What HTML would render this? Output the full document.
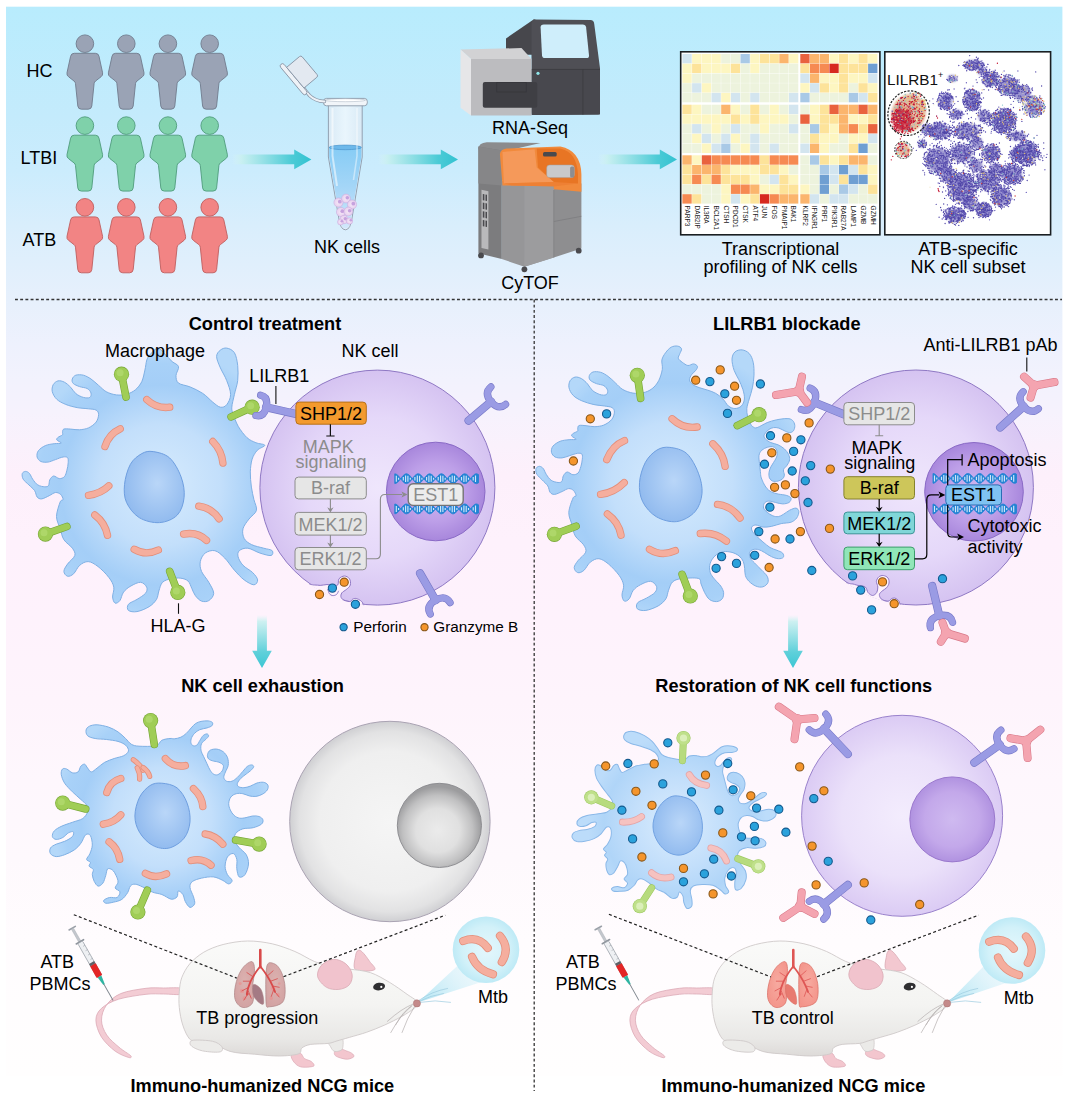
<!DOCTYPE html>
<html><head><meta charset="utf-8"><title>Graphical abstract</title>
<style>html,body{margin:0;padding:0;background:#fff}svg{display:block}text{font-family:"Liberation Sans",sans-serif}</style>
</head><body>
<svg width="1067" height="1104" viewBox="0 0 1067 1104">
<!-- p00_base -->
<defs>
<linearGradient id="bg" x1="0" y1="0" x2="0" y2="1">
<stop offset="0.0000" stop-color="#b8ecfd"/>
<stop offset="0.1022" stop-color="#c4ebfc"/>
<stop offset="0.1527" stop-color="#cbecfd"/>
<stop offset="0.2051" stop-color="#d9eefc"/>
<stop offset="0.2762" stop-color="#e7f0fc"/>
<stop offset="0.3173" stop-color="#eef1fd"/>
<stop offset="0.3491" stop-color="#f2f2fd"/>
<stop offset="0.3790" stop-color="#f6f2fd"/>
<stop offset="0.4099" stop-color="#faf1fc"/>
<stop offset="0.4380" stop-color="#fdf0fb"/>
<stop offset="0.4987" stop-color="#fef1fc"/>
<stop offset="0.5736" stop-color="#fef2fc"/>
<stop offset="0.6484" stop-color="#fef4fc"/>
<stop offset="0.7232" stop-color="#fef7fd"/>
<stop offset="0.7980" stop-color="#fef9fd"/>
<stop offset="0.8728" stop-color="#fffcfe"/>
<stop offset="1.0000" stop-color="#fffefe"/>
</linearGradient>
<linearGradient id="bgU" href="#bg" gradientUnits="userSpaceOnUse" x1="0" y1="6.7" x2="0" y2="1076"/>
<linearGradient id="arH" x1="0" y1="0" x2="1" y2="0">
<stop offset="0" stop-color="#d8f4f4" stop-opacity="0.0"/>
<stop offset="0.12" stop-color="#c8f0f0" stop-opacity="0.9"/>
<stop offset="0.75" stop-color="#4ccbd6"/>
<stop offset="1" stop-color="#33c2d1"/>
</linearGradient>
<linearGradient id="arV" x1="0" y1="0" x2="0" y2="1">
<stop offset="0" stop-color="#d8f4f4" stop-opacity="0.0"/>
<stop offset="0.12" stop-color="#c8f0f0" stop-opacity="0.9"/>
<stop offset="0.7" stop-color="#5fd0da"/>
<stop offset="1" stop-color="#3cc6d4"/>
</linearGradient>
</defs>
<rect x="0" y="0" width="1067" height="1104" fill="#ffffff"/>
<rect x="6" y="6.7" width="1056.4" height="1069.3" fill="url(#bg)"/>
<path d="M15 299.5H1062M534.2 299.5V1091" fill="none" stroke="#333" stroke-width="1.3" stroke-dasharray="2.9 2.3"/>
<!-- p01_people -->
<path d="M74.4 53.3h21 q3 0 3.6 3 l3.6 16.5 q0.5 2.6 -1.6 4 l-5.4 4.2 q-1.3 1 -1.5 2.6 l-2.3 22.4 q-0.4 3.2 -3.6 3.2 h-6.8 q-3.2 0 -3.6 -3.2 l-2.3 -22.4 q-0.2 -1.6 -1.5 -2.6 l-5.4 -4.2 q-2.1 -1.4 -1.6 -4 l3.6 -16.5 q0.6 -3 3.6 -3z" fill="#9aa3b5" stroke="#717a8c" stroke-width="0.9"/><circle cx="84.9" cy="43.7" r="8.8" fill="#9aa3b5" stroke="#717a8c" stroke-width="0.9"/>
<path d="M115.8 53.3h21 q3 0 3.6 3 l3.6 16.5 q0.5 2.6 -1.6 4 l-5.4 4.2 q-1.3 1 -1.5 2.6 l-2.3 22.4 q-0.4 3.2 -3.6 3.2 h-6.8 q-3.2 0 -3.6 -3.2 l-2.3 -22.4 q-0.2 -1.6 -1.5 -2.6 l-5.4 -4.2 q-2.1 -1.4 -1.6 -4 l3.6 -16.5 q0.6 -3 3.6 -3z" fill="#9aa3b5" stroke="#717a8c" stroke-width="0.9"/><circle cx="126.3" cy="43.7" r="8.8" fill="#9aa3b5" stroke="#717a8c" stroke-width="0.9"/>
<path d="M157.4 53.3h21 q3 0 3.6 3 l3.6 16.5 q0.5 2.6 -1.6 4 l-5.4 4.2 q-1.3 1 -1.5 2.6 l-2.3 22.4 q-0.4 3.2 -3.6 3.2 h-6.8 q-3.2 0 -3.6 -3.2 l-2.3 -22.4 q-0.2 -1.6 -1.5 -2.6 l-5.4 -4.2 q-2.1 -1.4 -1.6 -4 l3.6 -16.5 q0.6 -3 3.6 -3z" fill="#9aa3b5" stroke="#717a8c" stroke-width="0.9"/><circle cx="167.9" cy="43.7" r="8.8" fill="#9aa3b5" stroke="#717a8c" stroke-width="0.9"/>
<path d="M199.2 53.3h21 q3 0 3.6 3 l3.6 16.5 q0.5 2.6 -1.6 4 l-5.4 4.2 q-1.3 1 -1.5 2.6 l-2.3 22.4 q-0.4 3.2 -3.6 3.2 h-6.8 q-3.2 0 -3.6 -3.2 l-2.3 -22.4 q-0.2 -1.6 -1.5 -2.6 l-5.4 -4.2 q-2.1 -1.4 -1.6 -4 l3.6 -16.5 q0.6 -3 3.6 -3z" fill="#9aa3b5" stroke="#717a8c" stroke-width="0.9"/><circle cx="209.7" cy="43.7" r="8.8" fill="#9aa3b5" stroke="#717a8c" stroke-width="0.9"/>
<path d="M74.4 135.2h21 q3 0 3.6 3 l3.6 16.5 q0.5 2.6 -1.6 4 l-5.4 4.2 q-1.3 1 -1.5 2.6 l-2.3 22.4 q-0.4 3.2 -3.6 3.2 h-6.8 q-3.2 0 -3.6 -3.2 l-2.3 -22.4 q-0.2 -1.6 -1.5 -2.6 l-5.4 -4.2 q-2.1 -1.4 -1.6 -4 l3.6 -16.5 q0.6 -3 3.6 -3z" fill="#7fd1aa" stroke="#4f9c7c" stroke-width="0.9"/><circle cx="84.9" cy="125.6" r="8.8" fill="#7fd1aa" stroke="#4f9c7c" stroke-width="0.9"/>
<path d="M115.8 135.2h21 q3 0 3.6 3 l3.6 16.5 q0.5 2.6 -1.6 4 l-5.4 4.2 q-1.3 1 -1.5 2.6 l-2.3 22.4 q-0.4 3.2 -3.6 3.2 h-6.8 q-3.2 0 -3.6 -3.2 l-2.3 -22.4 q-0.2 -1.6 -1.5 -2.6 l-5.4 -4.2 q-2.1 -1.4 -1.6 -4 l3.6 -16.5 q0.6 -3 3.6 -3z" fill="#7fd1aa" stroke="#4f9c7c" stroke-width="0.9"/><circle cx="126.3" cy="125.6" r="8.8" fill="#7fd1aa" stroke="#4f9c7c" stroke-width="0.9"/>
<path d="M157.4 135.2h21 q3 0 3.6 3 l3.6 16.5 q0.5 2.6 -1.6 4 l-5.4 4.2 q-1.3 1 -1.5 2.6 l-2.3 22.4 q-0.4 3.2 -3.6 3.2 h-6.8 q-3.2 0 -3.6 -3.2 l-2.3 -22.4 q-0.2 -1.6 -1.5 -2.6 l-5.4 -4.2 q-2.1 -1.4 -1.6 -4 l3.6 -16.5 q0.6 -3 3.6 -3z" fill="#7fd1aa" stroke="#4f9c7c" stroke-width="0.9"/><circle cx="167.9" cy="125.6" r="8.8" fill="#7fd1aa" stroke="#4f9c7c" stroke-width="0.9"/>
<path d="M199.2 135.2h21 q3 0 3.6 3 l3.6 16.5 q0.5 2.6 -1.6 4 l-5.4 4.2 q-1.3 1 -1.5 2.6 l-2.3 22.4 q-0.4 3.2 -3.6 3.2 h-6.8 q-3.2 0 -3.6 -3.2 l-2.3 -22.4 q-0.2 -1.6 -1.5 -2.6 l-5.4 -4.2 q-2.1 -1.4 -1.6 -4 l3.6 -16.5 q0.6 -3 3.6 -3z" fill="#7fd1aa" stroke="#4f9c7c" stroke-width="0.9"/><circle cx="209.7" cy="125.6" r="8.8" fill="#7fd1aa" stroke="#4f9c7c" stroke-width="0.9"/>
<path d="M74.4 216.9h21 q3 0 3.6 3 l3.6 16.5 q0.5 2.6 -1.6 4 l-5.4 4.2 q-1.3 1 -1.5 2.6 l-2.3 22.4 q-0.4 3.2 -3.6 3.2 h-6.8 q-3.2 0 -3.6 -3.2 l-2.3 -22.4 q-0.2 -1.6 -1.5 -2.6 l-5.4 -4.2 q-2.1 -1.4 -1.6 -4 l3.6 -16.5 q0.6 -3 3.6 -3z" fill="#f28484" stroke="#bf5e5e" stroke-width="0.9"/><circle cx="84.9" cy="207.3" r="8.8" fill="#f28484" stroke="#bf5e5e" stroke-width="0.9"/>
<path d="M115.8 216.9h21 q3 0 3.6 3 l3.6 16.5 q0.5 2.6 -1.6 4 l-5.4 4.2 q-1.3 1 -1.5 2.6 l-2.3 22.4 q-0.4 3.2 -3.6 3.2 h-6.8 q-3.2 0 -3.6 -3.2 l-2.3 -22.4 q-0.2 -1.6 -1.5 -2.6 l-5.4 -4.2 q-2.1 -1.4 -1.6 -4 l3.6 -16.5 q0.6 -3 3.6 -3z" fill="#f28484" stroke="#bf5e5e" stroke-width="0.9"/><circle cx="126.3" cy="207.3" r="8.8" fill="#f28484" stroke="#bf5e5e" stroke-width="0.9"/>
<path d="M157.4 216.9h21 q3 0 3.6 3 l3.6 16.5 q0.5 2.6 -1.6 4 l-5.4 4.2 q-1.3 1 -1.5 2.6 l-2.3 22.4 q-0.4 3.2 -3.6 3.2 h-6.8 q-3.2 0 -3.6 -3.2 l-2.3 -22.4 q-0.2 -1.6 -1.5 -2.6 l-5.4 -4.2 q-2.1 -1.4 -1.6 -4 l3.6 -16.5 q0.6 -3 3.6 -3z" fill="#f28484" stroke="#bf5e5e" stroke-width="0.9"/><circle cx="167.9" cy="207.3" r="8.8" fill="#f28484" stroke="#bf5e5e" stroke-width="0.9"/>
<path d="M199.2 216.9h21 q3 0 3.6 3 l3.6 16.5 q0.5 2.6 -1.6 4 l-5.4 4.2 q-1.3 1 -1.5 2.6 l-2.3 22.4 q-0.4 3.2 -3.6 3.2 h-6.8 q-3.2 0 -3.6 -3.2 l-2.3 -22.4 q-0.2 -1.6 -1.5 -2.6 l-5.4 -4.2 q-2.1 -1.4 -1.6 -4 l3.6 -16.5 q0.6 -3 3.6 -3z" fill="#f28484" stroke="#bf5e5e" stroke-width="0.9"/><circle cx="209.7" cy="207.3" r="8.8" fill="#f28484" stroke="#bf5e5e" stroke-width="0.9"/>
<!-- p02_arrows -->
<path d="M232 154.5H294.2V149.6L311.4 159.4L294.2 169.2V164.3H232Z" fill="url(#arH)"/>
<path d="M378 154.5H440.8V149.6L458 159.4L440.8 169.2V164.3H378Z" fill="url(#arH)"/>
<path d="M598 154.5H659.8V149.6L677 159.4L659.8 169.2V164.3H598Z" fill="url(#arH)"/>
<path d="M257.1 615V650.8H252.2L262 668L271.8 650.8H266.9V615Z" fill="url(#arV)"/>
<path d="M788.1 615V650.8H783.2L793 668L802.8 650.8H797.9V615Z" fill="url(#arV)"/>
<!-- p03_tube -->
<defs>
<linearGradient id="liq" x1="0" y1="0" x2="0" y2="1"><stop offset="0" stop-color="#86ccf5"/><stop offset="0.5" stop-color="#a5d6f7"/><stop offset="1" stop-color="#d3e8fb"/></linearGradient>
<linearGradient id="tubeg" x1="0" y1="0" x2="1" y2="0"><stop offset="0" stop-color="#dfe9f3"/><stop offset="0.5" stop-color="#f5f9fd"/><stop offset="1" stop-color="#dfe9f3"/></linearGradient>
<radialGradient id="nkc" cx="0.5" cy="0.5" r="0.5"><stop offset="0" stop-color="#f6e8f7"/><stop offset="1" stop-color="#e6cfee"/></radialGradient>
</defs>
<path d="M328.4 104V157L338.6 217Q340.2 229.8 345.4 229.8Q350.6 229.8 352.2 217L362.2 157V104Z" fill="url(#tubeg)" fill-opacity="0.75" stroke="#8b98a8" stroke-width="0.9"/>
<path d="M329.2 147.2V157L339.4 217Q340.9 228.8 345.4 228.8Q349.9 228.8 351.4 217L361.4 157V147.2Z" fill="url(#liq)"/>
<ellipse cx="345.3" cy="147.4" rx="16.1" ry="2.3" fill="#6db8ea" stroke="#4a94cc" stroke-width="0.7"/>
<path d="M332.5 108V156L337 186" fill="none" stroke="#ffffff" stroke-opacity="0.55" stroke-width="2"/>
<path d="M357 108V156L353.5 180" fill="none" stroke="#ffffff" stroke-opacity="0.45" stroke-width="1.6"/>
<circle cx="338.5" cy="202.5" r="4.6" fill="url(#nkc)" stroke="#c9a6dc" stroke-width="0.5"/><circle cx="339.8" cy="201.7" r="1.9" fill="#c6a2de"/><circle cx="346" cy="198.5" r="4.4" fill="url(#nkc)" stroke="#c9a6dc" stroke-width="0.5"/><circle cx="347.3" cy="197.7" r="1.8" fill="#c6a2de"/><circle cx="352" cy="204.5" r="4.6" fill="url(#nkc)" stroke="#c9a6dc" stroke-width="0.5"/><circle cx="353.3" cy="203.7" r="1.9" fill="#c6a2de"/><circle cx="341" cy="212" r="4.6" fill="url(#nkc)" stroke="#c9a6dc" stroke-width="0.5"/><circle cx="342.3" cy="211.2" r="1.9" fill="#c6a2de"/><circle cx="348.3" cy="211.5" r="4.4" fill="url(#nkc)" stroke="#c9a6dc" stroke-width="0.5"/><circle cx="349.6" cy="210.7" r="1.8" fill="#c6a2de"/><circle cx="344" cy="219.5" r="4.2" fill="url(#nkc)" stroke="#c9a6dc" stroke-width="0.5"/><circle cx="345.3" cy="218.7" r="1.8" fill="#c6a2de"/><circle cx="349.5" cy="221" r="3.2" fill="url(#nkc)" stroke="#c9a6dc" stroke-width="0.5"/><circle cx="350.8" cy="220.2" r="1.3" fill="#c6a2de"/><circle cx="340.5" cy="222" r="3" fill="url(#nkc)" stroke="#c9a6dc" stroke-width="0.5"/><circle cx="341.8" cy="221.2" r="1.3" fill="#c6a2de"/>
<rect x="323.5" y="98.4" width="43.8" height="7.4" rx="3" fill="#f1f5f9" stroke="#8b98a8" stroke-width="0.9"/>
<ellipse cx="345.4" cy="100.2" rx="20" ry="1.5" fill="#ffffff" stroke="#a5b1bf" stroke-width="0.5"/>
<path d="M324.5 101.5Q315 101 309.5 95.5Q305.5 91 303.5 87.5" fill="none" stroke="#8b98a8" stroke-width="3.4" stroke-linecap="round"/>
<path d="M324.5 101.5Q315 101 309.5 95.5Q305.5 91 303.5 87.5" fill="none" stroke="#eef2f7" stroke-width="1.8" stroke-linecap="round"/>
<g transform="translate(297,76.3) rotate(50)"><rect x="-19.5" y="2.2" width="39" height="4.6" rx="2.3" fill="#eef2f7" stroke="#8b98a8" stroke-width="0.9"/><path d="M-13.5 2.2V-14.5Q-13.5 -16.5 -11.5 -16.5H11.5Q13.5 -16.5 13.5 -14.5V2.2Z" fill="#e3e9f1" stroke="#8b98a8" stroke-width="0.9"/></g>
<!-- p04_machines -->
<polygon points="506,38.4 533.6,19.5 535.4,19.5 535.4,54.7 506,54.7" fill="#47474c"/>
<path d="M533.6 19.5L590.6 20Q593.7 20 594.2 23.7L600 68.3L600 111.9Q600 114.6 597.1 114.6L534.1 115.1Q531.5 115.1 531.5 111.9L531.5 23.1Z" fill="#4f4f55"/>
<polygon points="531.5,69.4 600,69.4 600,114.6 531.5,115.1" fill="#48484e"/>
<path d="M531.5 69.4H600" stroke="#3a3a3f" stroke-width="0.8"/>
<path d="M582.9 69.4V114.6" stroke="#3a3a3f" stroke-width="0.8"/>
<path d="M540.6 27.3 Q540.6 24.5 543.8 24.5 L582.7 24.5 Q585.6 24.5 586.1 27.3 L589 55.2 Q589.3 58.1 586.4 58.1 L545.1 58.1 Q542.2 58.1 542 55.2 Z" fill="#cfeefb"/>
<circle cx="538" cy="73.3" r="1.6" fill="#8fe6ea"/>
<polygon points="460.5,49.4 521.5,48.1 531.5,58.9 471,58.9" fill="#d2d2d4"/>
<polygon points="460.5,49.4 471,58.9 471,115.6 460.5,107.7" fill="#e6e6e8"/>
<polygon points="471,58.9 531.5,58.9 531.5,115.6 471,115.6" fill="#bcbcbf"/>
<rect x="482.8" y="82" width="54.4" height="25.7" rx="2" fill="#3f3f44"/>
<rect x="496.8" y="82.5" width="29.4" height="9.5" fill="none" stroke="#333338" stroke-width="0.6"/>
<path d="M478.4 149.3 Q478.4 142.7 486.8 142.2 L540.6 142.9 L502.5 151.9 Z" fill="#8b8b8d"/>
<polygon points="478.4,146.6 501.8,150.6 501.8,259.1 478.4,253.3" fill="#7c7c7e"/>
<polygon points="478.4,146.6 501.8,150.6 501.8,185.5 478.4,183.4" fill="#868688"/>
<polygon points="481.5,189.7 488.4,191.3 488.4,249.6 481.5,248" fill="#b9b9bb"/>
<polygon points="482.8,193.9 484.4,194.2 484.4,200.5 482.8,200.2" fill="#4a4a4e"/>
<polygon points="485.5,194.4 487,194.7 487,201 485.5,200.8" fill="#4a4a4e"/>
<polygon points="482.8,202.6 484.4,202.9 484.4,209.2 482.8,208.9" fill="#4a4a4e"/>
<polygon points="485.5,203.1 487,203.4 487,209.7 485.5,209.4" fill="#4a4a4e"/>
<polygon points="482.8,211.3 484.4,211.5 484.4,217.8 482.8,217.6" fill="#4a4a4e"/>
<polygon points="485.5,211.8 487,212 487,218.4 485.5,218.1" fill="#4a4a4e"/>
<polygon points="482.8,219.9 484.4,220.2 484.4,226.5 482.8,226.2" fill="#4a4a4e"/>
<polygon points="485.5,220.5 487,220.7 487,227 485.5,226.8" fill="#4a4a4e"/>
<polygon points="501.8,180.8 553.8,180.8 553.8,257.5 524.4,266.7 501.8,259.1" fill="#969698"/>
<polygon points="524.4,183.4 553.8,183.4 553.8,257.5 524.4,266.7" fill="#9c9c9e"/>
<polygon points="553.8,183.4 581.4,183.4 581.4,248.6 553.8,257.5" fill="#8e8e90"/>
<path d="M553.8 221.5L581.4 216.3" stroke="#7a7a7c" stroke-width="0.7"/>
<path d="M553.8 190V257.5" stroke="#7e7e80" stroke-width="0.7"/>
<path d="M499.9 154 Q500.4 149.3 506.5 148.5 L560.4 146.6 Q580.6 150.6 581.4 174.2 L581.4 191.8 L553.8 189.2 L553.8 185.5 L502.5 185.5 Z" fill="#f18a3c"/>
<path d="M536.7 148.5 L560.4 148.5 Q576.6 151.9 578 174.2 L578 183.4 L555.1 183.4 L538 167.6 Z" fill="#e87524"/>
<polygon points="502.5,151.9 534.6,149.3 536.7,167.6 553.8,182.1 503.9,183.4" fill="#f5995a"/>
<polygon points="503.9,183.4 553.8,182.1 578,183.4 553.8,186.6 511.7,185.5" fill="#ee8034"/>
<rect x="543" y="151.9" width="13.7" height="4.7" rx="1.5" fill="#4a4a4e"/>
<rect x="546.7" y="165" width="27.6" height="12.6" rx="3" fill="#c9c9cb" stroke="#a2a2a4" stroke-width="0.5"/>
<rect x="570.1" y="166.6" width="4.2" height="11" rx="1.5" fill="#8d8d90"/>
<circle cx="481" cy="255.4" r="2.9" fill="#4a4a4e"/>
<circle cx="524.4" cy="269.3" r="2.9" fill="#4a4a4e"/>
<circle cx="578.7" cy="250.7" r="2.9" fill="#4a4a4e"/>
<!-- p05_heatmap -->
<rect x="680.7" y="51.8" width="199.2" height="183" fill="#ffffff" stroke="#1a1f22" stroke-width="1.6"/>
<rect x="682.4" y="54" width="9.3" height="9.4" fill="#d3e5ef"/><rect x="692.1" y="54" width="9.3" height="9.4" fill="#fdf6c1"/><rect x="701.8" y="54" width="9.3" height="9.4" fill="#fdf6c1"/><rect x="711.5" y="54" width="9.3" height="9.4" fill="#fdf6c1"/><rect x="721.2" y="54" width="9.3" height="9.4" fill="#edf3dd"/><rect x="730.9" y="54" width="9.3" height="9.4" fill="#edf3dd"/><rect x="740.5" y="54" width="9.3" height="9.4" fill="#a9c9e6"/><rect x="750.2" y="54" width="9.3" height="9.4" fill="#fdf6c1"/><rect x="759.9" y="54" width="9.3" height="9.4" fill="#fde39a"/><rect x="769.6" y="54" width="9.3" height="9.4" fill="#fde39a"/><rect x="779.3" y="54" width="9.3" height="9.4" fill="#fbb56d"/><rect x="789" y="54" width="9.3" height="9.4" fill="#fdf6c1"/><rect x="800.3" y="54" width="9.3" height="9.4" fill="#e9623e"/><rect x="810" y="54" width="9.3" height="9.4" fill="#fbb56d"/><rect x="819.7" y="54" width="9.3" height="9.4" fill="#fbb56d"/><rect x="829.4" y="54" width="9.3" height="9.4" fill="#fdf6c1"/><rect x="839" y="54" width="9.3" height="9.4" fill="#fde39a"/><rect x="848.7" y="54" width="9.3" height="9.4" fill="#fdf6c1"/><rect x="858.4" y="54" width="9.3" height="9.4" fill="#fde39a"/><rect x="868.1" y="54" width="9.3" height="9.4" fill="#fdf6c1"/>
<rect x="682.4" y="63.7" width="9.3" height="9.4" fill="#fdf6c1"/><rect x="692.1" y="63.7" width="9.3" height="9.4" fill="#fde39a"/><rect x="701.8" y="63.7" width="9.3" height="9.4" fill="#fdf6c1"/><rect x="711.5" y="63.7" width="9.3" height="9.4" fill="#fdf6c1"/><rect x="721.2" y="63.7" width="9.3" height="9.4" fill="#fdf6c1"/><rect x="730.9" y="63.7" width="9.3" height="9.4" fill="#fde39a"/><rect x="740.5" y="63.7" width="9.3" height="9.4" fill="#edf3dd"/><rect x="750.2" y="63.7" width="9.3" height="9.4" fill="#fdf6c1"/><rect x="759.9" y="63.7" width="9.3" height="9.4" fill="#edf3dd"/><rect x="769.6" y="63.7" width="9.3" height="9.4" fill="#edf3dd"/><rect x="779.3" y="63.7" width="9.3" height="9.4" fill="#edf3dd"/><rect x="789" y="63.7" width="9.3" height="9.4" fill="#edf3dd"/><rect x="800.3" y="63.7" width="9.3" height="9.4" fill="#fde39a"/><rect x="810" y="63.7" width="9.3" height="9.4" fill="#f68a52"/><rect x="819.7" y="63.7" width="9.3" height="9.4" fill="#f68a52"/><rect x="829.4" y="63.7" width="9.3" height="9.4" fill="#d7291f"/><rect x="839" y="63.7" width="9.3" height="9.4" fill="#fde39a"/><rect x="848.7" y="63.7" width="9.3" height="9.4" fill="#fde39a"/><rect x="858.4" y="63.7" width="9.3" height="9.4" fill="#fde39a"/><rect x="868.1" y="63.7" width="9.3" height="9.4" fill="#6f9fd2"/>
<rect x="682.4" y="73.5" width="9.3" height="9.4" fill="#fdf6c1"/><rect x="692.1" y="73.5" width="9.3" height="9.4" fill="#edf3dd"/><rect x="701.8" y="73.5" width="9.3" height="9.4" fill="#edf3dd"/><rect x="711.5" y="73.5" width="9.3" height="9.4" fill="#edf3dd"/><rect x="721.2" y="73.5" width="9.3" height="9.4" fill="#edf3dd"/><rect x="730.9" y="73.5" width="9.3" height="9.4" fill="#edf3dd"/><rect x="740.5" y="73.5" width="9.3" height="9.4" fill="#edf3dd"/><rect x="750.2" y="73.5" width="9.3" height="9.4" fill="#edf3dd"/><rect x="759.9" y="73.5" width="9.3" height="9.4" fill="#edf3dd"/><rect x="769.6" y="73.5" width="9.3" height="9.4" fill="#edf3dd"/><rect x="779.3" y="73.5" width="9.3" height="9.4" fill="#edf3dd"/><rect x="789" y="73.5" width="9.3" height="9.4" fill="#edf3dd"/><rect x="800.3" y="73.5" width="9.3" height="9.4" fill="#d3e5ef"/><rect x="810" y="73.5" width="9.3" height="9.4" fill="#fbb56d"/><rect x="819.7" y="73.5" width="9.3" height="9.4" fill="#fdf6c1"/><rect x="829.4" y="73.5" width="9.3" height="9.4" fill="#fdf6c1"/><rect x="839" y="73.5" width="9.3" height="9.4" fill="#fde39a"/><rect x="848.7" y="73.5" width="9.3" height="9.4" fill="#fdf6c1"/><rect x="858.4" y="73.5" width="9.3" height="9.4" fill="#fdf6c1"/><rect x="868.1" y="73.5" width="9.3" height="9.4" fill="#d3e5ef"/>
<rect x="682.4" y="83.2" width="9.3" height="9.4" fill="#edf3dd"/><rect x="692.1" y="83.2" width="9.3" height="9.4" fill="#d3e5ef"/><rect x="701.8" y="83.2" width="9.3" height="9.4" fill="#fdf6c1"/><rect x="711.5" y="83.2" width="9.3" height="9.4" fill="#edf3dd"/><rect x="721.2" y="83.2" width="9.3" height="9.4" fill="#edf3dd"/><rect x="730.9" y="83.2" width="9.3" height="9.4" fill="#edf3dd"/><rect x="740.5" y="83.2" width="9.3" height="9.4" fill="#edf3dd"/><rect x="750.2" y="83.2" width="9.3" height="9.4" fill="#edf3dd"/><rect x="759.9" y="83.2" width="9.3" height="9.4" fill="#edf3dd"/><rect x="769.6" y="83.2" width="9.3" height="9.4" fill="#edf3dd"/><rect x="779.3" y="83.2" width="9.3" height="9.4" fill="#edf3dd"/><rect x="789" y="83.2" width="9.3" height="9.4" fill="#edf3dd"/><rect x="800.3" y="83.2" width="9.3" height="9.4" fill="#fdf6c1"/><rect x="810" y="83.2" width="9.3" height="9.4" fill="#d3e5ef"/><rect x="819.7" y="83.2" width="9.3" height="9.4" fill="#fde39a"/><rect x="829.4" y="83.2" width="9.3" height="9.4" fill="#fdf6c1"/><rect x="839" y="83.2" width="9.3" height="9.4" fill="#fde39a"/><rect x="848.7" y="83.2" width="9.3" height="9.4" fill="#edf3dd"/><rect x="858.4" y="83.2" width="9.3" height="9.4" fill="#fde39a"/><rect x="868.1" y="83.2" width="9.3" height="9.4" fill="#fdf6c1"/>
<rect x="682.4" y="92.9" width="9.3" height="9.4" fill="#edf3dd"/><rect x="692.1" y="92.9" width="9.3" height="9.4" fill="#edf3dd"/><rect x="701.8" y="92.9" width="9.3" height="9.4" fill="#edf3dd"/><rect x="711.5" y="92.9" width="9.3" height="9.4" fill="#d3e5ef"/><rect x="721.2" y="92.9" width="9.3" height="9.4" fill="#fdf6c1"/><rect x="730.9" y="92.9" width="9.3" height="9.4" fill="#d3e5ef"/><rect x="740.5" y="92.9" width="9.3" height="9.4" fill="#edf3dd"/><rect x="750.2" y="92.9" width="9.3" height="9.4" fill="#d3e5ef"/><rect x="759.9" y="92.9" width="9.3" height="9.4" fill="#edf3dd"/><rect x="769.6" y="92.9" width="9.3" height="9.4" fill="#edf3dd"/><rect x="779.3" y="92.9" width="9.3" height="9.4" fill="#edf3dd"/><rect x="789" y="92.9" width="9.3" height="9.4" fill="#d3e5ef"/><rect x="800.3" y="92.9" width="9.3" height="9.4" fill="#a9c9e6"/><rect x="810" y="92.9" width="9.3" height="9.4" fill="#edf3dd"/><rect x="819.7" y="92.9" width="9.3" height="9.4" fill="#edf3dd"/><rect x="829.4" y="92.9" width="9.3" height="9.4" fill="#edf3dd"/><rect x="839" y="92.9" width="9.3" height="9.4" fill="#edf3dd"/><rect x="848.7" y="92.9" width="9.3" height="9.4" fill="#a9c9e6"/><rect x="858.4" y="92.9" width="9.3" height="9.4" fill="#d3e5ef"/><rect x="868.1" y="92.9" width="9.3" height="9.4" fill="#fde39a"/>
<rect x="682.4" y="104.7" width="9.3" height="9.4" fill="#fde39a"/><rect x="692.1" y="104.7" width="9.3" height="9.4" fill="#fdf6c1"/><rect x="701.8" y="104.7" width="9.3" height="9.4" fill="#edf3dd"/><rect x="711.5" y="104.7" width="9.3" height="9.4" fill="#edf3dd"/><rect x="721.2" y="104.7" width="9.3" height="9.4" fill="#fbb56d"/><rect x="730.9" y="104.7" width="9.3" height="9.4" fill="#fdf6c1"/><rect x="740.5" y="104.7" width="9.3" height="9.4" fill="#edf3dd"/><rect x="750.2" y="104.7" width="9.3" height="9.4" fill="#fde39a"/><rect x="759.9" y="104.7" width="9.3" height="9.4" fill="#edf3dd"/><rect x="769.6" y="104.7" width="9.3" height="9.4" fill="#fdf6c1"/><rect x="779.3" y="104.7" width="9.3" height="9.4" fill="#edf3dd"/><rect x="789" y="104.7" width="9.3" height="9.4" fill="#d3e5ef"/><rect x="800.3" y="104.7" width="9.3" height="9.4" fill="#edf3dd"/><rect x="810" y="104.7" width="9.3" height="9.4" fill="#fdf6c1"/><rect x="819.7" y="104.7" width="9.3" height="9.4" fill="#fde39a"/><rect x="829.4" y="104.7" width="9.3" height="9.4" fill="#e9623e"/><rect x="839" y="104.7" width="9.3" height="9.4" fill="#fbb56d"/><rect x="848.7" y="104.7" width="9.3" height="9.4" fill="#fbb56d"/><rect x="858.4" y="104.7" width="9.3" height="9.4" fill="#e9623e"/><rect x="868.1" y="104.7" width="9.3" height="9.4" fill="#fbb56d"/>
<rect x="682.4" y="114.4" width="9.3" height="9.4" fill="#fdf6c1"/><rect x="692.1" y="114.4" width="9.3" height="9.4" fill="#fdf6c1"/><rect x="701.8" y="114.4" width="9.3" height="9.4" fill="#fdf6c1"/><rect x="711.5" y="114.4" width="9.3" height="9.4" fill="#fdf6c1"/><rect x="721.2" y="114.4" width="9.3" height="9.4" fill="#fdf6c1"/><rect x="730.9" y="114.4" width="9.3" height="9.4" fill="#fde39a"/><rect x="740.5" y="114.4" width="9.3" height="9.4" fill="#fdf6c1"/><rect x="750.2" y="114.4" width="9.3" height="9.4" fill="#fde39a"/><rect x="759.9" y="114.4" width="9.3" height="9.4" fill="#fdf6c1"/><rect x="769.6" y="114.4" width="9.3" height="9.4" fill="#fdf6c1"/><rect x="779.3" y="114.4" width="9.3" height="9.4" fill="#fdf6c1"/><rect x="789" y="114.4" width="9.3" height="9.4" fill="#edf3dd"/><rect x="800.3" y="114.4" width="9.3" height="9.4" fill="#e9623e"/><rect x="810" y="114.4" width="9.3" height="9.4" fill="#fdf6c1"/><rect x="819.7" y="114.4" width="9.3" height="9.4" fill="#fde39a"/><rect x="829.4" y="114.4" width="9.3" height="9.4" fill="#fde39a"/><rect x="839" y="114.4" width="9.3" height="9.4" fill="#fbb56d"/><rect x="848.7" y="114.4" width="9.3" height="9.4" fill="#fdf6c1"/><rect x="858.4" y="114.4" width="9.3" height="9.4" fill="#fdf6c1"/><rect x="868.1" y="114.4" width="9.3" height="9.4" fill="#fde39a"/>
<rect x="682.4" y="124.1" width="9.3" height="9.4" fill="#edf3dd"/><rect x="692.1" y="124.1" width="9.3" height="9.4" fill="#d3e5ef"/><rect x="701.8" y="124.1" width="9.3" height="9.4" fill="#edf3dd"/><rect x="711.5" y="124.1" width="9.3" height="9.4" fill="#fdf6c1"/><rect x="721.2" y="124.1" width="9.3" height="9.4" fill="#edf3dd"/><rect x="730.9" y="124.1" width="9.3" height="9.4" fill="#d3e5ef"/><rect x="740.5" y="124.1" width="9.3" height="9.4" fill="#edf3dd"/><rect x="750.2" y="124.1" width="9.3" height="9.4" fill="#edf3dd"/><rect x="759.9" y="124.1" width="9.3" height="9.4" fill="#fdf6c1"/><rect x="769.6" y="124.1" width="9.3" height="9.4" fill="#edf3dd"/><rect x="779.3" y="124.1" width="9.3" height="9.4" fill="#edf3dd"/><rect x="789" y="124.1" width="9.3" height="9.4" fill="#d3e5ef"/><rect x="800.3" y="124.1" width="9.3" height="9.4" fill="#edf3dd"/><rect x="810" y="124.1" width="9.3" height="9.4" fill="#a9c9e6"/><rect x="819.7" y="124.1" width="9.3" height="9.4" fill="#fde39a"/><rect x="829.4" y="124.1" width="9.3" height="9.4" fill="#fdf6c1"/><rect x="839" y="124.1" width="9.3" height="9.4" fill="#fbb56d"/><rect x="848.7" y="124.1" width="9.3" height="9.4" fill="#f68a52"/><rect x="858.4" y="124.1" width="9.3" height="9.4" fill="#fde39a"/><rect x="868.1" y="124.1" width="9.3" height="9.4" fill="#e9623e"/>
<rect x="682.4" y="133.8" width="9.3" height="9.4" fill="#edf3dd"/><rect x="692.1" y="133.8" width="9.3" height="9.4" fill="#fdf6c1"/><rect x="701.8" y="133.8" width="9.3" height="9.4" fill="#d3e5ef"/><rect x="711.5" y="133.8" width="9.3" height="9.4" fill="#edf3dd"/><rect x="721.2" y="133.8" width="9.3" height="9.4" fill="#d3e5ef"/><rect x="730.9" y="133.8" width="9.3" height="9.4" fill="#fdf6c1"/><rect x="740.5" y="133.8" width="9.3" height="9.4" fill="#edf3dd"/><rect x="750.2" y="133.8" width="9.3" height="9.4" fill="#d3e5ef"/><rect x="759.9" y="133.8" width="9.3" height="9.4" fill="#edf3dd"/><rect x="769.6" y="133.8" width="9.3" height="9.4" fill="#edf3dd"/><rect x="779.3" y="133.8" width="9.3" height="9.4" fill="#edf3dd"/><rect x="789" y="133.8" width="9.3" height="9.4" fill="#edf3dd"/><rect x="800.3" y="133.8" width="9.3" height="9.4" fill="#edf3dd"/><rect x="810" y="133.8" width="9.3" height="9.4" fill="#fde39a"/><rect x="819.7" y="133.8" width="9.3" height="9.4" fill="#fdf6c1"/><rect x="829.4" y="133.8" width="9.3" height="9.4" fill="#fdf6c1"/><rect x="839" y="133.8" width="9.3" height="9.4" fill="#edf3dd"/><rect x="848.7" y="133.8" width="9.3" height="9.4" fill="#fdf6c1"/><rect x="858.4" y="133.8" width="9.3" height="9.4" fill="#fdf6c1"/><rect x="868.1" y="133.8" width="9.3" height="9.4" fill="#d3e5ef"/>
<rect x="682.4" y="143.6" width="9.3" height="9.4" fill="#edf3dd"/><rect x="692.1" y="143.6" width="9.3" height="9.4" fill="#edf3dd"/><rect x="701.8" y="143.6" width="9.3" height="9.4" fill="#fdf6c1"/><rect x="711.5" y="143.6" width="9.3" height="9.4" fill="#d3e5ef"/><rect x="721.2" y="143.6" width="9.3" height="9.4" fill="#a9c9e6"/><rect x="730.9" y="143.6" width="9.3" height="9.4" fill="#edf3dd"/><rect x="740.5" y="143.6" width="9.3" height="9.4" fill="#fdf6c1"/><rect x="750.2" y="143.6" width="9.3" height="9.4" fill="#d3e5ef"/><rect x="759.9" y="143.6" width="9.3" height="9.4" fill="#edf3dd"/><rect x="769.6" y="143.6" width="9.3" height="9.4" fill="#d3e5ef"/><rect x="779.3" y="143.6" width="9.3" height="9.4" fill="#edf3dd"/><rect x="789" y="143.6" width="9.3" height="9.4" fill="#edf3dd"/><rect x="800.3" y="143.6" width="9.3" height="9.4" fill="#d3e5ef"/><rect x="810" y="143.6" width="9.3" height="9.4" fill="#fbb56d"/><rect x="819.7" y="143.6" width="9.3" height="9.4" fill="#fdf6c1"/><rect x="829.4" y="143.6" width="9.3" height="9.4" fill="#edf3dd"/><rect x="839" y="143.6" width="9.3" height="9.4" fill="#edf3dd"/><rect x="848.7" y="143.6" width="9.3" height="9.4" fill="#fde39a"/><rect x="858.4" y="143.6" width="9.3" height="9.4" fill="#6f9fd2"/><rect x="868.1" y="143.6" width="9.3" height="9.4" fill="#edf3dd"/>
<rect x="682.4" y="155.3" width="9.3" height="9.4" fill="#fbb56d"/><rect x="692.1" y="155.3" width="9.3" height="9.4" fill="#fdf6c1"/><rect x="701.8" y="155.3" width="9.3" height="9.4" fill="#e9623e"/><rect x="711.5" y="155.3" width="9.3" height="9.4" fill="#f68a52"/><rect x="721.2" y="155.3" width="9.3" height="9.4" fill="#f68a52"/><rect x="730.9" y="155.3" width="9.3" height="9.4" fill="#f68a52"/><rect x="740.5" y="155.3" width="9.3" height="9.4" fill="#f68a52"/><rect x="750.2" y="155.3" width="9.3" height="9.4" fill="#f68a52"/><rect x="759.9" y="155.3" width="9.3" height="9.4" fill="#fde39a"/><rect x="769.6" y="155.3" width="9.3" height="9.4" fill="#f68a52"/><rect x="779.3" y="155.3" width="9.3" height="9.4" fill="#f68a52"/><rect x="789" y="155.3" width="9.3" height="9.4" fill="#f68a52"/><rect x="800.3" y="155.3" width="9.3" height="9.4" fill="#edf3dd"/><rect x="810" y="155.3" width="9.3" height="9.4" fill="#a9c9e6"/><rect x="819.7" y="155.3" width="9.3" height="9.4" fill="#fde39a"/><rect x="829.4" y="155.3" width="9.3" height="9.4" fill="#fdf6c1"/><rect x="839" y="155.3" width="9.3" height="9.4" fill="#fde39a"/><rect x="848.7" y="155.3" width="9.3" height="9.4" fill="#fbb56d"/><rect x="858.4" y="155.3" width="9.3" height="9.4" fill="#fbb56d"/><rect x="868.1" y="155.3" width="9.3" height="9.4" fill="#edf3dd"/>
<rect x="682.4" y="165" width="9.3" height="9.4" fill="#fde39a"/><rect x="692.1" y="165" width="9.3" height="9.4" fill="#fbb56d"/><rect x="701.8" y="165" width="9.3" height="9.4" fill="#fbb56d"/><rect x="711.5" y="165" width="9.3" height="9.4" fill="#fbb56d"/><rect x="721.2" y="165" width="9.3" height="9.4" fill="#fde39a"/><rect x="730.9" y="165" width="9.3" height="9.4" fill="#fdf6c1"/><rect x="740.5" y="165" width="9.3" height="9.4" fill="#fdf6c1"/><rect x="750.2" y="165" width="9.3" height="9.4" fill="#fdf6c1"/><rect x="759.9" y="165" width="9.3" height="9.4" fill="#fde39a"/><rect x="769.6" y="165" width="9.3" height="9.4" fill="#fde39a"/><rect x="779.3" y="165" width="9.3" height="9.4" fill="#fdf6c1"/><rect x="789" y="165" width="9.3" height="9.4" fill="#edf3dd"/><rect x="800.3" y="165" width="9.3" height="9.4" fill="#edf3dd"/><rect x="810" y="165" width="9.3" height="9.4" fill="#edf3dd"/><rect x="819.7" y="165" width="9.3" height="9.4" fill="#a9c9e6"/><rect x="829.4" y="165" width="9.3" height="9.4" fill="#d3e5ef"/><rect x="839" y="165" width="9.3" height="9.4" fill="#6f9fd2"/><rect x="848.7" y="165" width="9.3" height="9.4" fill="#d3e5ef"/><rect x="858.4" y="165" width="9.3" height="9.4" fill="#fde39a"/><rect x="868.1" y="165" width="9.3" height="9.4" fill="#fdf6c1"/>
<rect x="682.4" y="174.8" width="9.3" height="9.4" fill="#fde39a"/><rect x="692.1" y="174.8" width="9.3" height="9.4" fill="#f68a52"/><rect x="701.8" y="174.8" width="9.3" height="9.4" fill="#fde39a"/><rect x="711.5" y="174.8" width="9.3" height="9.4" fill="#f68a52"/><rect x="721.2" y="174.8" width="9.3" height="9.4" fill="#fde39a"/><rect x="730.9" y="174.8" width="9.3" height="9.4" fill="#fde39a"/><rect x="740.5" y="174.8" width="9.3" height="9.4" fill="#fde39a"/><rect x="750.2" y="174.8" width="9.3" height="9.4" fill="#fdf6c1"/><rect x="759.9" y="174.8" width="9.3" height="9.4" fill="#edf3dd"/><rect x="769.6" y="174.8" width="9.3" height="9.4" fill="#d3e5ef"/><rect x="779.3" y="174.8" width="9.3" height="9.4" fill="#fde39a"/><rect x="789" y="174.8" width="9.3" height="9.4" fill="#fdf6c1"/><rect x="800.3" y="174.8" width="9.3" height="9.4" fill="#edf3dd"/><rect x="810" y="174.8" width="9.3" height="9.4" fill="#edf3dd"/><rect x="819.7" y="174.8" width="9.3" height="9.4" fill="#6f9fd2"/><rect x="829.4" y="174.8" width="9.3" height="9.4" fill="#d3e5ef"/><rect x="839" y="174.8" width="9.3" height="9.4" fill="#fde39a"/><rect x="848.7" y="174.8" width="9.3" height="9.4" fill="#6f9fd2"/><rect x="858.4" y="174.8" width="9.3" height="9.4" fill="#6f9fd2"/><rect x="868.1" y="174.8" width="9.3" height="9.4" fill="#fdf6c1"/>
<rect x="682.4" y="184.5" width="9.3" height="9.4" fill="#edf3dd"/><rect x="692.1" y="184.5" width="9.3" height="9.4" fill="#edf3dd"/><rect x="701.8" y="184.5" width="9.3" height="9.4" fill="#edf3dd"/><rect x="711.5" y="184.5" width="9.3" height="9.4" fill="#edf3dd"/><rect x="721.2" y="184.5" width="9.3" height="9.4" fill="#fdf6c1"/><rect x="730.9" y="184.5" width="9.3" height="9.4" fill="#f68a52"/><rect x="740.5" y="184.5" width="9.3" height="9.4" fill="#f68a52"/><rect x="750.2" y="184.5" width="9.3" height="9.4" fill="#fbb56d"/><rect x="759.9" y="184.5" width="9.3" height="9.4" fill="#fdf6c1"/><rect x="769.6" y="184.5" width="9.3" height="9.4" fill="#fdf6c1"/><rect x="779.3" y="184.5" width="9.3" height="9.4" fill="#fde39a"/><rect x="789" y="184.5" width="9.3" height="9.4" fill="#fde39a"/><rect x="800.3" y="184.5" width="9.3" height="9.4" fill="#fdf6c1"/><rect x="810" y="184.5" width="9.3" height="9.4" fill="#edf3dd"/><rect x="819.7" y="184.5" width="9.3" height="9.4" fill="#6f9fd2"/><rect x="829.4" y="184.5" width="9.3" height="9.4" fill="#edf3dd"/><rect x="839" y="184.5" width="9.3" height="9.4" fill="#a9c9e6"/><rect x="848.7" y="184.5" width="9.3" height="9.4" fill="#d3e5ef"/><rect x="858.4" y="184.5" width="9.3" height="9.4" fill="#edf3dd"/><rect x="868.1" y="184.5" width="9.3" height="9.4" fill="#fde39a"/>
<rect x="682.4" y="194.2" width="9.3" height="9.4" fill="#f68a52"/><rect x="692.1" y="194.2" width="9.3" height="9.4" fill="#fde39a"/><rect x="701.8" y="194.2" width="9.3" height="9.4" fill="#edf3dd"/><rect x="711.5" y="194.2" width="9.3" height="9.4" fill="#edf3dd"/><rect x="721.2" y="194.2" width="9.3" height="9.4" fill="#fdf6c1"/><rect x="730.9" y="194.2" width="9.3" height="9.4" fill="#d3e5ef"/><rect x="740.5" y="194.2" width="9.3" height="9.4" fill="#fdf6c1"/><rect x="750.2" y="194.2" width="9.3" height="9.4" fill="#fde39a"/><rect x="759.9" y="194.2" width="9.3" height="9.4" fill="#d7291f"/><rect x="769.6" y="194.2" width="9.3" height="9.4" fill="#f68a52"/><rect x="779.3" y="194.2" width="9.3" height="9.4" fill="#fbb56d"/><rect x="789" y="194.2" width="9.3" height="9.4" fill="#fbb56d"/><rect x="800.3" y="194.2" width="9.3" height="9.4" fill="#fbb56d"/><rect x="810" y="194.2" width="9.3" height="9.4" fill="#d3e5ef"/><rect x="819.7" y="194.2" width="9.3" height="9.4" fill="#edf3dd"/><rect x="829.4" y="194.2" width="9.3" height="9.4" fill="#d3e5ef"/><rect x="839" y="194.2" width="9.3" height="9.4" fill="#d3e5ef"/><rect x="848.7" y="194.2" width="9.3" height="9.4" fill="#edf3dd"/><rect x="858.4" y="194.2" width="9.3" height="9.4" fill="#edf3dd"/><rect x="868.1" y="194.2" width="9.3" height="9.4" fill="#edf3dd"/>
<g font-family="'Liberation Sans', sans-serif" font-size="6.5" fill="#222">
<text transform="translate(684.8,205.6) rotate(90)">PARP3</text><text transform="translate(694.5,205.6) rotate(90)">DAB2IP</text><text transform="translate(704.2,205.6) rotate(90)">IL3RA</text><text transform="translate(713.9,205.6) rotate(90)">BCL2A1</text><text transform="translate(723.6,205.6) rotate(90)">CTSH</text><text transform="translate(733.2,205.6) rotate(90)">PDCD1</text><text transform="translate(742.9,205.6) rotate(90)">CTSK</text><text transform="translate(752.6,205.6) rotate(90)">ATF4</text><text transform="translate(762.3,205.6) rotate(90)">JUN</text><text transform="translate(772,205.6) rotate(90)">FOS</text><text transform="translate(781.7,205.6) rotate(90)">PMAIP1</text><text transform="translate(791.4,205.6) rotate(90)">BAK1</text><text transform="translate(802.7,205.6) rotate(90)">KLRF2</text><text transform="translate(812.4,205.6) rotate(90)">IFNGR1</text><text transform="translate(822.1,205.6) rotate(90)">PRF1</text><text transform="translate(831.8,205.6) rotate(90)">PIK3R1</text><text transform="translate(841.4,205.6) rotate(90)">RAB27A</text><text transform="translate(851.1,205.6) rotate(90)">LAMP1</text><text transform="translate(860.8,205.6) rotate(90)">GZMB</text><text transform="translate(870.5,205.6) rotate(90)">GZMH</text>
</g>
<!-- p06_tsne -->
<rect x="884.8" y="51.8" width="165.8" height="183" fill="#ffffff" stroke="#1a1f22" stroke-width="1.6"/>
<defs><filter id="bl" x="-20%" y="-20%" width="140%" height="140%"><feGaussianBlur stdDeviation="1.1"/></filter></defs>
<g filter="url(#bl)" fill="#594eb0" fill-opacity="0.6"><ellipse cx="973.8" cy="64.7" rx="8.6" ry="4.7"/><ellipse cx="952.3" cy="78.4" rx="4.4" ry="3.3"/><ellipse cx="990.9" cy="79.2" rx="7.4" ry="6.7"/><ellipse cx="1008.2" cy="86.2" rx="9.2" ry="8.9"/><ellipse cx="945.5" cy="101.6" rx="6.7" ry="7.4"/><ellipse cx="972.1" cy="99.9" rx="7.4" ry="8.9"/><ellipse cx="1003.1" cy="120.6" rx="11.1" ry="10.1"/><ellipse cx="1033.9" cy="106.7" rx="9.2" ry="8.6"/><ellipse cx="1021.9" cy="93.1" rx="8.9" ry="7.4"/><ellipse cx="939.4" cy="130.9" rx="10.4" ry="7.4"/><ellipse cx="967" cy="130.9" rx="11.9" ry="7.4"/><ellipse cx="922.1" cy="143.8" rx="3.7" ry="3.7"/><ellipse cx="937.7" cy="160.2" rx="11.6" ry="11.9"/><ellipse cx="961.8" cy="153.1" rx="10.4" ry="8.9"/><ellipse cx="990.9" cy="153.1" rx="7.7" ry="7.7"/><ellipse cx="1027.1" cy="153.1" rx="10.1" ry="10.1"/><ellipse cx="1011.7" cy="173.9" rx="10.4" ry="8.9"/><ellipse cx="987.5" cy="180.7" rx="10.4" ry="8.9"/><ellipse cx="961.8" cy="187.6" rx="11.9" ry="13.3"/><ellipse cx="954.8" cy="215.1" rx="8.9" ry="6.7"/><ellipse cx="984.1" cy="210" rx="6.2" ry="6.2"/><ellipse cx="1001.4" cy="196.3" rx="8.9" ry="8.9"/><ellipse cx="1016.8" cy="136" rx="8.9" ry="4.4"/><ellipse cx="956.5" cy="114.2" rx="5.9" ry="4.4"/><ellipse cx="984.1" cy="116.1" rx="5.9" ry="5.9"/><ellipse cx="976.5" cy="142.7" rx="5.9" ry="5.9"/><ellipse cx="948" cy="175" rx="6.7" ry="7.4"/><ellipse cx="970.8" cy="203.5" rx="6.7" ry="5.9"/><ellipse cx="995.5" cy="169.3" rx="5.9" ry="5.9"/><ellipse cx="927" cy="129.4" rx="5.2" ry="5.2"/><ellipse cx="982.2" cy="71.4" rx="4.4" ry="3.7"/><ellipse cx="1016.4" cy="154.1" rx="5.9" ry="5.9"/><ellipse cx="976.5" cy="165.5" rx="5.9" ry="5.9"/></g>
<g filter="url(#bl)"><ellipse cx="908.6" cy="113.2" rx="17" ry="19.5" transform="rotate(22 908.6 113.2)" fill="#d08a5e" fill-opacity="0.6"/><ellipse cx="902.3" cy="118.9" rx="10" ry="12" fill="#c4122f" fill-opacity="0.75"/><circle cx="903.3" cy="149.9" r="6.5" fill="#cf7a5e" fill-opacity="0.55"/></g>
<path d="M972.1 65.8h0M981.8 63.2h0M986.8 66.9h0M978.3 67h0M966.1 62.3h0M968.3 66.2h0M970.8 69.9h0M966.7 62.7h0M974 62.3h0M969.1 60.1h0M969.7 70.1h0M964.1 66.2h0M972.4 63.4h0M983.8 64.5h0M973 63.9h0M975.8 65.7h0M973.9 68.5h0M966.1 66.1h0M977.4 62.4h0M974.4 67.6h0M973.8 65.1h0M964 62.3h0M976.4 57.2h0M971 65.9h0M972.7 65.5h0M977.1 67.2h0M981.1 68.6h0M981.7 65.5h0M972.1 62h0M974.9 60.3h0M975.5 70.1h0M978.2 58.2h0M969.4 65.1h0M977.2 59.9h0M976.6 65.6h0M962.9 65.4h0M979.3 62.8h0M978.8 67.3h0M979.4 62.1h0M982.7 63h0M977.6 66h0M967.5 62.5h0M967.6 62.3h0M972.3 64.5h0M974.3 69.4h0M981 69h0M964.7 61.8h0M965.4 64.7h0M964.6 65.6h0M965.7 64.2h0M968.7 63.6h0M965.6 64.5h0M965 66.5h0M971.2 60.9h0M982.4 62.9h0M973.3 69.5h0M976.1 66.2h0M974 66.4h0M977 63.4h0M980.3 69.2h0M980.5 63.6h0M975.8 62.8h0M971.2 67h0M982 65.3h0M969.6 68.9h0M983.6 64.2h0M973.6 65.9h0M978.7 67.6h0M973.6 66.9h0M971.2 65.5h0M974.8 63.1h0M978.7 61.6h0M975.7 68h0M976.6 68.6h0M976.9 61.1h0M967.5 67.5h0M966.7 70.7h0M982.4 67h0M982.5 67.5h0M972.7 67.7h0M977.9 68.1h0M969.1 66.8h0M975.8 59.8h0M967.9 64.8h0M978 60.1h0M971.4 60.6h0M969.7 55.6h0M982.3 66h0M973.2 64.7h0M965.8 64.6h0M973.2 62h0M967.1 64.9h0M974.7 60h0M977.2 67.2h0M969.5 60.3h0M966.3 64.3h0M977.7 63h0M981.4 65.2h0M977.7 64.1h0M966 67.6h0M978.4 67.1h0M975.9 63.5h0M971 63h0M969.9 69.6h0M983.3 65.7h0M958.8 65.5h0M968.8 66.4h0M972 62.9h0M963.9 64.7h0M969 69.3h0M974 67.3h0M978.5 62h0M972.6 70h0M968 68.6h0M975.6 63.4h0M969.4 61.5h0M977.3 64.3h0M977.4 59.1h0M957.3 76.7h0M954.2 78.2h0M949.3 76.1h0M954.9 79.8h0M946.9 79.4h0M949.6 80.5h0M949.8 78.4h0M950.8 82.3h0M952.9 81.1h0M951.3 79.9h0M956.9 79.1h0M947.6 80.3h0M949.3 79.2h0M950.4 76.9h0M949.6 80.4h0M952.8 79.4h0M950.7 82.4h0M953.6 78.1h0M951.5 75.6h0M993.6 72.2h0M986.7 76.1h0M987.9 76.4h0M994.5 76.6h0M991.4 71.6h0M990.4 83.5h0M992.7 83h0M991.6 79.3h0M985.4 80.8h0M997.9 81.2h0M989.9 80.5h0M992.8 79.2h0M995.2 70.2h0M993.7 80.2h0M986.7 81.6h0M988 85.5h0M997.2 72.7h0M993.5 74.2h0M991.5 80.1h0M993.3 77.8h0M987.3 79.1h0M993.7 77.9h0M989.1 72.3h0M995.6 73.9h0M988.6 81.7h0M995.3 89.5h0M988.3 74.9h0M995.8 73h0M991 84.5h0M991.2 79.6h0M983.9 81.4h0M985.3 84.9h0M994.3 80h0M990.4 76.8h0M976.2 79.8h0M991.1 75.8h0M992.4 76.2h0M992.1 83.2h0M996.4 83.5h0M995.9 74.6h0M1005.6 89.4h0M992.4 75h0M985.6 84.9h0M990.9 77.3h0M984.9 72.7h0M986.6 75.2h0M989 81.4h0M987.5 79.7h0M992.7 81.3h0M992.1 73.9h0M986.6 74.1h0M982.3 82h0M992.6 78.1h0M991.1 81.2h0M985.7 75.3h0M993.2 83.2h0M997.4 74.3h0M995.5 73h0M996.3 80.4h0M995.5 73.2h0M983.2 82.1h0M998.7 76.7h0M988.9 82.6h0M988.2 72.6h0M995.2 73.1h0M989.8 72.8h0M989 77.5h0M994 79.6h0M990.7 77h0M994.5 72.1h0M997.1 73.1h0M991.1 75.3h0M995.7 79.7h0M987.3 82.7h0M988 78.9h0M983.6 76.3h0M989.5 84.7h0M990.9 77.2h0M988 71.9h0M997.5 77.5h0M998.7 76.4h0M988.4 78.2h0M999 75.7h0M987.4 75h0M987.2 78.2h0M994.1 78.1h0M989.6 78.2h0M995.2 74.9h0M987.1 85.1h0M990 86.6h0M989.4 70.8h0M988.3 82.6h0M988.6 90h0M995.6 79.3h0M984.4 75.6h0M985.8 72.6h0M990.4 86.3h0M989.8 79.3h0M986.2 72.4h0M999.6 79.7h0M990.9 83.2h0M992.6 83.8h0M989.7 80.6h0M997.1 79.6h0M993.7 72.8h0M992.3 87.5h0M994.5 72.2h0M987.7 78.3h0M993.8 75.6h0M987.9 75.2h0M988.9 80.8h0M997.4 77h0M985.3 75.1h0M983.7 77.7h0M1001.6 85.3h0M983.4 83h0M981.9 80h0M994.7 84.9h0M987.5 85.6h0M984.9 80.4h0M993.3 83.8h0M998.8 81.3h0M996.6 82.6h0M987.9 75h0M995.3 76.8h0M995.8 80.7h0M986.2 86.5h0M990.2 76.2h0M996.9 79.1h0M993.8 73.9h0M983.9 79.1h0M987.3 72.9h0M998.3 80.8h0M986.4 72.3h0M991.9 78.8h0M988 85.9h0M992.3 79.4h0M996.7 76.1h0M991.9 73.7h0M998.1 82.1h0M989.1 76.6h0M996.6 82.1h0M990.1 79.5h0M989.8 85.5h0M996 76.8h0M996 85.1h0M983.2 79.3h0M987.8 72.4h0M983.4 74.2h0M987.2 86.8h0M996.4 87.4h0M986.2 80.5h0M989.5 85.8h0M981.3 72.9h0M996 85.5h0M991.1 84.4h0M991.6 84.9h0M990.5 82.5h0M994.3 79h0M981.2 76.4h0M984.5 77.7h0M988 64.3h0M984.6 83.6h0M996.8 79.5h0M989.5 80.9h0M990.4 87h0M989 85.9h0M993.9 75.8h0M994.8 75.3h0M990.3 80.5h0M994.5 81.3h0M987.2 77.1h0M996.1 82.4h0M996.9 84.9h0M977.1 82.5h0M990.6 86h0M988.1 74.5h0M1008 93h0M1009.4 84.3h0M1013.5 86.4h0M999.4 89.5h0M1002.7 90.7h0M1012.2 76h0M1017.2 90.8h0M1010.3 75.2h0M1011.4 86.6h0M1008.6 90.1h0M1007.8 81.4h0M1004.4 87.7h0M1017 87.6h0M1008 89.6h0M1013.1 92.9h0M1016.6 82.1h0M1008.6 75h0M1008.6 91.8h0M1013.9 95.1h0M1003.2 80.4h0M998.4 89.8h0M1006.7 88h0M1012.8 95.7h0M1012.4 94.1h0M1018 86.8h0M1015.9 81.9h0M1008.6 82.1h0M1012.7 80.9h0M1019.1 79.8h0M1006.5 86.8h0M1008.4 89.6h0M1004.9 94.1h0M999.4 88.1h0M1016.2 93.6h0M1009.6 95.4h0M1009.8 85.7h0M1005.2 91h0M1018.7 85h0M1009.6 84.3h0M1013.3 84.1h0M1005.5 81.5h0M1004.4 81.6h0M997.3 83.3h0M1000.5 85.3h0M1006.2 93.2h0M1015.7 90.6h0M999.8 88.3h0M1014.6 84.3h0M1018.3 90.5h0M1002.3 91.1h0M1010 97.2h0M1004.6 92h0M1014.5 77.8h0M1007.8 76.3h0M1020.7 86.5h0M1016.9 84.2h0M1015.2 79.3h0M998.6 88.7h0M1001.4 83.8h0M1013.3 79.5h0M1006.7 90.3h0M1017.9 91.9h0M1005.4 94.6h0M998.4 90.2h0M1005.9 86.7h0M998.7 86.2h0M1011.1 93.1h0M1015.5 81h0M1014.2 90h0M1006.4 90.6h0M1001.9 95.4h0M1002.2 79.9h0M1001.1 95.3h0M999.4 91.6h0M1014.7 86.4h0M1005.7 81.8h0M1007.3 95.3h0M997.6 84.7h0M1009.3 86.6h0M1017.3 92.6h0M1015.8 84.3h0M1019.2 89.2h0M1016.8 80.1h0M1016.3 84.2h0M1014.1 80.6h0M1015.7 81.8h0M998.2 83.4h0M1009.8 80.8h0M1000.5 91.3h0M1003 87h0M1019.2 82.2h0M1016.8 85.7h0M1015.4 93.2h0M1014.3 78.4h0M1023 92.7h0M1011.3 79.6h0M998.2 88.4h0M1012.4 84.5h0M1012.2 80.6h0M1016.7 93.4h0M997 84.8h0M1011.9 84.7h0M1017.2 80h0M1000.2 92.3h0M1017.9 92.1h0M1003.9 75.4h0M1005.6 87h0M1017.8 88.8h0M997.1 83h0M1008.2 89h0M997.5 89.9h0M1011.6 83.4h0M1011.7 78.5h0M1003.7 78.6h0M1010.2 82.8h0M1009 88.9h0M1020 87h0M1005.8 75.2h0M1019.5 86.8h0M1009.5 87.7h0M1006.9 90.6h0M1012.2 84.3h0M1005.2 92.3h0M1035.7 71.9h0M1009.8 93.5h0M1014.3 93.2h0M1017.3 88h0M1009.1 86.6h0M1000.9 83h0M1000.5 89.8h0M1007.1 80h0M1001.9 89.5h0M1013.9 80h0M1010.3 97.6h0M1000.5 82.2h0M1013.4 85.2h0M1006.8 80.9h0M1004.9 77h0M1014 78.7h0M999.8 86h0M995.2 73.4h0M1004.8 78.5h0M1004.7 86.7h0M1007.3 79.5h0M1001.2 93.2h0M1009.5 82.6h0M1008.1 91.2h0M1008 90.6h0M1001.5 74.4h0M1019.9 88h0M1005.1 79.8h0M1012.4 80.3h0M999.5 88h0M1017.2 86.5h0M1009.7 81.2h0M1018.6 91.1h0M1011.8 81.7h0M1003.2 94.5h0M1010 78h0M1004.7 79.9h0M1008.1 94.8h0M1012.5 88.3h0M1005.9 92.6h0M1004 75.7h0M1006.3 90.2h0M1015.8 88.5h0M1011.6 90h0M1008.2 77h0M1006.8 88.5h0M1003.5 81.5h0M1011 86h0M1008.6 82.8h0M999.5 84.1h0M1002.8 82.3h0M1005.8 76.5h0M1009.9 75h0M998.8 87.6h0M1013.9 85.8h0M946.2 96.8h0M952 96.5h0M940.5 100.6h0M948 98.2h0M942.7 104.2h0M944.9 100.6h0M949.9 98.4h0M946.6 101.8h0M942.5 105.9h0M949.9 97h0M933.2 103.6h0M948.5 98.2h0M948.5 105.3h0M945.5 95.1h0M941.1 95.6h0M948.6 101.9h0M947.8 102.7h0M941.3 96.4h0M945.2 100.5h0M946 103.4h0M944.5 107h0M945.4 96.9h0M943 104.1h0M949.2 89.7h0M937 101.5h0M953.3 101.1h0M944.4 100.4h0M938.9 98.8h0M939.2 103.6h0M940.6 102.6h0M948.9 94.1h0M953.3 105.3h0M946.5 99.3h0M952.1 97.8h0M948.6 97.4h0M947.7 101.6h0M946.5 105.4h0M950.2 94.9h0M940.4 108.4h0M944 96h0M940.8 100.9h0M945.1 97.7h0M949.6 106.5h0M937.9 100.4h0M949.8 101.6h0M937.6 99.1h0M939.8 104.2h0M951.3 108.3h0M952.9 97.1h0M945.7 92.2h0M945.3 106.2h0M939.3 95.2h0M949 103.3h0M940.4 103.6h0M952.1 98.5h0M946.4 103.5h0M937.5 99.2h0M944.6 101.2h0M946.7 107.9h0M941.4 109.2h0M947.3 98.6h0M948.1 108.4h0M940.3 106.8h0M950.8 96.4h0M941.4 105.9h0M948.1 104.8h0M942.3 107.1h0M946.7 105.8h0M951.1 95.7h0M944.1 93.5h0M949.6 108.7h0M946.8 110.2h0M938.4 105.7h0M948.5 107h0M947.9 92.8h0M943.5 97.9h0M948.1 105.9h0M944.1 102.7h0M947.2 109.1h0M944.4 101.7h0M948.5 99.6h0M946.3 93.3h0M946.6 105.1h0M942 106.9h0M951.5 107.1h0M943.6 98.9h0M950.1 99.6h0M950.1 106.2h0M942.1 102.4h0M942.9 104.7h0M948.4 104.9h0M946.3 100.9h0M947.1 94.7h0M945.5 97.9h0M940.7 105.9h0M942.7 93.6h0M949.3 109h0M951.8 98h0M951.7 97.1h0M939.9 95.4h0M956.1 96.7h0M947.8 94.2h0M947.8 90h0M946.4 97.2h0M951.4 97.3h0M947.1 93.3h0M948.1 96.9h0M945.6 101.1h0M951.4 107.1h0M949.3 95.4h0M944.5 109.5h0M946.5 98.5h0M947.1 98h0M943 104.8h0M949.7 97.9h0M945.7 108.8h0M941.7 93.2h0M943.9 98.6h0M940.2 105h0M944.1 106.6h0M938.5 104.3h0M945.5 99.8h0M943.9 100.7h0M942.6 97.7h0M940.2 99.9h0M947.9 94.2h0M943.5 92.9h0M938.6 97.7h0M949.4 106.9h0M945.2 97.7h0M943.9 107.2h0M947.2 106.3h0M941.3 105.3h0M947.8 110.3h0M939.5 93.8h0M945.8 95.1h0M945.6 96.6h0M941.2 100.7h0M945.7 99.7h0M940.5 108.9h0M951.2 104.6h0M966.4 91h0M973 92.8h0M968.9 105.9h0M975.6 109.7h0M977.7 102.9h0M968.3 91.8h0M970.8 110.3h0M977.2 108.5h0M979.3 93.4h0M970 91.3h0M965.2 93.6h0M972.6 103.3h0M973.9 93.6h0M962.7 99.7h0M978.9 101.6h0M969.6 110.5h0M973 108.3h0M979.2 98.5h0M976.1 109h0M964.9 107h0M973.7 98.1h0M969.5 95.1h0M963.6 104.6h0M972.3 96.7h0M973.6 89.9h0M974.6 109.4h0M972.4 98.2h0M977.7 100.6h0M966 90.8h0M967.1 93.7h0M978.6 105.9h0M980 101.7h0M975.7 94.5h0M976.9 103.2h0M983.5 97.9h0M967.8 104.3h0M973.8 105.2h0M970.6 99.5h0M979.7 94.5h0M964 102.3h0M973.7 106.4h0M978.8 92.2h0M979 95.4h0M964.8 95.8h0M967 91.3h0M963.4 101.9h0M966.2 100h0M972.6 99.4h0M973.4 109.6h0M979 96h0M972.8 101.2h0M975 92.6h0M976.2 90.9h0M969.6 95.7h0M979.1 98.7h0M971 89.5h0M968.6 104.5h0M964.7 92.9h0M975 101.6h0M965.7 98.9h0M966.7 91.1h0M981.7 92.9h0M968.4 90.4h0M978.1 115.2h0M972 106.2h0M977.4 104.2h0M979.7 95.8h0M972.2 94.2h0M976.6 100.6h0M967.3 110.6h0M968.9 109h0M975.8 98.9h0M963.2 97.3h0M978.9 107.4h0M976.8 109.5h0M966.9 92.3h0M979.3 104.5h0M978.4 103.7h0M963.2 99.2h0M976 96.5h0M976.5 110h0M968.3 107.6h0M979.2 105.3h0M971.9 102.3h0M976.9 102.3h0M977.2 97.3h0M966.5 107.1h0M967.5 90.8h0M973 86.1h0M968.7 104.3h0M977.6 105.3h0M963 100.9h0M976 101.8h0M967.7 100.4h0M978.6 102.7h0M977.4 104.6h0M972.8 96.2h0M976.2 103.4h0M970.2 92.4h0M966.2 92.5h0M971.5 98h0M970.3 96.2h0M967.4 91.4h0M964.3 102.4h0M968.6 118.7h0M975 105.8h0M966 107.4h0M969 109.3h0M970.3 91.6h0M974.1 96.1h0M965.2 101.2h0M967.5 97.6h0M975.3 99.9h0M973.2 94.7h0M976.9 107.9h0M977.3 104.1h0M974 98.4h0M973.8 102.3h0M968 91.7h0M965.2 99.9h0M965.1 98.7h0M972 106.9h0M968.3 94.2h0M973.4 106.3h0M967.7 108.3h0M967 101.2h0M985.4 109.9h0M977.6 107.3h0M967.2 105.4h0M977.7 94h0M966.9 101.8h0M972.4 93.5h0M968.4 90.9h0M968.6 95.4h0M972.2 108.7h0M964.7 102.5h0M978 94.6h0M980.5 101.7h0M975.4 99.1h0M969.5 106.6h0M966.5 93.2h0M971.4 93.5h0M970 93.3h0M975 108.9h0M972.4 103h0M974.8 103.7h0M969 95.7h0M970.2 108.7h0M975.6 96.9h0M975.9 91.3h0M970.2 105.6h0M977.4 108.9h0M973.2 103.6h0M966.9 107.2h0M974.1 101.8h0M964.2 101.3h0M963.5 103.5h0M977.2 104.6h0M981.3 102.5h0M964.8 101.8h0M972.1 89.9h0M969.8 102.1h0M975.6 101.9h0M973.9 103.7h0M970.4 103.3h0M975.5 103.6h0M977.6 95.4h0M970.5 107.5h0M975 103.5h0M974.3 93.8h0M970.5 103.8h0M974.5 106.7h0M971.4 99.4h0M979.6 93.3h0M974.1 94.8h0M977.2 96h0M972.3 94.6h0M981.6 99.2h0M971.9 110.2h0M977 106.4h0M965.7 111.2h0M981 112.7h0M970.9 97.9h0M966.8 101.7h0M974.9 96.3h0M974.3 101.2h0M966.3 101.6h0M969 109.2h0M978.7 94.1h0M969.6 98.4h0M965.4 99h0M970.1 95.7h0M979.8 102h0M969.5 101.4h0M973.5 94.8h0M966.8 102.7h0M973.6 105.6h0M974.8 107.7h0M977.9 108.6h0M973.3 95.2h0M972.6 89.3h0M972.5 101.4h0M984 89.6h0M969.1 98.4h0M965 104.3h0M966.1 103.8h0M977.7 100.1h0M972.5 105.6h0M970.6 90.2h0M970.9 110.2h0M966 91.2h0M975.7 102.4h0M974.8 107.1h0M958 101.4h0M969.3 89.2h0M967.1 103h0M977.2 108.6h0M976.9 92h0M977.4 96.4h0M964.8 96.8h0M975.6 105.2h0M964.6 94.2h0M967.7 102h0M964 96.8h0M975.5 103.5h0M972.9 98.7h0M962.9 100.2h0M978.8 102h0M975.4 103.1h0M973.1 103.3h0M966.8 104h0M974.4 90.3h0M965.6 92.4h0M972.9 99h0M966.9 93h0M980.2 102.9h0M1001 115.9h0M1013.7 115.6h0M998.8 114.2h0M1008.8 119.9h0M1009.6 120.4h0M1014 120.9h0M991.2 116.4h0M989.8 117h0M990.9 115.1h0M1007 119.1h0M1002.3 124.9h0M1002 114.1h0M1011.3 125.9h0M998.9 115h0M1032.2 110.8h0M1007.6 110.1h0M985.5 132h0M1003.1 115.7h0M1013.6 119.9h0M1004.9 119.3h0M1000.7 109.8h0M1005 124.6h0M1007.1 129h0M1012 116.8h0M1008.8 117.5h0M1015.4 118.6h0M1007.7 109.2h0M990.5 123.3h0M1010.3 130.9h0M1005.7 124.8h0M1002.1 128.4h0M998.2 117.9h0M1011.8 119h0M995.8 113.6h0M994.1 130.2h0M1010.7 112.6h0M1004.2 121.1h0M998.2 120.4h0M997.6 109.2h0M1000.5 132.6h0M996 129.4h0M990.4 114.9h0M1004.3 125h0M1014.4 117.7h0M1014.8 122.4h0M1009.6 109.9h0M995 118.2h0M1004.9 115.7h0M994.6 117.5h0M994.3 121.8h0M1005.1 131h0M989.4 120.4h0M1006.8 122.2h0M997.6 113.9h0M997 131.6h0M1000 116.9h0M1009.4 120.8h0M1013.2 126.2h0M989.4 117.2h0M990.3 120.9h0M1011.3 128.3h0M1006.1 120.2h0M1002.5 125.5h0M1005.8 116h0M1010.2 127.7h0M1006 118h0M1010.2 111.4h0M982.6 127.7h0M1009.1 126.1h0M1004.6 109.9h0M1003.2 133.1h0M1000.8 128.6h0M998.2 126.2h0M995.6 110.7h0M1002.6 123.8h0M1013.1 118.4h0M1005.2 115.2h0M1006.6 110h0M1001.9 129.6h0M1013.5 107.5h0M1000.5 132.8h0M1011.1 110.8h0M994.8 123.6h0M1011.9 121.6h0M994.5 128.8h0M1001.4 126.2h0M1004.3 131.2h0M1011 122.3h0M995.7 124.5h0M1010.1 120.1h0M1001.3 134.4h0M1005.4 108.9h0M996.7 126.9h0M1000.1 111.8h0M993.1 120h0M1007.7 136.5h0M995.1 114.2h0M995.1 119.1h0M998.2 127.7h0M998.4 123.6h0M987 124.6h0M1009.7 121.7h0M998.6 112.5h0M1008.4 129.8h0M999.9 116.9h0M995.1 120.2h0M998.5 112h0M997 118h0M989.6 115.2h0M1015.8 118.4h0M1001.1 119.1h0M1002.1 114.4h0M1008.8 111.2h0M1008.6 137h0M1007.2 124.2h0M1015 114.7h0M988.4 125.9h0M1012.5 116.3h0M1011.6 130.4h0M997.5 122.1h0M996 127.7h0M1003.4 109.5h0M1005.2 128h0M992.8 122.3h0M1001.6 113.1h0M1001.3 130.8h0M997.2 117.8h0M1005.3 114.4h0M999.6 132.2h0M1006.9 112.8h0M1004.6 124.1h0M1007.1 125.5h0M1006.7 125.1h0M992.8 122.1h0M1004.1 119.2h0M1015.2 123.3h0M1005.7 131.8h0M1004.6 130.3h0M999.5 121h0M1009.1 128.5h0M1009.7 114.9h0M1014.2 129.4h0M1009.8 121.5h0M994.3 127.4h0M993.3 125.6h0M998.3 111.8h0M1001.1 132.2h0M1026.8 105.5h0M997.7 109.4h0M1008.6 109.6h0M1008 118.6h0M1000.6 128.3h0M1005.1 113.7h0M998.8 132.7h0M1005 133.2h0M1007.5 113.6h0M1005.4 122.3h0M1005.9 128.9h0M1009 128.3h0M1008.3 117.1h0M1012.4 122.4h0M990.2 120.2h0M1011.5 129.5h0M1014 124.8h0M1000.9 130.3h0M1000.5 117.7h0M1003.7 125h0M1001.4 112.9h0M999.4 143h0M1009.5 118.5h0M1007.2 133h0M999.7 119.5h0M1002.1 116.7h0M991.7 122.2h0M1008.2 132.4h0M994.7 128.3h0M994.3 126.2h0M1016.4 116.7h0M1000.1 108.4h0M1001.4 134.6h0M994.5 129.1h0M1001.7 114.6h0M1012.5 121.3h0M1003.8 130.6h0M1001 117.3h0M993.6 115.1h0M998.2 121h0M1015.7 119.5h0M997.4 122.9h0M1012.8 123.3h0M1002.8 131.8h0M1001.7 129h0M992.6 122.6h0M1005.3 124.5h0M1006.2 127.5h0M1015.6 124h0M1011.8 123.2h0M1000.2 122.2h0M1015.4 123.3h0M1005.4 120.4h0M1009.6 113.4h0M1010.2 125.2h0M996.8 114.7h0M993.7 120.7h0M1002 111.8h0M999.1 130.9h0M1002.7 120h0M1000.5 118.8h0M1007.2 113.4h0M998.1 113.4h0M998.3 118.2h0M1005.6 119h0M1010.3 129.3h0M1001.7 108.9h0M1015.5 119.2h0M1010.9 110.1h0M1008 113.8h0M999.2 130.8h0M1005.8 115.6h0M1003.2 121h0M1015.4 128.5h0M1010.1 109.5h0M1009.8 117.3h0M1009.4 112.7h0M998 119.4h0M1003.8 133h0M1005.3 109.5h0M1000.6 131.8h0M1005.4 123.8h0M1004.9 123.3h0M1009.5 114.7h0M999.3 126h0M1005.3 111.4h0M997.3 125.2h0M1004.9 127.8h0M996.6 113.6h0M1012.1 117.4h0M1003.8 115.5h0M994.5 121.6h0M999.9 123.5h0M1013.4 115.8h0M1000.9 129h0M1019.9 110.4h0M1015.9 134.5h0M1002.6 117.2h0M996.6 126.5h0M1014.9 116.8h0M1012.4 124.5h0M1012.2 119.7h0M1009.6 131.7h0M996.7 123.5h0M989.8 124.9h0M1008.5 122.3h0M1008.1 116.8h0M1008.9 114.3h0M1010.4 120h0M1004.2 108.1h0M1011.1 128.8h0M1010.3 123.5h0M1004.2 132.2h0M999.5 131.1h0M991.6 115.5h0M1004.5 120.5h0M994.6 118.4h0M1006.4 131.7h0M1000.4 120.8h0M1004.1 110.3h0M999.9 115.5h0M1002.3 114.9h0M1010 125h0M1001.4 132.7h0M1003.1 109.8h0M1001.6 110.3h0M1008.2 119.3h0M997.5 128.3h0M1012.1 116.5h0M1004.4 118.2h0M1002.6 126.1h0M1003.4 126.8h0M1011.1 128.4h0M1001 122.6h0M989.6 122.9h0M1011.2 118.6h0M1006.5 130.2h0M1010.4 111.4h0M1001.8 113.7h0M1003.1 117.9h0M1006.3 112.2h0M1000.9 120h0M1010.5 112.4h0M992.5 114.1h0M994.4 130h0M989 120.1h0M1010.8 110.8h0M1003.9 115.3h0M1010.3 114.2h0M1007.3 122.9h0M1013.8 127.5h0M989.9 122.3h0M1005.3 128.6h0M1010.4 129h0M1013.2 114.4h0M1003 113.1h0M998.7 118.5h0M1003 121.7h0M1010.8 123.1h0M1003.7 129.9h0M1002.6 127.7h0M1001 124.5h0M1005.1 122.3h0M1014.5 124.1h0M990.8 124.4h0M1005.2 113.2h0M998.8 107.1h0M997.6 123.2h0M992 115.1h0M997.2 128.8h0M1005.5 115.5h0M1016.2 116.3h0M1010.1 125.9h0M1006.9 126.9h0M996.4 120h0M1005 127.9h0M995 125.7h0M1010.7 115.8h0M1013.3 119.3h0M1002.4 125.3h0M1000 112.3h0M1006.8 127.3h0M1015.1 120.8h0M1002.7 126.6h0M999.8 126.3h0M995.9 130.1h0M1006.8 126.3h0M1005.9 117h0M1007.9 108.6h0M1014.8 123.6h0M995.2 113h0M993.3 119.9h0M1000.9 125.1h0M1008.2 125.5h0M1012.3 127.4h0M1009.6 129.3h0M993.1 117.6h0M1009.8 124.4h0M1016.3 114.1h0M1008.8 115.4h0M1012.8 127.1h0M1000.1 113.2h0M1007.9 113h0M998.7 129h0M994.9 130.4h0M1003.8 110.4h0M1012.7 113h0M1008.4 117.9h0M1007.9 125.4h0M991.6 124.6h0M1003.6 126.7h0M1011 117.2h0M1011 111h0M999 131h0M991.1 133.1h0M991.3 116.2h0M1021.9 121.4h0M1006.3 116.6h0M1007 113.6h0M999.9 126.6h0M1014.1 114.2h0M999.1 130h0M1016.8 117.1h0M1016.1 119.6h0M1003.5 122.6h0M995.4 119.4h0M996.7 116.6h0M1000.9 112h0M1012.5 122.8h0M1011.6 111.3h0M997.6 121h0M991.9 129.3h0M996.3 131.8h0M1003.7 118.7h0M978.6 126.1h0M1002.7 128.1h0M991.5 118.4h0M991.8 116.9h0M1013.6 114.6h0M1015.4 126h0M1015.7 126.7h0M1007 108.4h0M1001.5 129.8h0M996.8 110.2h0M1006.8 115.9h0M997.9 122.5h0M1008 125.4h0M1001.8 121.9h0M1011.2 120h0M1007.8 127.6h0M1003.6 111.7h0M990.3 116.9h0M999.9 126h0M1003.3 131.4h0M1011.8 117.4h0M1005.5 127.7h0M999.7 129h0M997 119.9h0M1013.5 130.2h0M1008.8 137.1h0M1010.6 109.2h0M1015.6 121.8h0M998.3 117.9h0M992.6 122.8h0M996 121.9h0M1003.6 117.2h0M985.9 118.2h0M1005.4 117.3h0M992.8 128.4h0M993.9 113.9h0M1004.3 127.9h0M989.4 120.9h0M1030 112.8h0M1038.9 102.8h0M1034.4 113.2h0M1041.5 102.2h0M1037.4 99.8h0M1044.6 108h0M1039.6 106.8h0M1036.9 116.3h0M1028.9 105.5h0M1036.3 105.2h0M1030.9 110.8h0M1037.5 100.9h0M1031.6 103.2h0M1042.2 106.4h0M1029.9 114.9h0M1035.3 106.1h0M1023 102.7h0M1029.2 97.2h0M1028.6 108.7h0M1032.1 95.9h0M1039.7 101.8h0M1032.7 113.1h0M1031.5 106.5h0M1034.9 117.2h0M1042.8 106.7h0M1033.5 98.6h0M1033.8 109.7h0M1036.4 114.2h0M1033.1 101.5h0M1038.9 110.4h0M1026.5 98.8h0M1033.5 116.2h0M1022.3 106.3h0M1036.2 111.8h0M1031.1 104.6h0M1038.9 104.4h0M1030.6 106.3h0M1040.8 114h0M1033.2 106.2h0M1026.7 115.2h0M1027.3 106.4h0M1030.7 110.6h0M1022.7 108.4h0M1043.6 108.5h0M1039 114.7h0M1034.1 96.2h0M1030.9 106.9h0M1042.5 105.9h0M1029.5 114.7h0M1032.7 113.8h0M1038.4 113.2h0M1037.7 109.1h0M1031.5 103.4h0M1037.1 98.4h0M1043.7 111.5h0M1035.7 108.9h0M1029.2 103.5h0M1022.8 102.9h0M1033.6 102.4h0M1039.9 96h0M1023.7 103.8h0M1041.5 109.2h0M1039 113h0M1042 109.8h0M1029.9 105.9h0M1034 101.8h0M1038 100.2h0M1035.4 106.7h0M1025.8 110.4h0M1026.4 112.8h0M1043.5 103.2h0M1036.4 105.7h0M1041.2 114.4h0M1041.5 113.6h0M1024.6 107.5h0M1031.9 113.8h0M1035.8 104h0M1040.7 113.9h0M1026.7 102.1h0M1041.4 112.7h0M1034.2 97.6h0M1029.6 113.5h0M1035.3 114.3h0M1042.7 106.7h0M1033.3 105.8h0M1025.2 109.7h0M1037.3 111.8h0M1030.2 108h0M1035.5 103.9h0M1030 102.8h0M1035.9 103.3h0M1033.9 106.1h0M1034.1 95.9h0M1036 105h0M1041.6 86h0M1037.7 111.6h0M1027.3 99.2h0M1039.6 97.7h0M1038.9 109.5h0M1029.8 108h0M1030.8 117.4h0M1041 113h0M1006 86.5h0M1025.5 85.8h0M1029.3 88.6h0M1030.7 92.5h0M1022.7 84.5h0M1029.1 100h0M1014.1 88.6h0M1019 91h0M1019.2 85.6h0M1022 88.1h0M1028.9 91.8h0M1023.9 89.5h0M1027.1 92.3h0M1015.1 94.6h0M1027 98.9h0M1032 96.5h0M1021.6 98.4h0M1018.8 102.2h0M1028.7 91.6h0M1020.2 96h0M1017.4 98.3h0M1027 93.2h0M1017.8 93.6h0M1022.1 100.9h0M1027.2 86h0M1014.2 85.9h0M1022.6 88.5h0M1023.2 90.2h0M1028.8 98.9h0M1018.1 85.2h0M1029 99h0M1026.5 98.9h0M1021.7 99.6h0M1027.2 100.3h0M1027 97.5h0M1011 95.5h0M1016.7 93.2h0M1014 87.6h0M1015.4 90.5h0M1022.2 85.9h0M1030.6 92.9h0M1030 97.4h0M1021.7 99.7h0M1024.8 91.5h0M1030.9 97.3h0M1029.5 88.9h0M1026 97.3h0M1014.7 98.6h0M1025.5 94.3h0M1030.6 92.7h0M1013.5 89.2h0M1019.6 91.6h0M1014.3 95.7h0M1028.2 96.4h0M1012 92.7h0M1021.8 91.7h0M1032.5 90.2h0M1029.1 90.7h0M1023.7 85.5h0M1029.1 96.5h0M1025.6 99.5h0M1026.7 84.6h0M1021 96.9h0M1028 88h0M1021.5 89.4h0M1011 104.3h0M1022.1 86.9h0M1024 100.1h0M1031.8 89h0M1022.6 98.4h0M1023.1 90.1h0M1019.6 87.3h0M1019 98.2h0M1010.5 98.4h0M1016.2 87.5h0M1030.5 96.5h0M1013.7 87h0M1018.7 96h0M1018.1 100.3h0M1031 97.7h0M1012.7 97.3h0M1028.4 99.1h0M1025.9 93.6h0M1028.1 92.3h0M1017.7 93.4h0M1026.9 86.5h0M1012.6 87.7h0M950.5 127.4h0M938.8 135.7h0M939.3 122.3h0M932.2 133.2h0M934.8 123.2h0M938 125.8h0M951 140.9h0M932.4 135.7h0M949.2 133.7h0M930 132h0M941.3 125h0M940.8 139.3h0M938.4 137h0M937.3 125.7h0M944.8 131.3h0M940.9 122.7h0M946.9 138.4h0M938.1 132.9h0M935.2 125.5h0M936.3 136.4h0M929 131.3h0M929.8 126.7h0M933.4 131.9h0M931.3 135.6h0M934 135.3h0M930.7 127.2h0M948.1 131.6h0M940.5 137.3h0M949.5 134.3h0M940.5 132h0M946.8 130.1h0M937.2 126h0M942.4 125.3h0M937.2 123.7h0M938.5 138.9h0M932.5 132.3h0M954.1 131.5h0M945.4 137.2h0M944 136.1h0M934 122.8h0M942.1 138.5h0M950.4 121.2h0M937.4 137.6h0M941.2 136.3h0M946.3 138.2h0M951.1 129.6h0M932.9 131.3h0M939.6 132.6h0M934.9 126.5h0M945.8 123.4h0M944.4 133.7h0M945 133h0M931.1 131.4h0M939.9 141.6h0M942.6 134.2h0M949.8 135h0M944 129.6h0M928 130.9h0M940 121.7h0M950.1 133.5h0M944.4 129.5h0M936.2 129.5h0M940.7 123.1h0M930.6 134.4h0M934.7 133.1h0M951.2 130.6h0M937 135.8h0M941.7 124.1h0M935.1 130.9h0M930.2 135.5h0M941 129.8h0M932.5 132.4h0M958.3 130.1h0M930 128.1h0M934 128.2h0M940.1 138.4h0M927.5 127.5h0M945.7 129.2h0M937.9 123.4h0M925.6 129.2h0M934.3 128.9h0M948.7 130h0M937 138.9h0M939.5 142.8h0M941.7 129.3h0M952.6 128.2h0M953.6 137.2h0M943 132.5h0M941.9 138.7h0M949 127.1h0M949.4 136.1h0M934.3 136.6h0M949.9 130.6h0M949.4 139.6h0M950.5 130.1h0M939.9 133.6h0M928.3 130.7h0M940 127.7h0M949.6 136.7h0M927.4 133.8h0M944.8 138.5h0M943.4 126.4h0M932.3 129h0M941.4 127.9h0M943.9 133.1h0M945.9 129h0M946.2 129h0M927.7 127h0M947.3 136h0M944.8 123.1h0M926.5 128.8h0M936.2 127.3h0M945.8 138.7h0M951.2 129.9h0M935.7 127.6h0M935.1 128.2h0M934.9 127.9h0M948.3 133.1h0M943.7 130.9h0M946.1 133.4h0M927.2 130.6h0M944.1 131.8h0M930.7 135h0M935.3 135.9h0M937.6 127.4h0M942.9 135.7h0M951.9 132.3h0M941.6 128.4h0M939.8 122.9h0M940.4 123h0M945.7 129.4h0M937.6 143.6h0M920.1 123.1h0M933.1 135.6h0M942.8 134h0M929.9 127.7h0M944.7 131.4h0M932.7 127.6h0M949.6 117.5h0M951 130.3h0M934.1 124h0M930.1 135.4h0M936.5 139.6h0M932.3 134.4h0M933.6 128.9h0M935.7 134h0M942.8 129.3h0M930.5 134.9h0M944.9 132.5h0M939.6 125h0M934.8 122.4h0M948.5 136.2h0M937.7 134.8h0M936.4 122.1h0M941.8 126.4h0M927.3 133.1h0M940.1 130.8h0M938.3 136.7h0M944.6 137.7h0M933.3 135.9h0M930 127.5h0M927.6 133.9h0M946.6 133.3h0M937.6 128h0M938.6 138.1h0M933.4 134.4h0M947.1 130.8h0M944.8 126.6h0M932.7 129.6h0M949 128.8h0M949.5 127.6h0M935.7 128.5h0M935 126.7h0M933.7 139.4h0M945.3 124.2h0M949.6 126h0M951.4 133.4h0M929 134.3h0M929 132h0M937.4 124.3h0M938.5 128.7h0M937.5 135.3h0M936.4 126.6h0M945.1 138.1h0M926.9 133h0M942.6 132.2h0M944.9 131.6h0M944 125.3h0M946 132.2h0M946.9 132.1h0M944.3 123.5h0M940.6 135.7h0M941 133.8h0M936 128.3h0M975.8 133.1h0M967.5 138.5h0M970.1 130.5h0M965.4 126h0M963.2 127.7h0M964.7 137h0M956.4 134.5h0M958.1 130.6h0M963.5 125.5h0M961.5 124.9h0M960 130.1h0M968 140h0M980.5 126.6h0M979.8 130.2h0M956 130.7h0M960.5 137.9h0M954.9 133.5h0M966.3 129h0M980.8 129.1h0M954.8 134.3h0M980.1 130.4h0M955.4 131.2h0M979.2 130.3h0M966.6 138.9h0M967.4 129.2h0M967.3 136.2h0M956.1 135.6h0M962.1 129h0M946.6 126.9h0M965.7 123.5h0M975.5 127.5h0M971.5 134.5h0M959.6 127h0M962.9 139.7h0M973.2 135.6h0M975.4 136.5h0M965.3 126.6h0M967.7 124.6h0M975.1 137h0M961.6 132.4h0M967.8 134.6h0M981.3 132.7h0M972.6 127.2h0M971.5 129.3h0M974.8 134.6h0M976.8 133.1h0M952.3 131.5h0M962.2 125.7h0M963.3 132.2h0M963.8 121.7h0M964.7 124.1h0M961 138.5h0M956.6 127.4h0M962.4 138.8h0M975.8 128.2h0M958.5 138.2h0M955.2 135.3h0M962.4 137.3h0M962.3 133.7h0M959.4 137.9h0M975.5 128.8h0M957.7 137.9h0M976.9 132.1h0M964 128.7h0M965.2 137.6h0M963 131.3h0M968 130.5h0M956.5 133.1h0M981.4 128h0M950.6 146.4h0M958.9 136.2h0M969.2 128.8h0M955.6 129.1h0M978.5 131.8h0M963.3 126.3h0M976.2 129.2h0M974.2 125h0M971.9 128.2h0M966.1 131.9h0M957.6 129.2h0M968.5 137.2h0M966.5 131.3h0M976.4 134.9h0M961 138h0M959.1 128.8h0M961.7 123.8h0M970.9 135.3h0M954 135.6h0M957.8 135h0M973.6 128.7h0M981.7 132.2h0M974.5 127.6h0M967.3 123.1h0M964.2 135.7h0M967 136.5h0M961.2 129.5h0M952.5 125.2h0M966.5 132.3h0M966.9 138.5h0M957.9 131.6h0M968.9 126.8h0M963.1 139h0M976.4 136.9h0M980.5 130.6h0M958.9 128.7h0M961.2 136.8h0M974.4 131h0M975.3 133.7h0M955.7 135.8h0M972.9 131.9h0M969 138.4h0M956.4 129.4h0M968.2 138.8h0M971.7 135.5h0M978.2 126.1h0M958.4 130.6h0M996.7 127.3h0M959.2 123.2h0M969.2 126.3h0M979.7 125.7h0M966.7 123h0M972.2 134.3h0M971.3 117.5h0M953.1 131.6h0M959.3 125.8h0M954.7 134.2h0M953.8 126.9h0M966.2 123.1h0M971.9 123h0M964.5 135.7h0M952.9 134.3h0M957.5 129.8h0M967.1 131.3h0M978.6 125.4h0M973.2 136.6h0M974 133.9h0M969.9 133.8h0M971.5 132.7h0M974.5 123.1h0M954.2 121.9h0M975 125.1h0M963.9 126.5h0M961.6 125.6h0M969.4 139.6h0M961.4 137.5h0M959.7 137.8h0M957.8 133.2h0M959.7 122.8h0M972.5 136.9h0M954.5 130.9h0M967.2 131.6h0M959.9 134.9h0M970.6 122.4h0M961.6 131.8h0M981.5 130.4h0M974.3 125.9h0M968.4 126.8h0M966 135h0M954.3 127.7h0M981 128.2h0M974.7 137h0M975.3 133.1h0M952.2 115.7h0M978 133.1h0M965.6 126.4h0M963.8 138h0M963.3 137.5h0M965.7 124.8h0M974.4 125.4h0M978.8 125.4h0M961.5 133.9h0M976.9 136.9h0M974.3 126.8h0M962.9 133.1h0M969.8 130.1h0M959.6 138.1h0M973.8 138.8h0M963.7 123.9h0M971 129.3h0M977.2 137.2h0M965.4 137.3h0M957.6 134.9h0M921.1 142.2h0M922.1 142.9h0M922.5 146.2h0M922.2 146.1h0M918.7 145.5h0M921.8 141.5h0M923.7 147.5h0M926.4 145h0M921.7 142.7h0M923.8 143.6h0M920.1 143.6h0M917.7 142.2h0M925.3 147.4h0M920.4 146.6h0M919.1 147h0M926.2 144.2h0M920.8 145h0M922.2 143.8h0M923.3 146h0M919.3 143.4h0M919.8 146.8h0M922.5 145.7h0M923.5 144.4h0M925.4 145.9h0M922.1 140.4h0M923 144.4h0M922.6 145.1h0M923.3 147.5h0M926.1 143.4h0M918.7 143.2h0M919.4 140.3h0M922.8 144h0M932.9 164.4h0M937.5 152.6h0M947.1 161.6h0M940.3 175.1h0M947.6 149.8h0M928 155.7h0M943.9 159.1h0M924.9 165.1h0M924.8 153.2h0M926.3 142.5h0M948.4 151h0M940.6 168.5h0M930.9 156.3h0M934.4 153.3h0M936.5 157.9h0M932.8 164.8h0M935.4 163.5h0M936.1 175.2h0M936.5 146.7h0M944.5 147.3h0M944.1 164.1h0M938.2 153.7h0M952.1 163.2h0M946.5 152.7h0M947.1 170.4h0M963.8 170.1h0M946.3 170.4h0M946 150.6h0M928.3 153.6h0M948.3 152.9h0M948.1 153.6h0M937.4 161.1h0M935.3 172.6h0M932.1 171.6h0M924.3 153.9h0M942.6 149.1h0M948 160.8h0M931.4 151.2h0M940.2 161.8h0M936.1 163.1h0M926.8 156.8h0M945.3 162.4h0M946.4 153.9h0M928.2 162.8h0M934.8 151.1h0M943.6 158.3h0M932 159.4h0M954.5 163.4h0M951.2 160.2h0M931 172.9h0M932.7 161.8h0M944.8 172.1h0M937.7 162.5h0M941.4 168.5h0M949.1 154.9h0M937.4 172h0M932 161.3h0M954.2 150.5h0M955 163.5h0M941.7 163.6h0M932.7 162.6h0M937 160.4h0M934.2 163.1h0M928.1 149.6h0M946.1 169.9h0M945.6 165.2h0M951.1 163.4h0M942 159.6h0M940.7 155.3h0M928.3 166h0M933.4 151.1h0M925.4 161.8h0M929 170.4h0M934.6 153.2h0M924.7 161.2h0M943.3 155.3h0M942.5 163.1h0M949.1 168.2h0M945.7 159.2h0M931.1 170.8h0M946.1 153.3h0M930.7 165.8h0M942.9 155.6h0M923.2 157.3h0M932.9 154.6h0M932.2 162.3h0M939.4 169h0M939.5 167.7h0M938.3 147.1h0M928.7 154.1h0M928.3 158.8h0M939.7 163.7h0M932.8 149.7h0M936.9 166.2h0M937.3 166.9h0M938 163.3h0M948.6 155h0M932.6 164.7h0M946.2 170.6h0M941 148.9h0M950.9 157.4h0M926.8 161.3h0M931.7 158.4h0M932 166.1h0M927.2 161h0M932.3 165.5h0M949.3 152h0M939.9 167.8h0M939.3 146.5h0M939.4 169.2h0M924.6 165.1h0M933.7 151.5h0M928.2 168.6h0M947 152.8h0M941.5 169.2h0M934.8 172.4h0M927.9 167.8h0M949.5 154.2h0M945.3 157.4h0M953.1 158.4h0M938.5 174.3h0M928.8 160.9h0M923.8 164.3h0M945.8 166.1h0M926.8 161.3h0M935.3 163.4h0M930.6 173.2h0M932.4 156h0M952.6 169.8h0M931 160.1h0M925.4 152.3h0M933.4 146.8h0M944 173.2h0M944.2 166.5h0M946.7 156.4h0M937.1 147.4h0M940.3 158.6h0M923 170.5h0M947 155.3h0M924.6 174.8h0M939.3 183.4h0M937.3 173.9h0M940.9 174h0M940.1 157.9h0M929.1 155h0M949.9 149.4h0M947.4 169.9h0M944.8 150h0M932.5 155.5h0M946.1 159.7h0M937.9 169.1h0M947.7 151.4h0M924.6 161.1h0M947 131.1h0M937.9 174.9h0M936.3 161.9h0M947.4 170.2h0M937 160.6h0M930 145.1h0M930.2 173.3h0M949.1 156h0M938 150.6h0M949.8 162.9h0M944.6 150.8h0M924.3 155.9h0M938.8 152.5h0M943.4 157.9h0M928.1 159.4h0M940 163.5h0M942.7 160.6h0M950.4 152.5h0M939 175.1h0M926.9 152.3h0M929.9 163h0M943.3 171h0M927.4 158.7h0M929 163.2h0M932.1 173.3h0M944.9 156.9h0M930.2 150.8h0M929.6 148.7h0M927.5 165.5h0M945.5 157.9h0M934.6 171.5h0M937.1 152.9h0M945.8 151.8h0M929.3 168.6h0M939.7 151.3h0M930.1 154.3h0M932.1 162.3h0M949.4 161.8h0M942.9 161.3h0M943.2 178.2h0M929.4 172.2h0M938.3 158.7h0M950.3 166.8h0M946.5 153.3h0M940.6 162.1h0M924.5 172.8h0M930.8 159h0M941.3 145.5h0M926.6 162.4h0M916.3 150.3h0M946 161.7h0M933 162.1h0M941.6 157.8h0M945.3 162.9h0M934.2 158.5h0M941.8 170.8h0M929.4 152.5h0M935.3 151.2h0M927.8 154.2h0M932.1 151.8h0M934.7 171.8h0M931.3 151.2h0M936.5 161.1h0M927.9 149.5h0M927.6 160.9h0M938.7 167.3h0M947.4 171.4h0M949 169.7h0M945.2 151.9h0M936.4 160.7h0M942.8 155.3h0M942.1 148.1h0M932.8 166.2h0M935.2 168.3h0M943.3 166.5h0M937.1 145.1h0M931.2 161.8h0M937.4 157.4h0M939.3 159.9h0M937.7 157.2h0M933.4 174h0M925.8 159.3h0M928.5 157.3h0M952.7 159.1h0M943.9 163.4h0M936.3 145.7h0M947.4 163.8h0M947.2 153.6h0M927.9 158.9h0M941.9 155.5h0M941.7 171.4h0M943.3 165.5h0M948 156.8h0M927.6 165.3h0M935.9 157.4h0M932.1 163.2h0M933.8 145.7h0M932.1 159.7h0M941.7 171h0M941.4 156.3h0M942.7 169.2h0M934.2 149.5h0M950.5 164.7h0M944 156.9h0M940.4 153.1h0M930.9 161.4h0M951.6 159.2h0M944.4 172.2h0M939 147.6h0M941.5 165.7h0M936.5 146.3h0M930.4 156.1h0M945.5 171.6h0M943.7 164.2h0M921.9 145.4h0M929.7 161.5h0M931.2 173.5h0M923.9 159.2h0M941.9 172.7h0M936.6 158.5h0M937.5 172.4h0M957.8 150.2h0M927.9 155.5h0M925.9 166.5h0M942.8 148.8h0M950.3 154.2h0M933.5 151.6h0M936.8 165.8h0M926 165.7h0M936.4 171.5h0M937.5 151.1h0M937.5 165.6h0M953.8 154.9h0M937.9 168.5h0M939 172h0M926.3 164.4h0M933.4 160.5h0M924.3 158.5h0M950.7 159.9h0M944.4 162.7h0M939.1 150.7h0M928.7 159.8h0M937.9 153.1h0M944 156.2h0M925.6 158.2h0M947 167.8h0M946.7 163h0M939.6 155.7h0M936.7 170.4h0M933.3 158.7h0M929.8 155.4h0M927.2 157h0M938.3 169.6h0M951.3 166h0M938.7 161.7h0M924.4 154.4h0M935.1 172.4h0M939 169.8h0M931.6 156.1h0M938.8 161.1h0M929.6 155.3h0M945.4 172.5h0M945.8 164.2h0M946.8 152.8h0M958.1 146h0M959.6 151.9h0M955.1 150.2h0M953.5 154.7h0M963.7 163.5h0M964.5 146.6h0M965.1 150.1h0M969.7 144.8h0M970 151.8h0M972.3 148.2h0M968.2 147.5h0M964.1 158.2h0M971.1 160h0M965.7 158.5h0M954.5 159.6h0M964.7 149.2h0M952.1 150.3h0M955.7 143.9h0M968.3 151.6h0M961.6 152.9h0M964.3 159.9h0M951.9 150.8h0M970.8 147.4h0M960.9 155.6h0M958.1 163.1h0M965.8 159h0M963.7 148.9h0M959.1 150h0M958.9 148.5h0M950.5 153.8h0M967.3 154.6h0M961 155.2h0M971.8 146.3h0M964 142.9h0M972.9 153.9h0M963.8 145.6h0M958.2 142.7h0M958.5 149.9h0M962.1 145.8h0M959.7 157.4h0M963.2 155.6h0M970.5 152.9h0M953 156.2h0M968 147.5h0M959.4 142.4h0M972.2 157.7h0M954.2 141.5h0M956.9 156.7h0M965 147.3h0M955.4 144.9h0M965.5 152.9h0M967.9 162.8h0M959.9 146.4h0M966.1 156.4h0M966.9 148.8h0M952.6 143.2h0M967.8 155.1h0M952.9 145.9h0M973.9 157.2h0M964.2 152.9h0M969.9 155.8h0M970 146.6h0M960.2 151.6h0M952.5 153.8h0M955.5 156.6h0M952.5 146.1h0M972 151.4h0M970.8 159.8h0M958.6 144.4h0M950.6 153.1h0M965.9 154.2h0M954.5 151.8h0M969.3 144.4h0M961.3 144.9h0M964.9 155.1h0M955.6 155.7h0M953.5 147.9h0M949 155.9h0M963.2 162.7h0M965 158h0M967.8 157.1h0M954.2 148.4h0M961.2 150h0M971 148.8h0M966.9 149.9h0M955.7 154.8h0M968.5 162h0M956.9 146.1h0M964.3 148.8h0M958.2 156.4h0M974.3 150.9h0M959 146.1h0M950 157.2h0M964.1 150.6h0M954.2 148.5h0M960.6 161.2h0M966.3 155.5h0M959.3 146h0M971.1 158h0M952.7 155h0M953.7 156.1h0M958.8 161.6h0M965.1 164h0M960.2 154.7h0M967.1 144.6h0M962 155.3h0M965 151.1h0M968.4 154.2h0M968.7 151.6h0M964.6 156h0M957.6 161h0M969.7 155h0M957.3 161.6h0M969.2 161.3h0M964 163.4h0M959.9 142.2h0M955.9 148.6h0M956.4 155.5h0M962.8 138.2h0M965.3 154.9h0M954.1 154.6h0M959.5 142.2h0M961.4 146.8h0M951.6 160.1h0M967.5 140.9h0M967.8 157.5h0M966.3 160.5h0M956.2 149.9h0M963.7 143.6h0M966.1 144.4h0M967 167h0M951.6 150.1h0M964.5 151.1h0M962.4 161.5h0M960.9 157h0M969.9 150.8h0M968.4 149.1h0M968 155.1h0M964.1 152.3h0M952.1 156.4h0M963.9 160.1h0M956.5 150.7h0M967.3 148.6h0M949 155.2h0M970.9 152.2h0M968.4 144.6h0M967.1 153.5h0M953.5 152.1h0M965.6 153.6h0M974.6 152.3h0M957.5 163.8h0M973.1 151.8h0M955.9 152.7h0M955.1 152.3h0M959.8 158.3h0M966.3 155.4h0M963.1 157.9h0M972.7 157.2h0M958.3 158.7h0M956.2 147.2h0M947.4 132.3h0M955.8 148h0M958.2 144h0M950.7 144.4h0M964.2 153h0M961.8 159.2h0M952.6 160h0M970 153.2h0M953.9 155.7h0M974.4 154.7h0M968.6 147h0M964.6 159.8h0M998.5 149.1h0M989.6 159.2h0M997.3 151.2h0M985.2 154.6h0M996.1 152.9h0M996.3 147.3h0M995.3 155.6h0M982.8 155h0M988.8 147.5h0M990.9 162h0M982.7 157.6h0M993.2 152.3h0M992.6 152.6h0M997.6 158.7h0M996.8 147h0M996.9 158.8h0M988.2 150h0M998 147.6h0M990.2 150.1h0M987.1 155.3h0M982.4 155h0M992.7 160.8h0M999.6 148.9h0M997.2 157.2h0M997.8 157.1h0M983.7 153.8h0M992.1 159.4h0M987.9 143.8h0M987.2 158.5h0M991.8 154.5h0M996.9 152.3h0M991.3 153.5h0M986.5 152.4h0M993.2 159.4h0M998.4 151.6h0M986.6 146.8h0M983.5 147.2h0M983.3 154.1h0M995.7 158.1h0M984.8 158.8h0M998.7 156.9h0M987.4 145.3h0M993.3 151.8h0M986.1 152.1h0M989.9 155.3h0M994.2 154.2h0M981.8 153.3h0M996.3 152.4h0M1000 151.2h0M983.8 153.8h0M985.1 149.3h0M1002 154.4h0M989.3 156.2h0M993.6 146.8h0M991.7 157h0M984.9 149h0M1000.3 153.9h0M995 146.9h0M988.5 157.5h0M983.1 154.7h0M996.4 144.4h0M998 157.8h0M995.7 154.7h0M985.8 152.8h0M998 158.4h0M988.1 162h0M987.4 152.3h0M997.1 153h0M989 156.1h0M986.6 158.1h0M986.4 145.6h0M984.7 156.2h0M981.9 150.4h0M996 148.8h0M979.6 154h0M995.3 147.3h0M990.8 156.6h0M994.6 159.3h0M999.3 155.7h0M997.1 149.9h0M987.9 161.2h0M990.4 151.6h0M991.2 158.6h0M987.6 154.7h0M985.8 154.1h0M989.3 162.7h0M986.6 153.8h0M982.4 159.7h0M991.5 161.8h0M990.5 159.3h0M989.6 158.1h0M987 148.5h0M995 164.7h0M993.9 149.6h0M997.1 153.8h0M990.4 155.9h0M987 154.2h0M995.5 153h0M989.3 150h0M996.6 156.4h0M990.2 147.7h0M991.8 151.1h0M987.8 156h0M994.1 158.7h0M998.9 151.4h0M982.2 148.1h0M991.1 152.9h0M989.2 151.1h0M996.9 160h0M985.1 158.4h0M994.8 156.4h0M993.3 156.2h0M998.8 157.9h0M996.6 156.8h0M992.9 157.4h0M989.6 157.6h0M983.1 149.9h0M998.2 150.6h0M983 150.9h0M999.6 149h0M988.9 150.4h0M990.2 155.3h0M991.3 161.9h0M996.2 147.2h0M991.1 157.1h0M993 150.7h0M991.4 149.6h0M986.5 152.5h0M990.3 161.8h0M993.6 143.9h0M996 154.3h0M999.5 157h0M993.2 153h0M979.6 155.2h0M990.8 147.4h0M989.5 156.3h0M992.2 158.9h0M993.1 162h0M993.2 145.6h0M986.7 145.4h0M991.6 153.7h0M997.9 146.3h0M991.4 144.1h0M993.3 145.1h0M993.2 148.8h0M988.2 151.2h0M997.9 159.3h0M990.3 145h0M992.5 149.1h0M992.7 157.4h0M984.5 159.9h0M988 150.2h0M995.9 155.3h0M990.7 155.8h0M1000.6 153.4h0M986.6 162.7h0M996 154.2h0M993.5 149.2h0M998 155h0M985.2 147h0M982.9 152.6h0M990.9 144.6h0M993.4 157.9h0M989.5 156.7h0M992 150.9h0M994 147.8h0M992.5 147.2h0M996.7 153.2h0M997.6 160.5h0M986.1 146.5h0M994 159.2h0M992.2 154.7h0M993.9 153.7h0M989.4 155.2h0M985.5 149.9h0M985.9 150.8h0M991.6 160.7h0M987.6 159.6h0M995.7 149h0M984.7 160.1h0M986.1 157.6h0M982.6 150.8h0M987.8 152.6h0M1035.4 144.7h0M1018.9 151.5h0M1034.4 150.6h0M1022.3 156.7h0M1034.1 157.2h0M1027.3 147.5h0M1023.4 157.6h0M1026.4 153.7h0M1030.5 161.4h0M1034.6 160.7h0M1033.6 148.8h0M1031.6 147.3h0M1034.3 152.6h0M1028 140.7h0M1021.1 160.2h0M1027 166.4h0M1031.1 162.6h0M1016.8 146.7h0M1034.2 152.9h0M1024.4 159.8h0M1015.7 148.1h0M1029 155.4h0M1014.7 155.1h0M1019.4 157.8h0M1024.8 158.7h0M1026.2 142h0M1020 146.9h0M1024.3 160.1h0M1016.9 150.1h0M1034.3 152.7h0M1018.7 155.8h0M1040 159.7h0M1022.6 164.9h0M1018 158.4h0M1028.7 154.4h0M1020.3 152.3h0M1032 154.7h0M1023.8 141.8h0M1037.2 156.2h0M1030.8 160.4h0M1034.5 150.6h0M1027.7 145.4h0M1023.7 161.6h0M1028.1 164.5h0M1030.1 141.5h0M1029.8 147.2h0M1021.5 157.6h0M1017.8 151.3h0M1037.6 156.3h0M1017.4 155.4h0M1029.1 162.2h0M1025.5 157.4h0M1027.9 151.5h0M1010.2 152.5h0M1022.1 143.5h0M1019.2 162.2h0M1047 154.3h0M1029.7 162.8h0M1025.8 149.5h0M1031.2 144.3h0M1029.8 142.2h0M1013.3 161.2h0M1020.7 145.9h0M1034.2 148.7h0M1038.2 144.3h0M1014.9 151.6h0M1039.6 152.2h0M1026.6 160.5h0M1041 157h0M1019 160.6h0M1022.5 151.5h0M1016.1 159.3h0M1030.1 152.8h0M1035.4 148.5h0M1018.2 161.6h0M1019.8 146h0M1029.1 165.8h0M1022.5 152.8h0M1022.9 156.5h0M1020.7 158.8h0M1038.8 151.6h0M1023 159.5h0M1024 149.8h0M1023.6 152h0M1029.2 152.1h0M1019.8 156h0M1027.4 165.5h0M1015.9 156h0M1035 160.1h0M1017.4 156h0M1023.1 150.3h0M1036.6 147h0M1030.5 163h0M1035.8 156.4h0M1024.4 150h0M1023.1 165.3h0M1029.1 151.2h0M1017.3 152.4h0M1020.3 150.4h0M1026.9 148.4h0M1030.3 162.5h0M1022.6 143.8h0M1028.7 143.1h0M1029 149.3h0M1019.1 151.8h0M1024.9 165.5h0M1026.8 147.9h0M1035.3 148.8h0M1031.4 143.1h0M1021.3 158.4h0M1014 165.8h0M1023.5 158.9h0M1028.9 157.7h0M1022.3 156.4h0M1037.4 153.7h0M1043.8 148.6h0M1039.9 152.7h0M1037.9 152.5h0M1029.1 161.4h0M1019.6 149.6h0M1018.1 153.3h0M1015.4 146.3h0M1025.2 157.6h0M1022.7 150.9h0M1039.5 150.2h0M1031.5 151.5h0M1023.8 149.3h0M1035.8 151.3h0M1031.3 150.1h0M1034.4 160.6h0M1017.9 153.1h0M1029.8 158.9h0M1024 148.1h0M1023.1 151.7h0M1021.1 154.8h0M1019.4 156.9h0M1026.5 157.8h0M1029.2 166.6h0M1031.8 151.8h0M1020 159.2h0M1027.9 152.5h0M1023 143.8h0M1025.6 156.5h0M1029.4 149.7h0M1032 146h0M1019.6 156.1h0M1034.4 152.4h0M1026.1 155.3h0M1021.6 163.6h0M1026 156h0M1030.3 145.9h0M1025.2 142.5h0M1018.8 155h0M1031.3 147h0M1032.5 162.9h0M1014.6 154.1h0M1030.8 142.2h0M1028.7 159.6h0M1036.6 149.7h0M1017.1 160.6h0M1031.9 159.9h0M1034.1 138h0M1029.4 146.3h0M1028.3 142.7h0M1022.8 152.4h0M1018.7 145.9h0M1026.1 152.9h0M1028.8 146.9h0M1021.9 145.5h0M1026.1 165.6h0M1026 151.4h0M1010.1 157h0M1022.2 150.1h0M1036.4 150.3h0M1039.5 154.5h0M1030.2 157.5h0M1026.7 141.8h0M1021.2 161.3h0M1019.6 162.3h0M1037.6 153.1h0M1021.5 162.7h0M1010.5 146.5h0M1035.7 151.3h0M1027 154.8h0M1029.2 151.1h0M1046.3 157.4h0M1025.7 161.7h0M1038.4 152.3h0M1017.9 147.8h0M1036.4 151.4h0M1025 144.6h0M1019 157.1h0M1023.9 159.1h0M1034 143.9h0M1039.5 154.3h0M1032.6 153.3h0M1026.1 155.7h0M1037.2 154.7h0M1028 149.7h0M1022.3 144.8h0M1033.9 148.9h0M1031.8 148.2h0M1035.5 150.9h0M1020.6 152.5h0M1028.6 149.5h0M1038.4 151.7h0M1031.1 162.2h0M1037 135.3h0M1019.4 147.2h0M1024.2 152.1h0M1030.6 146.6h0M1016.1 152.3h0M1017.3 152.2h0M1027.1 144.8h0M1031.7 164.9h0M1017.6 146.4h0M1038.1 146.4h0M1042.8 160.5h0M1015.8 150.2h0M1030.1 156.1h0M1025.7 153.7h0M1032.7 155.4h0M1025.8 142.6h0M1030.2 154.2h0M1027.5 158.9h0M1037.9 152.5h0M1030.5 158.2h0M1033.2 152.3h0M1029 151h0M1015.8 164.7h0M1019.7 151.1h0M1027.9 161.9h0M1029.6 158.9h0M1015.7 148.7h0M1031.8 151.4h0M1028.9 148.7h0M1023 166h0M1030.3 151.5h0M1024.6 153.5h0M1035.3 152.3h0M1017 146.5h0M1025.5 158.4h0M1023.9 145.4h0M1014.7 155.8h0M1015.5 149h0M1020.3 154.4h0M1024.8 165.3h0M1019.2 149.8h0M1028.4 143.3h0M1022.5 150h0M1031.4 145.4h0M1012.9 158.8h0M1015.7 157.5h0M1031.7 164.2h0M1028.8 140.8h0M1027.8 158h0M1026.3 161h0M1019.2 148.8h0M1028.1 148.9h0M1016.5 152.6h0M1027.6 149h0M1032.7 164.1h0M1019.7 145.7h0M1024.1 154h0M1020.9 169.8h0M1023.3 140.8h0M1016.3 159.3h0M1038.8 159.1h0M1027 143.7h0M1038.4 147.2h0M1024.7 154.4h0M1023.5 155.4h0M1025.2 161h0M1030.3 153.8h0M1024.7 158.1h0M1014.7 150.5h0M1031.8 158.6h0M1043.7 142.9h0M1039.3 150.4h0M1021.9 141.3h0M1034 145.7h0M1030.1 142.2h0M1032.8 144.3h0M1041.1 155.5h0M1038.6 156.7h0M1032.2 150.7h0M1035.4 144.5h0M1035.6 164.9h0M1034 154.6h0M1014.9 153.7h0M1025.8 158.8h0M1024 159.5h0M1031.8 160.4h0M1025.2 155.2h0M1026.9 140.6h0M1021.5 141.9h0M1032.7 157.7h0M1018.9 160.7h0M1023 152.5h0M1029.8 148.1h0M1028.5 150.2h0M1028.7 142.6h0M1020.7 163.3h0M1020.6 161.7h0M1034.3 156h0M1030 144.5h0M1020.7 159.6h0M1029.2 145.3h0M1038.6 155.7h0M1014.7 152.6h0M1023.1 144.7h0M1034.2 151.9h0M1029.5 165.4h0M1019.9 159.4h0M1026.5 163.6h0M1022.3 161.1h0M1038.2 157.8h0M1022.4 162.7h0M1030.4 148.3h0M1036.6 149.5h0M1024.7 145h0M1030.5 141.1h0M1029.9 157.7h0M1020.9 154.8h0M1030.5 150.8h0M1015 161.3h0M1022.5 152.6h0M1032.2 164.2h0M1020.4 154.9h0M1034.1 146.7h0M1027.1 155.8h0M1028.4 145h0M1025 158.1h0M1018.6 149.6h0M1024.1 165.4h0M1016.1 153.4h0M1026.4 164.1h0M1034.3 149.1h0M1019 161h0M1021 148.1h0M1024.2 159.2h0M1023.5 151.8h0M1033.2 155.9h0M1027.6 152.8h0M1019.8 163.1h0M1021.8 154.4h0M1029.7 154.6h0M1038.3 154h0M1020.2 142.8h0M1024.6 153.6h0M1024.5 153.7h0M1033.4 153.9h0M1042.5 157.9h0M1025.8 149.6h0M1035.4 160.3h0M1018.7 149.9h0M1015.8 160.8h0M1030.5 156.9h0M1028.3 159.4h0M1027.7 161.1h0M1029.3 159h0M1033.8 163.2h0M1023 149.4h0M1036.5 145.1h0M1023.9 165h0M1022.8 145h0M1027.6 162.4h0M1034.3 147.3h0M1029 161.1h0M1020.9 142.8h0M1034.8 152.8h0M1027.1 165.2h0M1023.1 159h0M1035.2 163.1h0M1033.6 142.1h0M1032.3 152.4h0M1017.2 150h0M1025 154.3h0M1014.7 150.3h0M1014.9 156.3h0M1023.8 163.9h0M1016 132h0M1040.9 153h0M1026.4 152.6h0M1034.8 157.7h0M1020 161.9h0M1035.4 146.6h0M1030.2 157h0M1022 155.7h0M1019.9 151.5h0M1021.8 151h0M1015.6 158.9h0M1015 150.2h0M1031.3 141.8h0M1035.1 154.8h0M1025 152.2h0M1011.5 150.7h0M1022 154.3h0M1030.1 149.3h0M1026.5 158.4h0M1035.9 150.9h0M1014.7 149.5h0M1022.9 154.7h0M1020.3 145h0M1037.4 151.3h0M1026 154.7h0M1020.7 158.5h0M1023.1 142.5h0M1029.7 154.2h0M1022.2 142.1h0M1003.2 171.7h0M1021 181.6h0M1010.3 186.6h0M1029.1 175.1h0M1004.7 183h0M1010.6 166.7h0M1017.5 164.3h0M1010.9 181.3h0M1016.1 180.4h0M1015.1 169.1h0M1003.9 172h0M1019.6 183.2h0M1018.1 178.2h0M1008.1 180.4h0M1014.9 171.5h0M1010.9 175.2h0M1020.7 176.1h0M1008.1 173.5h0M1013.7 182.2h0M1006.2 183.7h0M1013.9 162.8h0M1000.5 172.2h0M1007.5 168.1h0M1006.6 173.3h0M1022.3 168.9h0M1014.6 169.9h0M1011.1 178.5h0M1006.2 175.8h0M1003 167.2h0M1015.1 178.6h0M1017.4 166.8h0M1015.8 170.5h0M1017.4 182.9h0M1018.4 174.9h0M1012.4 172.3h0M1000.8 171.7h0M1021.2 178.5h0M1009.9 171.5h0M1007.1 169.7h0M1002.1 167.8h0M1021.5 177h0M1011.3 180.6h0M1013.8 181.1h0M1007.2 170.5h0M1009.7 181.9h0M1014.9 165.2h0M1014.9 165.1h0M1011.4 176.1h0M1011.3 183.3h0M1008.1 167.1h0M1014 168.6h0M1009.6 172.6h0M1017.1 176.4h0M1014.6 167.7h0M1003.3 174.8h0M1018.8 171.1h0M1016 176.9h0M1020.9 180h0M1000.7 172.9h0M1012.3 176h0M1009.5 168.7h0M1017.3 166.7h0M1011.6 175.6h0M1008.5 180h0M1007.9 163.4h0M1009.1 167.5h0M1014.8 178.1h0M1005.7 175.4h0M1022.9 176.9h0M1013.3 167.7h0M1009.4 166.9h0M1021.1 166.4h0M1009.9 176.4h0M998.7 166.3h0M1005.1 174.3h0M1021.7 169.2h0M1010.6 169.1h0M1014.4 179.9h0M1010.1 178h0M1005.5 169.5h0M1005.9 182.9h0M1002.6 171.4h0M1005.3 179.8h0M999.7 177.2h0M1008.9 178.1h0M1004.3 182.2h0M1020.6 170.8h0M1012.3 183.1h0M1010.1 164.6h0M1010.3 175h0M1009.6 169.4h0M1014.7 166.5h0M1015.6 180.9h0M1012.2 181.1h0M994.6 174.5h0M1014.4 174h0M1018.4 182.7h0M1016.3 181.5h0M1011.9 168.4h0M1002.3 171.9h0M1020.8 170h0M1009.9 163.7h0M1005.9 183.4h0M1006 170h0M1015.6 163.3h0M1019.5 167.8h0M1023 179.2h0M1017.3 173.7h0M1002.4 171.1h0M1009.5 179.2h0M1003.9 179.2h0M1012.9 173.3h0M1019.4 170.8h0M1008.8 176.7h0M1020 170.4h0M1003.1 172.2h0M1009.4 182h0M1024.4 175.7h0M1023.8 172.8h0M1014.7 169.8h0M1027.2 180.5h0M1006.1 165.8h0M1002.1 177.1h0M1002.7 179.4h0M1011.2 173.5h0M1014.4 168.9h0M1008.9 180.4h0M1007.6 179.7h0M1012.6 161.9h0M1005.5 163.8h0M1000.5 173.1h0M1015.5 183.5h0M1019.4 181.4h0M1020.9 172.6h0M1004.1 169.9h0M1011.9 174.2h0M1009.4 165.4h0M1009.4 183.8h0M1001.4 172.3h0M1020.9 177.6h0M1008.3 164.5h0M1001.9 176.8h0M1016.3 176.9h0M1004.5 172.5h0M1010.3 182.1h0M998.9 171.4h0M999.7 172.8h0M1000.8 164.9h0M1007.8 182.6h0M1013.9 183.1h0M999.1 172.6h0M1000.1 171.1h0M1015.6 164.9h0M1004.4 181.8h0M1010.5 183.8h0M1017.2 179.4h0M1006.7 172h0M1022.5 179.9h0M1020.8 179.2h0M1000.5 175.7h0M1006.4 176.7h0M1009.7 163.4h0M1022.5 177.1h0M1019.9 180.6h0M1012.1 173.2h0M1023.7 170.6h0M1007.7 169.3h0M1004.3 173.1h0M1004.3 171.2h0M1003.6 166.9h0M1005.1 181.1h0M1010.3 164.4h0M1004.5 170.7h0M1024.3 170.8h0M1022.7 178.2h0M1012.7 182.3h0M1021.2 168.4h0M1004.5 178.5h0M1016.4 168.8h0M1021.1 170.8h0M1017.2 173h0M1008.4 171.5h0M1006.6 172.7h0M1008.7 175.3h0M1016.4 180.7h0M1010.7 178.7h0M1003.9 171.2h0M1002.7 170.9h0M1023.3 179h0M1015 176.8h0M1011.7 179.6h0M1015.8 164.2h0M1001.3 167h0M1017.2 172.9h0M1004.4 168.7h0M1010 171.1h0M1012.8 177.6h0M996.1 182.3h0M1015.5 170.3h0M1007.7 176.5h0M1001.8 180.1h0M1001.6 168.6h0M1005.7 177h0M1014.2 182.2h0M1004.2 180.3h0M1019.8 173h0M1005.7 177.2h0M1020.4 183.4h0M1018.1 171.7h0M1007.8 166.7h0M1012.5 175.4h0M1021.5 167.6h0M1008.6 175.1h0M1022.9 168.6h0M1018.5 166h0M1003.2 170.3h0M1017.8 172.6h0M1016 178.6h0M1008.6 183.6h0M1001.2 171.3h0M1004 186h0M1013.2 167.9h0M1015.9 179.9h0M1019.2 180.8h0M1018.4 179.8h0M1001.9 175.2h0M1024.2 173.1h0M1007.4 170.2h0M1014.5 176.1h0M1007.3 177.5h0M1008.3 172.8h0M1016.2 170.2h0M1009.6 168.5h0M1018.9 169.3h0M1012.9 165.2h0M1023.7 172.7h0M1005.9 181.3h0M1012.6 163.4h0M1011.4 174.1h0M1006.2 181.6h0M992.9 188.5h0M994.9 187.3h0M991.5 185.4h0M979.2 182.7h0M992.4 177.3h0M999.2 179.6h0M977.5 185.7h0M983.3 173.4h0M976.9 183.2h0M994.6 188h0M980.5 174.3h0M993.8 179.8h0M980.5 181.8h0M990.6 172.9h0M998.2 179.7h0M988.7 191.6h0M981.8 171.1h0M1006.5 174.3h0M999.1 185.8h0M992.1 175.2h0M982.4 186.8h0M991.5 179.4h0M991.4 182.2h0M977.5 179.6h0M992.5 180.2h0M975.3 183.4h0M1000.7 184.6h0M990.5 180.2h0M996.3 184.4h0M978.7 187.7h0M987.5 191.1h0M1000.6 180.1h0M988.8 181.4h0M992.9 183.5h0M984.8 183.6h0M988.6 170h0M986.9 180.5h0M996.2 186.9h0M989.6 171.8h0M987.5 178.7h0M991.7 172.6h0M998.9 176.3h0M982.9 185h0M991.5 175.8h0M985.4 180.2h0M986.2 185.1h0M967.8 180.3h0M985.1 190.8h0M994.7 174.3h0M991 184.4h0M982.7 171.3h0M977.8 188.5h0M991.5 171.7h0M998.5 174.6h0M995.8 185.7h0M993.8 171.6h0M987.3 190.4h0M994.3 180.2h0M983.3 181.2h0M983 173.6h0M996.9 177.7h0M983.3 188.9h0M986.1 186h0M989.2 181h0M979.3 185.1h0M983.5 177.2h0M981.7 177.2h0M988.8 171.5h0M982.7 181.1h0M977.4 177.5h0M997.6 183h0M988.4 169.8h0M997.7 174.5h0M981.7 184.4h0M995.8 178h0M995.2 189.2h0M989.8 179.1h0M985.7 172.4h0M992.6 171.1h0M990.6 180.4h0M986.7 178.5h0M989.9 188h0M998.1 185.5h0M991.8 186.3h0M974.8 190.1h0M974.8 182.5h0M977.1 188.8h0M991.6 177.2h0M977.5 174.5h0M982.3 182.4h0M994.8 176.2h0M978.8 186.1h0M990.7 184.5h0M998.1 180.8h0M999.5 180.1h0M986.9 177.3h0M990 188.1h0M999.8 174.7h0M986.3 183.5h0M978.4 181.9h0M984.9 183.5h0M998.1 178h0M984.1 171h0M997.3 184.5h0M975.7 182.1h0M985 189.2h0M995.8 179h0M992.8 190.4h0M981.4 179.5h0M998.3 190.8h0M987.8 169.9h0M984.8 183.7h0M993.1 177.5h0M978.3 178.6h0M982.1 172.6h0M988.6 184.4h0M996.6 187.7h0M989.3 174.7h0M981.3 176.4h0M993.2 180.4h0M990.2 184.9h0M980.9 189.6h0M988.8 187h0M980.3 170.8h0M995.3 181.7h0M992.6 178.5h0M988.4 192h0M990.5 172.6h0M994.2 179.7h0M987.8 176.9h0M996.6 187.5h0M996.4 184.7h0M990 174.1h0M986.1 188.9h0M982.2 177.1h0M992.4 175.3h0M980.5 186.9h0M987.5 180.1h0M975.8 181.2h0M984 174h0M992.2 179.9h0M990.9 177.7h0M984.4 187.7h0M982.1 190.6h0M988.6 183.7h0M994.8 175.4h0M985.3 190.8h0M980.7 178.5h0M978.1 183.6h0M998 178.2h0M971 177.9h0M983.7 180.2h0M986.4 181.2h0M985.2 190.1h0M998.2 184.1h0M977.6 176.3h0M993.1 184.9h0M982 186.9h0M996.5 177.6h0M995.1 183.3h0M985.9 186.9h0M993.1 188h0M976.6 174.9h0M977.9 177.2h0M983.9 187.9h0M985.5 174.5h0M996.1 184.3h0M978.2 174h0M983.9 179.2h0M992.4 190.8h0M999.1 182.4h0M1000.2 179.5h0M987.5 179.8h0M985.6 177.5h0M995.7 178h0M976.6 185.6h0M976.5 176.6h0M981.4 172.4h0M983.7 183h0M987 183.3h0M982.4 180.1h0M988.7 188.8h0M983.1 171.4h0M988.8 178.9h0M978.9 179.3h0M986.3 180.4h0M999.3 185.1h0M994.5 173.2h0M991.2 171.9h0M974.8 183h0M993.2 177.7h0M977.7 175.4h0M999.6 181.8h0M982.7 172h0M989.8 189.4h0M978.5 187.3h0M982 178.3h0M993.9 189.5h0M984.8 188.2h0M997.3 177.5h0M995.4 178.8h0M995.6 163.4h0M990.6 179.2h0M973.2 177.6h0M989.8 180.2h0M978.8 185h0M999.1 185h0M982.2 183.8h0M983.9 181h0M987.1 191.5h0M994.3 176.1h0M984.9 186.7h0M1004.5 173.9h0M983.4 172.7h0M984.3 186.1h0M1000.4 178.7h0M986.2 177.4h0M995.9 183.2h0M989.6 172.3h0M994.5 172.3h0M994.3 185.2h0M978.7 180.3h0M991.7 190.1h0M986.7 172.9h0M990.8 180.8h0M970.5 189.3h0M946.8 178.9h0M954.7 199.7h0M973.6 192.8h0M968.3 199.8h0M963 179.7h0M953.4 198.7h0M948.8 194.5h0M962.1 192.9h0M958 193.3h0M973.8 177h0M957 203.2h0M961.8 183.2h0M950.5 182.5h0M966.7 185.8h0M963.6 196h0M951.5 186.8h0M947.9 194.2h0M963 189.2h0M975.8 184.8h0M963.8 173.4h0M965 200.6h0M971.1 192.3h0M965.7 180.9h0M951.8 199.3h0M970.1 199.6h0M973.1 196.1h0M962.2 184.5h0M965.5 177h0M964.1 196.1h0M953 193.4h0M969.1 177.2h0M971.8 183.9h0M950.6 181.4h0M967.9 191.5h0M973.5 189.8h0M962.7 188.9h0M943.5 187.6h0M963.9 189.4h0M950 181.1h0M970.8 184.2h0M972.8 190.4h0M958.8 176.6h0M974.4 195.9h0M957.3 179.2h0M965.5 183.5h0M953.9 186.7h0M968.6 186.2h0M971.1 181.5h0M964.3 193.2h0M964.4 175h0M969 189.4h0M970.7 174.1h0M957 189.8h0M975.5 191.4h0M954.6 179.4h0M954 190.9h0M970.5 175.7h0M965.4 186.3h0M975.6 190.2h0M973.4 192.3h0M955 200.7h0M958.6 199.4h0M949 181.3h0M966.5 186.7h0M964.4 181.1h0M961.6 205.9h0M973.3 182.3h0M980 172.2h0M959.2 194.2h0M953.1 190.9h0M972 197.4h0M959.2 188h0M960.4 185.1h0M963.4 199.1h0M969.9 181.9h0M948.7 190.9h0M970.1 192.1h0M973.3 195.3h0M957.2 198.9h0M974.7 190.9h0M962.8 189.1h0M975.4 190h0M959.6 198.3h0M967.4 199.3h0M968.1 170.9h0M971.6 179.2h0M966.2 190.5h0M950.4 197.4h0M953.1 194.6h0M974.6 191.3h0M959 191.9h0M970 174h0M950.4 186.7h0M973.4 186.2h0M960 184.9h0M970.8 178h0M972.9 190.9h0M969 196h0M970.2 179h0M953.4 196.8h0M958.4 187.2h0M965.1 184.6h0M959.1 180.5h0M954.8 184.3h0M962.1 188.1h0M970.8 195.7h0M957.6 180h0M976.2 183.6h0M950.3 191.1h0M960.6 182.8h0M963.2 179.6h0M961.7 182.3h0M969.1 187h0M949.7 187.4h0M956 185.4h0M955 192h0M960.1 185.9h0M956.8 181.4h0M972.7 187h0M964 187.8h0M964.7 182h0M956.1 194.4h0M959.4 203.9h0M963 182.5h0M952.2 189.5h0M959.1 197.9h0M971.1 178.6h0M958.3 195.5h0M973.6 190.5h0M958.7 178.2h0M969.2 171.4h0M966.1 192.7h0M956.7 194.5h0M959 182.6h0M971.5 179.6h0M950.6 198.5h0M954.7 188h0M953.6 201.2h0M955.1 172.7h0M964.4 186h0M972.4 177.6h0M965 192.1h0M953.5 197.7h0M958.7 183.7h0M963.1 175.3h0M962.4 194.3h0M964 201.9h0M970.8 186.4h0M973.6 179h0M961 186.5h0M968.5 182.5h0M956.7 175.7h0M966.8 202h0M963.6 172.4h0M973.2 192.9h0M951.6 195.9h0M961.4 177.5h0M948.4 189.5h0M958.6 203.2h0M957 174.8h0M950.2 179.4h0M972.3 194h0M958.2 184.2h0M957.7 198.6h0M972.7 180.5h0M969.2 192.1h0M963 183.6h0M960.3 191.8h0M971.8 189.6h0M961.3 179.5h0M962.3 188.5h0M954.1 192.4h0M950.7 170.3h0M964.3 186.6h0M975.3 190.9h0M960.8 200h0M956 187.9h0M951.1 192.9h0M947.5 185.3h0M968.4 173.7h0M962.9 193.3h0M958.8 182.2h0M956.7 180h0M962.6 190.3h0M976.2 192.4h0M966.8 202.3h0M959.2 203.8h0M953.8 188h0M968.9 193.2h0M976.2 194.2h0M947.9 183.2h0M959.9 179.9h0M951.7 182.5h0M949.2 195.6h0M960.7 185.3h0M959.1 204.1h0M966.9 202.1h0M955.6 190.1h0M956.9 192.1h0M950.2 179.6h0M978.7 195.8h0M971.1 186.3h0M973.1 187.6h0M964.2 188.5h0M960.5 181.2h0M957.6 188.9h0M970.1 197.1h0M950.8 177.2h0M972.7 196.4h0M964.1 174.5h0M964.7 173.4h0M974.4 183.6h0M952.9 188.4h0M960.1 184.6h0M970.1 186.7h0M970.7 189.6h0M976.2 191.8h0M963.2 200.1h0M968.7 192.6h0M958.8 198h0M960.5 183.3h0M956.6 189.6h0M979.3 185.1h0M975.2 182.3h0M970.2 196.6h0M951.3 181.7h0M942.5 192h0M974.2 186.6h0M955.5 191.5h0M954 193.2h0M961.2 174.5h0M965.6 183.6h0M958.8 185.6h0M954.1 193.9h0M951 186.7h0M976.1 189.5h0M960.5 181.4h0M973.8 180.9h0M967.2 195.2h0M968.8 193.4h0M960.5 184.5h0M964.2 193.8h0M956.3 198.1h0M970 180.3h0M965.8 183.6h0M967.1 184h0M957 194.9h0M966.9 195.1h0M951 177.7h0M952.3 178h0M957.9 197.4h0M964.9 201.6h0M948.7 179.2h0M959.4 193.4h0M964.9 181.8h0M950.4 184.5h0M974.2 185.8h0M950.6 181h0M972.4 185h0M971.3 194.6h0M963.7 198.4h0M966.6 177.5h0M953.3 186.8h0M969.3 180.3h0M969.5 187.9h0M950.2 198.4h0M962.5 195.5h0M959.6 178.2h0M965.6 181.1h0M967.2 178h0M957.2 175.3h0M947.1 185.5h0M953.5 189.3h0M953.3 200.3h0M960.6 173.9h0M957.8 199.7h0M950.4 182.5h0M960 176.6h0M975.6 205h0M957.2 179.7h0M953.6 199.6h0M965.9 190.4h0M955.4 182.5h0M963.9 204.5h0M972.4 169.8h0M963.8 178.9h0M962 191.2h0M963.4 195.1h0M959.1 190.3h0M957.3 193.1h0M957.6 176.4h0M954 178.8h0M966 200.3h0M955.3 182.1h0M948.6 195.8h0M956.2 180.3h0M971.8 186.5h0M968 193.1h0M946.2 195.6h0M969.4 183.4h0M964.6 175.7h0M944.1 180.4h0M958.1 192.9h0M962.2 185.2h0M963.1 183.9h0M969.3 174.9h0M957.8 189.9h0M971.4 192.6h0M955.8 181.8h0M958.9 172.7h0M954.7 194.1h0M970.8 193.1h0M956.1 198.5h0M950.2 192.1h0M973.5 181.7h0M974.6 183.5h0M970.7 199.4h0M968.9 200.4h0M963.4 181.7h0M956.4 200h0M954 177.8h0M960 180.7h0M961.2 175.8h0M959.6 183.4h0M965 184.1h0M969.2 185.3h0M944.6 198.4h0M964.7 188h0M961 199.4h0M951.9 183.7h0M950.2 191.8h0M955.1 200.1h0M970.1 189.8h0M974.6 195.1h0M955.8 179.5h0M967.8 198.1h0M949.2 186.5h0M961.7 185.1h0M959.2 173h0M959.7 188.4h0M961.7 203h0M960.8 199.2h0M961.8 172.6h0M967.6 196.8h0M954.4 185.7h0M943.7 204h0M961.8 195.5h0M960.2 193h0M952.9 187h0M959.4 199.7h0M972.6 197.4h0M959.4 200.1h0M950.6 195.8h0M973.1 194.4h0M969.9 183.2h0M972.9 178.1h0M966 201.3h0M951.3 182.2h0M963.3 180h0M965.4 195.4h0M960.8 179h0M970.5 200.8h0M983.8 188.9h0M960.1 186.8h0M974.8 186.9h0M967 184.7h0M950.5 178.4h0M966.1 173.5h0M961.5 192.1h0M954.3 188.2h0M953.8 195.5h0M971.9 185.1h0M960.7 185.8h0M965.1 204.2h0M963 171h0M977 187.2h0M965.6 184.7h0M940.8 181.2h0M958.7 184h0M973.5 192.6h0M950.8 175.8h0M939.8 186.3h0M959 172.7h0M958.1 176.5h0M976 186h0M962.4 198h0M951.3 178.8h0M971.7 186.6h0M957.5 177.6h0M972.7 190.5h0M971.9 180.9h0M959.7 195.2h0M948.8 187.1h0M955.4 176.9h0M969.7 176.2h0M950.5 191.1h0M961.6 188.1h0M945.7 190.9h0M965.7 183.5h0M982.6 183.3h0M963 162.1h0M966.2 192.3h0M951.5 183.9h0M954.7 176.7h0M956.3 172.6h0M953.9 173.9h0M965 199.7h0M968.2 180.2h0M967.4 176.2h0M977.1 186h0M966.2 192.1h0M949 187.2h0M958 187.7h0M965.4 177.1h0M953 174.1h0M963.2 170.9h0M955 184.7h0M963.5 216.1h0M966.4 197.3h0M973.2 179.7h0M956.6 192.2h0M953.6 196.3h0M975 185.2h0M968.6 197.6h0M959 190.5h0M971.6 199.7h0M958.4 183.6h0M949.2 171.7h0M953.6 190.7h0M966.9 183.9h0M953.4 196.3h0M949.2 193.2h0M973.8 174.7h0M964.4 174.2h0M961.3 190.8h0M951.1 186.7h0M976.6 183.9h0M963.4 202.8h0M966.1 183.7h0M963.3 172.2h0M967.8 174.5h0M954.4 173.9h0M952.6 185h0M973.3 191.9h0M960.8 215.7h0M956.6 220.8h0M960.2 215h0M958.8 225.4h0M945.6 216h0M960 215.1h0M960.5 215.5h0M952.1 212.6h0M961.2 218h0M950.2 221.9h0M963.9 213.8h0M959.8 209.1h0M961.7 208.4h0M951.5 220.6h0M953 213.7h0M964 211.4h0M949 215.7h0M949.3 216.8h0M953.6 215.4h0M947.7 217.3h0M962.9 220.7h0M956.7 213.9h0M948.1 217.3h0M949.9 215.9h0M953.3 220.7h0M945.5 217.1h0M951.4 210.9h0M952.9 223.3h0M946 209.7h0M960.6 214.6h0M964.4 213.1h0M951.9 218h0M943.4 212.5h0M952 212.5h0M948.8 222h0M946.5 216.9h0M951.4 211.9h0M946.3 217.2h0M944.5 213.5h0M954.3 214.4h0M960 211.4h0M956 207.4h0M961.8 215.1h0M959.4 220.4h0M948.9 209.3h0M963.1 210.2h0M948.9 215.1h0M958.1 217.4h0M957.6 221.9h0M959.7 218.5h0M948 216.7h0M953.5 213.5h0M954.9 212h0M948.6 214h0M958.1 219.8h0M945.1 211h0M956.3 223.3h0M962.1 212.3h0M945.9 215.1h0M958.1 207.8h0M953 213.8h0M963.7 215.4h0M959.2 219.6h0M950.5 208.9h0M936.2 204.3h0M955.2 213.5h0M954.6 218.5h0M961.4 221.5h0M954.4 224.3h0M949.5 222.7h0M950.1 221.2h0M956.1 210.5h0M945.1 223.5h0M958.9 217.2h0M952.8 214.4h0M957.8 208.4h0M951.3 219.8h0M952.9 217h0M961.6 208.6h0M945.6 216.1h0M948.9 208h0M953.1 208.4h0M958 214.7h0M949.2 208.3h0M947.4 204.8h0M946 212.3h0M953.6 212.1h0M946 215h0M945.7 219.4h0M959 208.2h0M947.3 217.7h0M949.3 208.6h0M965.7 213.4h0M964 210.7h0M945.9 218h0M954 217.5h0M954.7 214.3h0M959.3 220.5h0M944.1 214.7h0M951.7 215.6h0M958.9 212.9h0M961.8 215h0M963.2 215.1h0M960.8 220.1h0M952.8 220.9h0M951.1 221.1h0M958.1 210.8h0M949.6 217.8h0M951 218.1h0M962.3 215.7h0M956.7 215.9h0M950.5 208h0M942.2 219h0M940.6 207.5h0M958.4 209.2h0M964.8 206.9h0M961.6 217.3h0M965.4 216.6h0M949.5 217.3h0M965.9 214h0M962.2 214.8h0M968.1 217.3h0M959.1 214.9h0M960.5 216.9h0M943.6 211.6h0M957.6 220.5h0M958.3 212.1h0M961.3 215.5h0M961.4 216.6h0M951.7 221.6h0M963.1 210.6h0M949.1 213.9h0M952.7 206h0M956.2 221.5h0M954.8 214.8h0M952.7 211.2h0M959 218.1h0M949 213h0M963.8 213.7h0M949.6 211.1h0M957.9 217.8h0M959.3 220.2h0M963.1 211h0M963.5 211.9h0M953.5 221.5h0M951.6 222.4h0M958.1 218h0M958.8 220.3h0M945.7 210.8h0M948.7 221.7h0M962.3 212.2h0M961.7 214.6h0M956.8 214.6h0M964.2 213.9h0M949.8 212.8h0M964.8 217.9h0M964.8 216.5h0M963.6 217.2h0M950.3 211.1h0M952.2 215.4h0M964.8 214.5h0M952.7 214.5h0M953.8 210h0M946.7 219.6h0M953.1 217.2h0M961.6 210.3h0M948 215.1h0M949.9 209.3h0M947.7 208.6h0M957.7 222.3h0M954.8 216.6h0M960 210.1h0M958.7 219.6h0M953.7 212.4h0M946.4 212.9h0M954.1 208.4h0M949.8 211.2h0M965.2 216.2h0M964.7 214.4h0M964 212.3h0M950.3 221.6h0M962 210.9h0M953.6 220.4h0M955.5 225h0M962 211h0M946.5 219h0M949 211.1h0M951.4 214.9h0M944.1 214.7h0M958.4 219.2h0M947.7 215.1h0M959.7 210.7h0M963.9 212.7h0M951.4 221.3h0M955.8 211.5h0M958.2 221.8h0M960.2 215.5h0M955.3 218.8h0M949.9 218.5h0M958.1 217.3h0M960.5 220h0M958 212.6h0M955.5 215.2h0M957.9 213.9h0M962.7 219h0M965.2 212.6h0M952.6 207.1h0M950.2 218.8h0M950.3 216.4h0M946.7 218.6h0M941.3 209.9h0M951.1 219.2h0M946 211h0M961.4 211.5h0M953.3 216.9h0M964.1 218.3h0M958.8 211.9h0M951 212.1h0M962.2 210.2h0M953.4 215.3h0M939.1 217.2h0M950.1 214.3h0M947.1 213.8h0M964.3 211.4h0M945.8 217.6h0M950.1 222.5h0M946.9 216h0M964.8 218.1h0M955.8 217.1h0M951.1 217.1h0M951.7 214.3h0M963.9 212.7h0M982.1 214.7h0M985.7 209.3h0M982.5 214.9h0M988.6 216.6h0M985.5 207.4h0M978.8 209.1h0M981.1 212h0M989.7 209h0M989 213.5h0M976.8 214.1h0M979 213.5h0M987.3 210.5h0M982.1 215.1h0M984.2 211.6h0M976.2 210.3h0M991.1 207.6h0M987.8 210.2h0M982.8 217.5h0M975.2 209.4h0M984.5 214.6h0M980.4 213.7h0M983.4 208.4h0M987.7 214.5h0M982.9 216.9h0M981.9 203.1h0M979.5 209.6h0M986.1 211.5h0M991 207.1h0M979.7 208.5h0M980.8 204.7h0M978.5 209.7h0M992 210.9h0M985.2 208.4h0M987.7 205.3h0M976.6 210.4h0M985.9 212.9h0M983.9 202.2h0M983.6 216h0M986 202.4h0M977.7 212.8h0M982.1 209.8h0M990.3 210.9h0M981.1 203.8h0M991.1 213.3h0M977.2 212.2h0M986.9 214.3h0M982.9 205.7h0M985.5 215.2h0M987.5 204.5h0M983.2 211.6h0M984.8 209.8h0M984.9 215h0M984.2 207.8h0M986.2 214.2h0M978.1 207.1h0M981.9 204.9h0M978 208.1h0M987.3 216.3h0M980.9 216.3h0M980.4 205.8h0M981.7 212.3h0M987 207.1h0M988.2 215h0M987.4 204.4h0M989.1 212.3h0M983.6 212.4h0M977.8 209.6h0M989.1 210.4h0M985.7 217.6h0M989.3 205.1h0M991.7 210.7h0M985.7 210.6h0M983.4 209.8h0M984 215.3h0M983.8 209h0M978.2 214.2h0M978.2 215.3h0M989.3 210.5h0M984.8 216.4h0M986.2 204.6h0M988.6 204h0M983.6 208.9h0M979.2 204.1h0M985.9 206.9h0M984.2 210.5h0M986.3 204.3h0M990.5 212.8h0M980.9 210.1h0M991 209.7h0M981.9 205.3h0M978.6 209.8h0M987.8 209.4h0M986.2 202.8h0M979.2 209.1h0M985.9 215.3h0M979.8 204.9h0M981.3 209.5h0M990.8 206.2h0M984.3 204.2h0M992 210.6h0M973.5 217.7h0M980.9 216.6h0M983.4 203.5h0M988.4 210.6h0M986.8 216.3h0M976.9 210.1h0M976.9 210.9h0M989.4 206.6h0M991.2 210h0M987.8 216.2h0M979.6 212.2h0M987.8 204.2h0M986.6 205.7h0M977.8 207.1h0M984.7 212.3h0M981.6 210.3h0M982 210.8h0M982.9 209h0M979 217.5h0M987.4 207.3h0M986.8 207.1h0M985.5 203.4h0M991.7 211.9h0M990.2 215h0M988.6 214.6h0M987 205.3h0M982.5 208.7h0M992.7 210.7h0M987 207.5h0M983.1 217.2h0M977.2 213h0M977.3 209.1h0M980.4 204.7h0M980.9 214.4h0M977.6 212.3h0M981 213.7h0M989.8 210.7h0M979.9 211.2h0M986 211.2h0M990.7 214.3h0M986.3 203.3h0M978 205.3h0M982.5 203.2h0M976.8 211.6h0M991.4 209.3h0M982.7 212h0M991.6 208.4h0M980.7 215.8h0M980.8 216.5h0M989.3 205.8h0M989 215h0M976.8 207.1h0M981 214.3h0M986.2 213.8h0M983.7 208h0M981.4 206.9h0M982.9 215h0M985.6 217.2h0M979.2 215.2h0M979.4 213.2h0M981.5 209.6h0M990.8 212.9h0M986.1 207.1h0M988 206.9h0M979.1 206.3h0M1009.7 203.2h0M1001.4 200.3h0M1003.2 197.9h0M991.3 196.7h0M1008.7 193.7h0M1001.6 201.7h0M1004.7 197.9h0M994.2 190.7h0M1009.9 198.4h0M1007.6 203.3h0M1001.8 194.7h0M996.3 197.6h0M1005.6 198.2h0M1007.5 187.9h0M1010.6 199.9h0M1001.7 194.3h0M1007 201.6h0M1001.2 194.1h0M996.4 189.8h0M1001.8 191h0M999.3 204.7h0M1006.4 203.6h0M1011 194.2h0M998.1 191.7h0M1009 192.1h0M994.7 200.6h0M992.1 194.7h0M997.3 195.4h0M994.6 204.9h0M996.5 198h0M994.7 201.7h0M993.8 189.7h0M1004.3 188.4h0M1009.2 188.3h0M994.7 191.4h0M1000.5 206.9h0M1004.1 204.5h0M990.9 196.3h0M1001.1 197.2h0M1010.4 200.2h0M997.9 204.6h0M995.9 202.5h0M1005 191.8h0M995.8 198.7h0M1011.3 195.3h0M1008.3 186h0M1001.8 198.5h0M992.4 190.3h0M990.7 196.7h0M1002.7 207h0M996.3 197.3h0M998.7 187.9h0M1008.3 188.8h0M1010.1 202.1h0M997.9 197h0M1005.4 197.5h0M1010.6 193.1h0M1004.4 192.1h0M993.1 191.4h0M994.5 199.3h0M1007.8 202.5h0M994.2 188.2h0M998.2 192.4h0M1011.3 196.8h0M1000.7 207.2h0M996.6 189h0M998.1 200.9h0M1002.9 196.3h0M997.2 190.1h0M998.2 191.8h0M1004.6 192.1h0M1007.4 203.3h0M1009.3 193.1h0M1007.4 202.3h0M1001.1 207.1h0M1009 190.8h0M1001.5 208.7h0M993.3 198.5h0M1012 198.9h0M1003.9 185.1h0M998.8 198h0M1000.8 204.5h0M1009.3 190.8h0M990.5 181.6h0M990.6 196.8h0M998.5 195.2h0M1003.6 190.3h0M1002.1 189.1h0M993.6 193.6h0M1001 185.9h0M997.2 201.9h0M1004.8 193.3h0M1000.4 199.7h0M1005.6 192.2h0M1002.4 197.3h0M1014.3 199.7h0M996.8 193.5h0M999.6 195.2h0M1001.4 200.3h0M998.5 190.9h0M1004.5 187.9h0M1004.3 189.1h0M1006.3 205h0M993.6 200h0M1002.2 205.6h0M1005.7 189.8h0M999.2 199.6h0M995.1 204.4h0M993.8 200.1h0M1008.3 202h0M996.7 187.8h0M999.8 199.4h0M997.9 197.1h0M1005.8 200.4h0M996.4 193.2h0M1006 191.7h0M999 206.5h0M1008.1 204.1h0M1003.7 192h0M1004.3 191.5h0M1005.3 198.2h0M1002.1 190.2h0M992.1 193.4h0M997.5 198.8h0M995 188.1h0M996.6 188.6h0M1006.8 191h0M995.5 207.1h0M992.6 196.3h0M998.4 189.5h0M1000.6 206.8h0M1012.6 189.4h0M994.7 196h0M1008.6 206.6h0M1003.3 196.5h0M990.9 192h0M1007.9 194.8h0M999 202.9h0M1010 200.2h0M1004.2 203.4h0M1000.3 188.4h0M998.2 192.2h0M1001.9 201h0M1006.5 188.6h0M999.9 187.1h0M996.7 196.1h0M1002.4 197h0M1010.1 193.6h0M993.1 188.8h0M1001.5 201.6h0M1000 187.8h0M994 198.4h0M1009 199.1h0M994.8 210.6h0M1004.5 192.1h0M1002.7 196.5h0M997.7 203.6h0M1009.1 203.6h0M1014.2 190.3h0M1007 192.6h0M994.2 202.3h0M996.4 202h0M1001.7 195.8h0M1009.1 198.1h0M995.7 193.9h0M1005.9 205.2h0M997.1 191.4h0M995 195.2h0M1001.1 186.7h0M1003.6 199.2h0M991.3 194.6h0M991.2 191.7h0M1005.8 194.5h0M1001.2 205.6h0M1008.4 199h0M995.9 190.6h0M992.5 202.7h0M999.5 206.3h0M995 196.8h0M1001.6 200.4h0M990.8 200.4h0M1000.9 190.9h0M995.4 204h0M992.4 198.5h0M995.2 189h0M1001.5 188.2h0M1007 200.5h0M1001.4 204.6h0M1008 187.5h0M998.2 204.9h0M1004.4 191.4h0M1006.1 203.7h0M1009.3 194h0M1008 201.1h0M993.2 194.7h0M996 189.9h0M1005 203.6h0M992.9 186.6h0M994.1 177.5h0M991.9 197h0M994.8 199.3h0M1001.3 187.1h0M995.9 192.7h0M1004.2 207h0M1000.4 204.8h0M998.3 189.7h0M1005.1 186.1h0M1006.6 136.8h0M1014.9 134h0M1023.2 137.5h0M1018.4 134.8h0M1016.2 137.1h0M1016 139.9h0M1022.1 130.6h0M1027.5 135.3h0M1023.7 138.8h0M1016.9 133.4h0M1008.7 132.4h0M1025 137.9h0M1013.1 133.7h0M1017.8 133.5h0M1018.3 132.7h0M1016.2 132.9h0M1020.8 135.6h0M1015.5 133.5h0M1010.1 139.6h0M1007.1 138.6h0M1020.2 139.9h0M1017.6 137.6h0M1015.3 137.5h0M1013.1 135.9h0M1008.9 134h0M1025.2 135.9h0M1022.6 131.7h0M1022.5 139.4h0M1015.1 136.4h0M1024.4 131.9h0M1015.9 140.5h0M1010 132.3h0M1008.8 135.4h0M1017.5 136.9h0M1010.8 138.8h0M1020.6 134.1h0M1016.1 137.6h0M1024.1 137.7h0M1021.7 141h0M1025.1 135.9h0M1024.8 138.1h0M1022.6 132.3h0M1016.3 130.8h0M1006.1 134.6h0M1014.7 138.7h0M1016.7 132.8h0M1027.3 135.9h0M1019.8 139.4h0M1023.5 135.4h0M1024.3 139.4h0M1016.5 139.8h0M1008.7 137.5h0M1011.5 134.4h0M1014.5 139.8h0M1022.1 133h0M1022.2 138.8h0M1007.6 134.5h0M1021.5 135.2h0M1025.1 139.9h0M1009.7 138.4h0M1013.2 135.2h0M1009.7 140.3h0M1017.9 132.3h0M1016.3 138h0M1009.8 136.1h0M1020.6 139.7h0M1009.9 134.4h0M959.2 113h0M950.6 114.7h0M953.3 109.4h0M960.4 115.2h0M954.1 111.8h0M957.8 118.7h0M955.6 117.7h0M956.2 111.4h0M953.7 115.9h0M952.9 113.8h0M960 114.8h0M961.6 112h0M950.9 114.5h0M955.9 111.6h0M960.4 117.5h0M954 118.9h0M953.2 110.7h0M949.7 116.4h0M956.3 113.9h0M953.2 113.8h0M960.4 114.4h0M961 113.2h0M956.9 115.1h0M952.4 106.9h0M949.1 114.4h0M956.9 114.1h0M955.9 108.6h0M956.8 111.1h0M963.9 114.2h0M957.9 117.6h0M950.8 114.1h0M954.9 112.3h0M959.1 111.7h0M956.9 116h0M957.4 118.2h0M958.3 112.4h0M957.9 113.2h0M962.5 113.9h0M955.8 115.7h0M953.5 110h0M954.8 109.7h0M949.7 109.5h0M961.9 111.8h0M952.9 122.5h0M952.9 119h0M960.2 113.2h0M961.7 112.5h0M951.3 116.2h0M951.4 118.1h0M950.3 112.5h0M960.9 117.9h0M947.2 113.7h0M950 111.4h0M988.9 118.5h0M967.3 113.7h0M978.4 115.3h0M982.1 114.1h0M988.6 113.7h0M985.9 122.7h0M988.3 116.5h0M989.8 118.7h0M980.1 109.5h0M988.4 118.4h0M984.1 123.6h0M981 120.7h0M984.3 109.9h0M989.8 123.5h0M988.5 115.1h0M983.6 110.8h0M982.7 121.4h0M993.2 113.5h0M982.2 114.3h0M980.8 118.3h0M978.3 112.7h0M989 112.4h0M983 110.9h0M983.3 120.6h0M983.6 115.7h0M983.2 112.2h0M980.6 110.3h0M984.5 114.1h0M983.9 120.7h0M984.5 121.6h0M985.4 120.6h0M983.9 118.5h0M981 114h0M987.6 122.5h0M981 111.6h0M987.9 116.5h0M980.3 119.2h0M984.2 115.2h0M984.6 119.9h0M983.7 118.5h0M986.8 121.8h0M987.7 118.5h0M981.2 113.4h0M976.4 113.4h0M984.6 120.7h0M986.5 112h0M978.6 112.9h0M983 112.4h0M986.2 112.6h0M987.1 111.4h0M980.2 120.3h0M982.1 118.8h0M984.3 118.1h0M986.8 111.4h0M980.2 124.9h0M978.6 137.7h0M980.1 141.2h0M981.5 141.1h0M981.9 147.1h0M977.8 140.3h0M979 147.8h0M978.4 140.6h0M973.1 140.3h0M974 143.7h0M976.6 149.8h0M982.9 142.2h0M970.4 141.9h0M976.6 138h0M976.3 149h0M971.3 140.5h0M976.9 142.2h0M982.9 142h0M973.2 145.4h0M975.1 141.6h0M975.3 150.4h0M978.7 149.2h0M975.6 141.5h0M979.3 146.8h0M977.2 138.9h0M974.5 140h0M971.8 141.3h0M970 145.8h0M974.7 149.8h0M980.3 147.6h0M972.9 145.9h0M975 139.3h0M977.4 140.7h0M979.2 139.9h0M977.7 143.1h0M978.7 139.4h0M970.4 142.8h0M978.8 132.2h0M981.4 141.8h0M979.1 139.1h0M981.8 147.1h0M979.2 140.5h0M983.7 130.7h0M975.5 144.8h0M970.4 146.6h0M980.7 139h0M972 141.3h0M973.1 142.1h0M978.7 138.9h0M983 146h0M973.3 149.4h0M982.5 144.6h0M980 146.4h0M977.6 149.4h0M972.5 147.8h0M951.8 166.8h0M945.2 180.6h0M947.2 174.3h0M957.8 173.6h0M949.2 172.8h0M950.8 168.4h0M945.8 167.3h0M951.1 176.2h0M955.9 171.9h0M956.6 170.2h0M944.8 167.8h0M947.6 172.8h0M947.8 173.9h0M941.8 175.6h0M946.5 167.9h0M942.2 176h0M952.6 180h0M949.7 166.5h0M944.6 179.1h0M954.9 173.3h0M943.4 179.5h0M951.1 171h0M954.6 175.6h0M951.4 169.9h0M942.4 176.9h0M947.9 175.4h0M949.4 167.5h0M950.6 172.5h0M939.8 175.7h0M949.9 173.5h0M946 182.4h0M955.6 178.8h0M953.6 173.7h0M951 174.1h0M951.6 174.7h0M940.7 178.3h0M956.4 174.1h0M944.6 180.3h0M947.9 168.7h0M949.8 174.8h0M949.6 184.2h0M949.7 171.5h0M955.7 178.4h0M948.4 183.7h0M954.2 175h0M951.2 168.1h0M940.8 180.1h0M938.9 173h0M950.8 173.1h0M947.7 169.9h0M940.6 170.2h0M946.6 173.5h0M953.2 181.3h0M943.6 167.6h0M943.5 181.9h0M949.9 173.8h0M955 172.6h0M952.8 181.2h0M955.7 175.6h0M940.6 169.8h0M944.6 176.2h0M944.1 176.8h0M948.4 171.4h0M941.9 169.2h0M941.8 169.3h0M953.8 169.5h0M945.2 178.1h0M946.3 176.9h0M942.6 168.6h0M942.2 168.3h0M954.8 171.5h0M951.7 181.8h0M950.8 183.7h0M947.1 180.1h0M951.5 177.5h0M949.1 180.3h0M952 182.4h0M942.3 180.9h0M942 176.7h0M939.4 178.2h0M950.1 179.8h0M946.5 177.7h0M971.9 199.3h0M967.1 207.8h0M967.9 211.5h0M968 196.9h0M973.1 207.8h0M963.9 202.2h0M972.9 201.2h0M967 197.5h0M973 204.6h0M967.5 195.7h0M976.1 208.9h0M970.8 207.3h0M964.3 205.7h0M973.3 210.5h0M969.2 205.2h0M964.3 199.5h0M971 196.9h0M967.6 201.6h0M978.7 202.9h0M964.5 200h0M969 199.1h0M968 204.6h0M973.9 205.7h0M969.6 197h0M964.4 201.5h0M971.2 198h0M964.5 206.4h0M971.3 200.1h0M975.4 205.3h0M969 206.4h0M979 203.4h0M967.8 204.4h0M967.2 203.7h0M969.9 206.8h0M977.8 203.9h0M977.5 199.6h0M970.1 199.3h0M965.9 207.5h0M971.1 207.7h0M969.7 201.8h0M971.9 208.2h0M963 203.6h0M969.4 201.2h0M970.8 197h0M977.9 204.7h0M973.8 209h0M969.1 204h0M972.6 210.7h0M976.2 205.4h0M965.2 203.3h0M971.6 210.4h0M975.6 197.3h0M967.1 200.6h0M968.1 204.2h0M970.4 210.2h0M965.7 206.5h0M964.2 203.5h0M973.7 209.8h0M971.1 204.6h0M965.9 202h0M969.4 208.2h0M965.4 204.4h0M965.9 204.6h0M972.2 199.2h0M976.7 200.6h0M971.5 208.5h0M973.5 203.8h0M969.2 206.2h0M970.8 211h0M974.1 200.6h0M966.3 198.5h0M997.6 165.8h0M997.8 167.8h0M994 174.1h0M997.9 169.2h0M992.1 173.6h0M994.6 171h0M1001.4 166.8h0M991.6 168.8h0M992.2 172.8h0M996 164.6h0M993.4 162.5h0M1001.5 168.2h0M999.2 166.7h0M990.4 166.8h0M993.2 164.6h0M989.8 170.9h0M1003 168.9h0M993.7 171.3h0M990.1 170.5h0M993.4 175h0M989.6 167.2h0M997.8 164.1h0M997.2 172.6h0M1000.7 171.9h0M996.9 167.8h0M990.9 168.1h0M996.3 170.7h0M1002.1 170.4h0M996 175.6h0M996 165h0M996.6 164.8h0M996.6 170.7h0M993.4 168.1h0M993.8 169.9h0M988.7 172.3h0M1002.9 169.8h0M990.1 170.9h0M995.2 176.1h0M1002.5 171.8h0M1001.6 169.1h0M995.3 174h0M994.9 169.6h0M995.1 164.2h0M994.3 170.6h0M995 166.7h0M1005.7 174.9h0M991.7 169.9h0M995.8 175.7h0M991.4 172.7h0M998.4 162.6h0M993.8 168.6h0M999.5 166.9h0M1000.3 166.5h0M998.9 175.5h0M996.4 166.1h0M988.6 169.8h0M929 128.9h0M931.1 131.5h0M928.4 128.9h0M932.3 126.9h0M930 125.6h0M928 131.8h0M926.9 123.1h0M922.5 128.9h0M929.8 132.2h0M929.9 133.7h0M928.5 125h0M927.3 125.8h0M926.6 134.9h0M924 132.2h0M932.3 129.7h0M931.6 125h0M928.6 130.9h0M927.1 133h0M922.2 131h0M923.5 125.7h0M925.3 133.3h0M920.9 134.6h0M922.3 128.6h0M933.1 131.3h0M923.7 128.7h0M928 127.8h0M930.7 129.8h0M928.3 130.5h0M927.1 131.7h0M923.9 124.6h0M929.7 128.5h0M929.9 131.6h0M924.6 140.2h0M927.6 127.3h0M925.1 129.8h0M922.6 126h0M929.6 131.9h0M931.3 128.2h0M929.7 123.6h0M929.5 133.5h0M924.6 134.7h0M925.8 135.7h0M982.1 67.1h0M984.4 65.2h0M981.9 69.9h0M986.2 71.6h0M980.1 72.3h0M985.4 72.5h0M982.4 71h0M987.3 72.8h0M977.5 72h0M985.7 71.8h0M985.4 72.3h0M982.7 66.4h0M986 69.6h0M986.6 69.6h0M978.6 72.9h0M985.6 73.1h0M983 70.8h0M981.4 74.7h0M979.4 69.1h0M983.5 73.6h0M982.7 67.4h0M985.7 74.8h0M985.2 73.9h0M986.5 70.4h0M983 72h0M983.2 69.2h0M979.3 70h0M1012.1 155h0M1017.6 159h0M1015.1 160h0M1018.7 150.3h0M1018.2 153.5h0M1015.4 148.4h0M1016.5 149.9h0M1018.9 147h0M1018 149.7h0M1016.3 159.6h0M1012.1 152.3h0M1014.1 147.9h0M1016.6 151.9h0M1013.6 151.8h0M1022.3 150.7h0M1021 151.1h0M1014.8 150.1h0M1012.5 155.9h0M1011.6 154.4h0M1016.4 147.3h0M1011.9 159.4h0M1019 153.5h0M1028.6 145.2h0M1013.7 155.5h0M1016.8 150.7h0M1018.7 154h0M1017.4 154.6h0M1008.7 154.6h0M1016.7 161.3h0M1020.4 155.6h0M1023.5 156.2h0M1009.5 154.6h0M1017.1 149.8h0M1011.8 157.5h0M1016.8 152.1h0M1013.5 155h0M1023.4 154.3h0M1022.2 157.7h0M1026.9 162.2h0M1013.2 150.9h0M1010.5 153.6h0M1014.5 152.2h0M1014 153.3h0M1013.9 148h0M1013.7 158.2h0M1017.6 157.9h0M1014.7 153.7h0M1018.1 144.7h0M1017 148.5h0M1017.6 148.3h0M1017.2 158h0M1015.8 151h0M1016.2 159.6h0M1015.5 145.1h0M1018.1 151.6h0M1016.5 150.4h0M1017.5 154.6h0M1011.4 153.6h0M1012.5 160.5h0M1014.3 154.9h0M1019.5 159.3h0M1013.3 150.1h0M1013.2 150.2h0M976.3 160.2h0M973.9 162h0M973.8 164.1h0M976.2 166.5h0M972.2 161.1h0M981.6 162.6h0M972.1 161.6h0M976.2 166.4h0M980.9 175.4h0M971.1 164.2h0M974.7 158.6h0M974.2 162.3h0M977.6 166.1h0M972.5 170.9h0M971.2 163.1h0M974.8 172h0M971.7 164.7h0M975.2 162.8h0M983.9 169.7h0M980.7 159.2h0M981.7 166.8h0M972.9 158.9h0M982.2 174.7h0M970.4 164.9h0M976.3 169.6h0M980.4 167.9h0M977.2 171.6h0M970.8 167.7h0M981.4 171h0M975.7 162.2h0M971.4 165.4h0M970.8 160.7h0M979.9 162.8h0M969.1 164.6h0M974.6 167.1h0M983.7 173.2h0M979 170h0M976.6 159.6h0M981.9 161.5h0M974.6 160.1h0M976.6 170.3h0M977.1 168.7h0M981.9 169.9h0M975.8 162h0M973.3 160.4h0M973.2 171.9h0M975.1 158.2h0M976.7 171.7h0M981.2 159.6h0M973 164.6h0M973.4 164.1h0M969.1 165.6h0M983.5 167.4h0M969.4 168.1h0M969.8 168.8h0M976.9 168.8h0M973.1 173h0M969.7 166h0M977 160.3h0M921.8 104.6h0M899.8 121h0M901 116.2h0M900.9 106.7h0M922.4 102.5h0M902.9 113.8h0M905.6 112.5h0M913.8 94.6h0M893.6 119.4h0M905.4 97.4h0M896.8 115.8h0M907.8 129.2h0M895.9 130.7h0M911.9 106.8h0M921.7 111.3h0M901 98.2h0M898.8 113.8h0M899 110.4h0M909.3 125.1h0M892.2 111.2h0M906.7 130.7h0M913.7 104.4h0M899.6 102.5h0M900.6 118.7h0M893.7 120h0M923 104.1h0M913.6 107.7h0M910 106.1h0M911.9 96.9h0M910.3 93.9h0M902.1 127.8h0M891.7 119.3h0M915.8 95.2h0M894.9 113.5h0M909.4 128.2h0M902.8 120.3h0M900.6 146.6h0M902.2 149.2h0M907.2 143.5h0M904.9 143.2h0M899.9 144.1h0M904.5 153.6h0M896.1 150.3h0M900.8 144.8h0M896.1 148.8h0M903.5 148.9h0" stroke="#5046a8" stroke-width="1.35" stroke-linecap="round" fill="none"/>
<path d="M979 68.7h0M971.2 65.4h0M975.6 62.8h0M976.3 65.3h0M971.2 70.6h0M981.9 60.8h0M967.1 61.3h0M978.4 65.9h0M974 64.7h0M970.6 64.9h0M972.9 70.2h0M981.5 63.4h0M981.4 67.9h0M972.8 63h0M978.9 63.3h0M974.1 66.7h0M971.9 68.9h0M968.5 66.7h0M982.3 63.9h0M972.2 69.6h0M982.2 67.7h0M983.7 63.2h0M973.4 61.7h0M972.7 64.4h0M968.7 65.7h0M976 69.5h0M980.8 61.4h0M965.2 68.2h0M973.5 61.7h0M977.4 62.2h0M969.5 63.9h0M965.8 67.5h0M969.8 61.5h0M967.1 68.7h0M947.5 79.6h0M949.8 78.7h0M951.5 77.6h0M953.5 76.6h0M954.5 80.5h0M948.7 80.9h0M957 80.5h0M991.5 76.8h0M994.2 83.9h0M994.5 78.6h0M991.8 81h0M983.4 78h0M997 82h0M989.1 77.2h0M994.8 78.4h0M993.1 74.2h0M989.7 69.5h0M993.1 71.2h0M994.9 80h0M985.6 69h0M984.6 75.9h0M982.2 76.6h0M986.6 80.4h0M985.1 72.6h0M995.5 79.6h0M987.6 76h0M994.6 71.6h0M983.3 80.8h0M1000 76.8h0M992.2 82.3h0M989.5 83.5h0M994.8 74.7h0M990.6 80.2h0M991.5 82.8h0M984.4 83.4h0M983.1 83.6h0M984.5 83.8h0M988 82.7h0M997.4 76.9h0M987.8 81.5h0M998.7 83.3h0M988.5 75.9h0M982.9 81.4h0M989 84.9h0M995.1 73.2h0M992.3 84.5h0M992.9 84.9h0M985.6 76.7h0M993.5 76.3h0M992.4 79.6h0M995.6 86.5h0M992 74.7h0M992.2 82.9h0M986 76.1h0M1000.2 77.4h0M1017.2 80.9h0M1006.8 74.3h0M1003.7 78.3h0M1000.9 77.7h0M1014.4 89.1h0M1013.3 82.5h0M1017.3 81.8h0M1002.9 80.2h0M1006.1 89h0M1005 94.8h0M1016.4 84h0M1003.8 85.3h0M999.6 82.3h0M1006.1 91.4h0M1004.1 71h0M1017.9 71h0M1011.3 86.4h0M1001.5 82.9h0M1008.5 82.5h0M1006.7 79.6h0M1000.5 92.4h0M1011.5 92.3h0M1005.9 95h0M1003.9 92.4h0M1010.2 80.9h0M1009.2 80.8h0M1011.8 95.3h0M1010.5 86.8h0M1016.5 83.1h0M1017 81.2h0M996.9 85.4h0M1010.2 92.3h0M1005.5 81.3h0M1005.9 78.9h0M1001.3 87.6h0M1000.5 86.7h0M1017 82.6h0M1007.9 79.9h0M1000 80.2h0M1013.2 79.7h0M1000.7 91.4h0M1008.7 93.8h0M1013.2 78.4h0M1004.7 87.1h0M1026.9 97.3h0M1017.1 88.6h0M1018.5 86h0M1014.2 89.2h0M1006.4 85.1h0M1000.2 82.3h0M1017.9 80.7h0M1000.3 90.1h0M1012.4 86.1h0M1016.4 82.5h0M1008.7 77.2h0M1004.5 86.2h0M997.7 73.9h0M1006.5 89.3h0M996.9 84.6h0M943.2 96.7h0M948.4 105.4h0M949.3 100.4h0M950.6 93.9h0M940.3 104h0M941.7 91.8h0M950.7 97.1h0M943.2 93.9h0M945.1 101.5h0M950 93.7h0M954.1 89h0M945 106.8h0M949.5 107.9h0M944.1 107.8h0M939.6 93.4h0M945.5 100.7h0M941.1 105.8h0M942.1 97.8h0M940.9 93.9h0M945.4 100.7h0M946.1 100.2h0M939.4 106.1h0M948.9 109.6h0M944.2 93.6h0M941.7 102.5h0M945.2 108.6h0M946.5 105.1h0M939.1 97.4h0M943.5 108.5h0M938.4 103.9h0M940.6 107.1h0M942.5 102h0M951.5 105.5h0M947 93.8h0M938.6 96.1h0M954.7 103.7h0M944.5 96.1h0M941.4 93h0M932.9 98.8h0M947.3 107.7h0M948 96.3h0M940.7 103.1h0M929.6 100.9h0M952.6 98.4h0M953.2 99h0M943 107.3h0M964.8 105.2h0M967.7 90.4h0M964.9 88.2h0M976.9 98.2h0M974.8 108.2h0M973.3 90.3h0M969.1 101.4h0M980.9 106.2h0M972.7 110.9h0M980 98.3h0M975.8 107.1h0M972.9 96.9h0M974.1 91.5h0M966.4 82.7h0M967 109.3h0M973.7 102.2h0M967.1 101.4h0M972.8 96.3h0M976.3 101.8h0M972.1 100.8h0M972.5 106.5h0M977.3 96.9h0M976.2 95.7h0M970.4 104.6h0M974.2 110.5h0M972.2 98.1h0M975.2 106.3h0M975.6 91.3h0M964.4 88.7h0M976.6 92.5h0M972.1 104.7h0M974.7 101h0M978.5 96.2h0M974.6 90.1h0M971.9 104.4h0M969.9 97.7h0M972 109.2h0M970.1 109.6h0M962.8 102.1h0M968.6 105.5h0M979.8 97.5h0M973.4 93.5h0M964.9 93.4h0M978.1 97.3h0M974.4 90.9h0M972.2 105h0M968.3 95.6h0M969.1 97.5h0M966.4 97.7h0M974.2 109.4h0M973.3 107.3h0M974.5 98h0M980.4 98.2h0M966.6 92.9h0M971.2 103h0M968.4 108.3h0M967.9 90.3h0M994.2 130.2h0M997.4 114.6h0M1013 122.5h0M1008.9 113.8h0M1016.8 117.4h0M1009.5 121.7h0M998.7 132.7h0M993.9 112.5h0M1006.7 124.6h0M1011.8 123.6h0M1003.8 132.3h0M1009.6 118.1h0M1004.6 123h0M994.9 120.3h0M1001 111.6h0M992.5 124.9h0M1001.9 131.2h0M999.6 112.8h0M993.1 120.5h0M1007.1 112.3h0M1012.8 114.8h0M1004.6 117h0M995.6 119.2h0M993.6 112.6h0M988.9 122h0M1002.4 114.8h0M997.6 132.4h0M1004.3 112.8h0M998.1 120.3h0M1011.3 123.3h0M1004.5 116.6h0M989.9 125.3h0M1003.3 121.2h0M1011.4 118.4h0M994.5 123.3h0M992 121.7h0M1001.2 123.5h0M1008.4 108.5h0M1002.7 108.8h0M997.7 124.3h0M994.5 125.8h0M994 114.5h0M1002.6 132.4h0M1016.8 120.6h0M1003.8 123.1h0M1002.5 129.6h0M1001.7 112.9h0M993.9 120.6h0M1006.8 122.5h0M1001.4 129.6h0M1002.5 130.8h0M986.6 123.9h0M1000.5 116.3h0M1005.1 127.9h0M1007.7 114.8h0M995.2 122.3h0M1001.3 114.9h0M998.9 120.5h0M998.6 119.9h0M997.2 127.9h0M1003.6 133h0M1007.5 109.6h0M1013.6 112.4h0M1010.4 123.4h0M1006.3 111.9h0M1001.1 117.4h0M1002.8 126.8h0M991.4 131.3h0M994.1 122.3h0M1004.3 124.4h0M1003 112.9h0M998.6 122.6h0M1001.6 114h0M1002.8 120.7h0M1008.8 130.4h0M1005.8 123.8h0M1005.4 109.3h0M1003.2 127h0M1002.4 125h0M1008.9 130.9h0M1006.4 117.1h0M1014.4 128.1h0M1024 114h0M1006.6 132.2h0M995.4 112.6h0M997.8 120.1h0M1003.5 123.4h0M1013.4 123.2h0M1014.6 114h0M999 122h0M1014.1 115.8h0M1001.7 122.6h0M1004.2 115.6h0M1008 117.8h0M1011.8 113.7h0M995.1 116.3h0M1009.1 116.1h0M1001.6 127.2h0M990.4 125.5h0M1006.4 117.6h0M1007.7 127.7h0M999.1 118.9h0M1008.8 115.9h0M1007.9 121.9h0M1009.1 126h0M1002.4 120.6h0M1000.1 110.5h0M992.6 118.4h0M1002.4 120.9h0M991.1 113.9h0M1001.5 116.6h0M1004.9 115.3h0M990 124.2h0M998.9 113.7h0M995.9 115.3h0M1006 130.7h0M1011.7 118.4h0M1013.6 118.6h0M1011.9 123.8h0M1027.2 103.6h0M1022.6 109.7h0M1036.2 110.2h0M1036.8 113.1h0M1031.8 99.3h0M1033 116.9h0M1037.2 101.5h0M1029.6 115.4h0M1031.8 110.2h0M1041.7 98.5h0M1033.8 107.6h0M1036.7 106.5h0M1040.2 111.3h0M1040.1 112.5h0M1036.6 97.4h0M1037.9 108.7h0M1027.2 112.6h0M1044.7 108.6h0M1030.5 116.1h0M1022.8 109.1h0M1031.7 106.7h0M1036.9 106.9h0M1043.7 111.4h0M1045.4 106.7h0M1029.9 116.2h0M1031.9 99.2h0M1032.7 116.8h0M1037.1 102h0M1039.7 105.7h0M1031.9 109.1h0M1037.7 115.4h0M1033.7 101.8h0M1028.6 101.4h0M1032.4 115h0M1020.3 102.6h0M1032 98h0M1026.5 101.1h0M1026.3 100.4h0M1032.4 109.5h0M1041.6 108.7h0M1040.6 110.3h0M1040.8 108.6h0M1028.5 104.9h0M1037.2 109.6h0M1026.1 104.9h0M1030.4 116.5h0M1035.4 98.8h0M1033.7 102.5h0M1044.1 105.5h0M1034.7 107.2h0M1029.2 107.1h0M1028.5 90.1h0M1025.1 106.3h0M1037 98.1h0M1033 97.8h0M1030.3 96.9h0M1033.4 105.9h0M1039.8 112.4h0M1040.9 99.3h0M1042.1 109.3h0M1026.9 97h0M1016.4 91.5h0M1018.5 84.4h0M1032.4 88h0M1021.1 101h0M1026.4 92.4h0M1028.3 86.4h0M1023.3 87.2h0M1011.8 91.6h0M1017 92.5h0M1029 94.1h0M1014.9 98.5h0M1026.9 93.5h0M1015.1 96.2h0M1020.1 86.8h0M1014.7 96.4h0M1013.5 101.4h0M1028.8 87.6h0M1012.9 89.4h0M1022.4 86.9h0M949.6 136.4h0M939.1 123.6h0M939 124.5h0M935.5 139.8h0M939.4 135.6h0M941.5 124.8h0M938.9 128.7h0M931.7 131.9h0M942.4 126.2h0M942.9 134.3h0M936.2 135.5h0M949.2 132.9h0M956.3 147.9h0M939 126h0M948.6 140h0M930.9 137.1h0M936.6 116.1h0M935.1 138.7h0M935.5 123.2h0M929.5 133.3h0M942.7 121.2h0M940.7 135h0M936.2 131.6h0M935.8 135.2h0M948.1 124.3h0M937.6 122.5h0M948.5 135.7h0M934.5 125.6h0M943.2 127.2h0M954.4 130.8h0M944.5 129.4h0M937 139h0M937.5 127.7h0M936.7 130.3h0M950.5 135.2h0M951.2 127.5h0M937.1 125.4h0M945.2 136h0M942.4 139.8h0M937.1 137.1h0M944.9 123.6h0M941.9 129.6h0M924.1 137.2h0M927.4 128.4h0M927.3 129.6h0M942.7 125.3h0M930.1 134.1h0M933.6 136.2h0M939.3 124.1h0M927.8 127.1h0M937.2 131.5h0M951.1 133.8h0M943.7 130.4h0M931.2 135.7h0M938.9 131.1h0M939.1 124.6h0M929.1 125.7h0M946.7 137.9h0M934.6 129.9h0M944.8 123.4h0M939.6 128.4h0M967.1 123h0M981.7 128.8h0M979.8 132.7h0M954.4 126.8h0M953.5 127.2h0M968.7 133.2h0M968 138.6h0M967.8 123.1h0M963.5 134.1h0M975.6 119h0M975.6 137.3h0M961.7 134.5h0M958.1 133.9h0M957.5 125.7h0M958.6 134.1h0M979.3 133.6h0M962.7 129.1h0M964.7 125.6h0M962.6 134.6h0M958 130.5h0M976.9 125.3h0M953.9 131.8h0M955.2 129.6h0M968.1 124.3h0M958.9 123.9h0M962.5 135.6h0M970.9 135h0M962.9 127h0M967 125.6h0M966.7 124.1h0M968.9 124.5h0M965.5 134.8h0M951.9 130.3h0M959.2 130.8h0M977.5 136.3h0M972.7 138h0M958.7 132.1h0M971.1 128.3h0M962.7 126.6h0M970.5 126h0M973.4 128.8h0M980.2 135.4h0M969.7 128.7h0M968.5 139.3h0M923.9 146h0M920.6 141.7h0M923.4 146.4h0M926.4 142.9h0M924.2 141.5h0M920 146.5h0M924.1 140.7h0M924.9 142.9h0M922.6 139.1h0M937.9 155.2h0M941 169.4h0M929.9 151.3h0M952 158h0M938.6 174.1h0M948.7 153.4h0M937.9 163.5h0M935.7 171h0M947.9 159.3h0M951.5 167h0M942 147.4h0M947.1 169.2h0M938.1 148.1h0M941.2 172.9h0M938.2 182.9h0M930.9 149.6h0M926.6 152h0M941.2 152.6h0M941.5 172.2h0M948.1 170.6h0M947.8 160.7h0M941.2 152.8h0M943.9 170.7h0M944 172h0M944.4 157.1h0M936.7 153.1h0M941.7 166.2h0M943.2 167.6h0M928.3 155.3h0M935.8 157.9h0M934.5 154h0M938.9 160.7h0M943.9 162.9h0M934.3 145.5h0M939.4 154h0M938.6 156.7h0M942.4 169h0M930 148.6h0M947.3 161.8h0M947.5 173.4h0M934.7 172.4h0M933.7 151.9h0M928.6 149.7h0M938.2 147.9h0M953.5 170.7h0M940.3 167.6h0M935.8 164.3h0M946 158.1h0M939.9 148.3h0M936.8 153.4h0M950.4 165.2h0M937.2 171.1h0M931.9 167.6h0M932.3 162h0M946.2 167h0M947.6 170.1h0M947.7 162.8h0M929.5 150.1h0M936.7 161.5h0M932.1 143.4h0M929.9 171.1h0M942.8 160h0M935.3 169h0M927.1 160h0M941.1 172.8h0M936.1 164.1h0M927.6 168.3h0M943.5 153.8h0M937.7 173.7h0M933.9 154.7h0M947.8 165.6h0M941.9 153.7h0M933.4 164.5h0M913.3 148.2h0M929.7 157.5h0M933.6 148.8h0M944.9 165.9h0M951.5 161.5h0M937.8 174.2h0M936.8 163.6h0M949 177.8h0M942 162.2h0M918.6 136.8h0M936.7 156.1h0M947.3 158.1h0M947.1 165.7h0M934.7 155.7h0M926.9 162.7h0M922.8 163.3h0M943.9 162.4h0M966.4 146.6h0M962.8 150.5h0M967.4 145.1h0M967.2 153.6h0M961 152.5h0M964.9 165.9h0M954 154.2h0M945.8 163.1h0M967.6 161.6h0M962.2 154.6h0M950.7 150.9h0M953.8 155.5h0M957.6 162.7h0M967.6 150h0M956.5 148.3h0M958.5 155.3h0M963.2 151.9h0M958.6 156.1h0M950.2 151.9h0M956.8 152h0M964.2 157.1h0M968 155.3h0M967.4 162.9h0M958.1 154h0M952.8 151.2h0M978.5 144.1h0M963.4 161h0M951.9 147.8h0M946.3 148.3h0M959 144.7h0M959.3 162.8h0M960 147.6h0M969.6 153h0M952.9 159.2h0M967 158.5h0M966.8 148.2h0M951 154.2h0M961 149.9h0M968.9 156.9h0M957.8 153h0M963.7 151.5h0M953.1 148.1h0M952 148.9h0M960.8 160.2h0M958.8 155h0M970 153.1h0M969.3 153.4h0M993.6 152.3h0M995.1 163h0M994.7 149.2h0M994.3 145.9h0M999.6 149.9h0M986.8 149.6h0M996.7 149.3h0M999.3 152.6h0M988.6 146.9h0M993.4 159.4h0M988.8 160.4h0M993 143.6h0M985.5 149.1h0M994.4 160.3h0M997.8 155.6h0M991.8 158.2h0M981.9 154.8h0M984.8 150h0M992.1 151.1h0M991.8 144.1h0M981.9 152.9h0M986.6 158.8h0M998 151.4h0M993.1 154.1h0M999 149.7h0M986 150.7h0M984.8 165.7h0M992 159.7h0M993.7 158.8h0M986.6 148.6h0M989.6 152.5h0M989 159.4h0M987.5 154.7h0M987.1 151.3h0M988.2 155.1h0M985.9 151h0M998.3 156.1h0M986.3 149h0M981.8 156.7h0M986 160.5h0M993 152.2h0M991.2 149.1h0M997.4 153.8h0M992.1 145.1h0M1019.2 155.5h0M1032.1 143.2h0M1015.3 151.5h0M1034.6 151.9h0M1036.6 146h0M1026.8 157h0M1027.6 155.5h0M1018.1 152.2h0M1014.4 162.4h0M1032 157.8h0M1031.7 164.5h0M1033.1 162h0M1035.5 150.7h0M1031.4 142.4h0M1023.3 150.4h0M1037.1 156.8h0M1020.2 143.3h0M1017.3 155.9h0M1023.9 160.8h0M1028.4 159.5h0M1038.2 152.8h0M1032.2 143.3h0M1019.1 144.6h0M1022.8 156.6h0M1024.1 161.1h0M1021.1 154.5h0M1026.5 161.6h0M1023.5 148.8h0M1031.6 142.2h0M1034.2 154.3h0M1016.1 175h0M1029.5 150.3h0M1031 152.8h0M1034.4 149.6h0M1025.4 155.7h0M1038 151.7h0M1033.1 151.1h0M1029.8 156.9h0M1032.6 143.3h0M1031.9 157.6h0M1018.4 159.8h0M1022.8 156.8h0M1037.5 154.7h0M1028.8 157.9h0M1036.6 149.3h0M1028.7 161.4h0M1044 155.8h0M1019.5 161.1h0M1029.6 158.1h0M1020.2 157.8h0M1008.6 158h0M1044.9 169.7h0M1027.1 150.8h0M1030.3 163.8h0M1034.9 162.6h0M1035.5 153.7h0M1026.4 152.5h0M1021.8 146.8h0M1031 145.6h0M1033.4 148.3h0M1026.2 145h0M1035.8 156.3h0M1022.2 149.5h0M1030.5 159.5h0M1033.3 152.5h0M1029.5 152.8h0M1019 152.7h0M1018.2 150.6h0M1017.6 156.6h0M1029.7 149.4h0M1030.1 161h0M1009.9 151.4h0M1022.1 147.8h0M1034.5 146.3h0M1027 144.4h0M1018.2 144.5h0M1032.4 153.1h0M1017.9 149.6h0M1028.8 164.3h0M1028.7 144.3h0M1027.2 159.1h0M1025.9 141.4h0M1011.1 172.9h0M1002 176h0M1017.8 173.8h0M1013.5 184.6h0M1021.9 169.1h0M1009.6 176.4h0M1019.1 180.5h0M1003.4 171h0M1005.5 169.8h0M1016.2 169.6h0M1005.1 177.3h0M1011.1 163.6h0M1015.3 181.4h0M1016.8 181.7h0M1012.4 165.2h0M1013.1 167.9h0M1005.1 165.4h0M1005.1 180.6h0M1005.1 161.2h0M1007.4 166.4h0M1018.3 173.7h0M1002.3 191.8h0M1003.9 165.3h0M1008 184.5h0M1015.6 172h0M1010.2 166.8h0M1009.7 165.7h0M1021.4 168.1h0M1015.2 184.8h0M1002.3 167.3h0M1002.3 173.5h0M1014.5 184.1h0M1005.2 181h0M1009.2 167.8h0M1020.6 171.4h0M1003.5 171.2h0M1001.5 173.4h0M1018.1 167.7h0M1001.6 181.4h0M1003 167.1h0M1011 181.9h0M1015.7 165.1h0M1002.8 175.7h0M1015.3 168.4h0M1005.2 177.4h0M1016.7 174.4h0M1006.3 166.1h0M1009 172.5h0M1008 182.9h0M1001.3 185.6h0M1004.8 172.8h0M1017.4 182.8h0M1006.9 184.3h0M1026.3 192.4h0M1016.5 178.4h0M1000.6 178.7h0M1015.4 170.7h0M1001.5 172.6h0M1016.3 177.2h0M1013.4 178.7h0M1009.7 182.2h0M1004.3 173.9h0M1017.2 182.7h0M1008 177.7h0M1019.1 176.1h0M1008.9 169.6h0M1012.1 171.5h0M1020.7 175.2h0M1008.9 166h0M1014 178.7h0M1000.5 168.8h0M1000 174.9h0M980.1 174h0M993.6 179.9h0M986.3 174.4h0M995.7 183.4h0M996.1 184h0M994.6 173.5h0M977.6 177.7h0M982 179.7h0M975.7 185.7h0M984.7 187.2h0M991.1 187.8h0M996.4 189.2h0M986.4 175.3h0M980.4 186.1h0M989.2 187h0M1005.1 191.2h0M980.6 191.7h0M985.7 166.7h0M997.8 185.8h0M995.6 186.9h0M992.3 180.5h0M980.4 177.4h0M986.3 179.3h0M998.1 180.6h0M967 186.5h0M988.9 181.8h0M989.2 175.2h0M980.9 176.4h0M992.5 171.4h0M997.7 180h0M980.6 181.3h0M984.6 175.7h0M974.8 182.2h0M985.1 177h0M990.3 179.7h0M991.9 184.8h0M984.2 174.2h0M995.7 185.3h0M984.7 181.3h0M997.2 174.1h0M981.9 185.1h0M976.7 197.3h0M989.1 189.3h0M992.2 188.1h0M989.8 177.7h0M987.3 184.7h0M990.8 177.5h0M982.8 187.3h0M985.8 177.4h0M992.2 187.4h0M1011.1 187.4h0M977.5 181.4h0M993.4 177.9h0M995.3 181.3h0M999 178.3h0M977.4 174.9h0M986.8 187.6h0M979.6 175.9h0M979.6 178.1h0M984.4 172h0M990.1 177.8h0M985.4 188.6h0M988.1 187h0M987.4 180.8h0M981.5 181.4h0M989.4 182.2h0M996.2 175.8h0M995 178.8h0M990.2 173.8h0M985.9 170.8h0M981.4 189.4h0M976.5 183h0M988.2 190.5h0M971.2 185h0M985.1 176.6h0M986 182.7h0M979.7 185.9h0M978.7 182.9h0M976.7 190.4h0M976.2 187.3h0M951.9 179h0M970.6 192h0M958.3 191.6h0M951.3 183.4h0M964.2 197.2h0M951.7 195.8h0M971.2 199.3h0M968.9 174.9h0M953.9 183.4h0M967.3 202.8h0M960.4 186.9h0M972.3 175.4h0M960.8 188.3h0M948 180.9h0M963.7 178.1h0M961.8 176.9h0M966.7 190.5h0M961.4 203.3h0M950.6 176.2h0M948.8 193.6h0M951.3 176.9h0M959.8 188.9h0M961.7 203.1h0M969.4 201.4h0M947.9 186.8h0M963 175.1h0M954.4 188.1h0M953.4 188h0M956.7 181.8h0M952.8 200.5h0M957.6 194.1h0M950.1 177.4h0M966.8 176.3h0M964 195.3h0M963.6 180.9h0M957.9 182.3h0M964.6 180.7h0M968.3 188h0M974.2 189.1h0M947.8 188.3h0M967.6 178h0M965 191.4h0M950 183.9h0M958.9 202.7h0M962.6 176h0M966.3 182.8h0M953.9 184.2h0M971.2 196.5h0M960.9 192.8h0M951.7 195.3h0M966.1 183h0M949.6 192.1h0M960.5 189.4h0M965.5 175.9h0M950.2 183.8h0M975 175.8h0M965.4 197.8h0M968.8 190.7h0M947.7 185.7h0M966.5 180.6h0M960.8 200.7h0M971.4 197h0M948.5 192.2h0M971.3 176.9h0M954.8 195.6h0M976.3 189.3h0M950.4 176.6h0M960.1 176.2h0M964.4 190.3h0M975.7 191.6h0M958.3 174.7h0M965.3 173.7h0M961.9 202.7h0M954.8 175.1h0M968.9 195.7h0M963.1 203.5h0M966.5 190.5h0M959.7 173.7h0M953.7 188.1h0M960.5 173.1h0M961.9 181.4h0M976.3 186.9h0M960.9 200.6h0M956.3 196.8h0M969.9 200.6h0M954.5 185.1h0M973 180.6h0M973 180.2h0M954.2 191.9h0M966.5 181.9h0M948.5 185.6h0M959.8 180.2h0M962.7 202.1h0M972.8 187h0M954.9 185.1h0M949.5 187h0M960.4 196.1h0M973.8 191.5h0M947.6 182.2h0M959.6 189h0M962.2 194.7h0M971.7 184.7h0M966.9 179.2h0M961 193.7h0M965.1 192.5h0M971.7 184h0M966.8 200.3h0M953.1 186.5h0M955.5 194.4h0M957.5 183.6h0M951 179.3h0M955 219.1h0M954 207h0M951.1 221.6h0M963.3 220.5h0M962 210.5h0M960.2 208.2h0M952.1 213h0M963.4 216.5h0M944.5 216.5h0M961.4 213.8h0M956.7 215.1h0M965.1 215.4h0M954.7 207.5h0M950.3 209.2h0M943.4 217.7h0M956.9 209.8h0M954.9 221.8h0M957.3 218.2h0M951.3 215.3h0M949 223.1h0M957.4 215.5h0M954.7 219.6h0M970.5 207.7h0M956.3 215.4h0M952.7 210.6h0M943.9 209.8h0M958.6 211.1h0M943.6 215.5h0M947.2 209h0M954.8 210h0M954.7 215.1h0M958.3 215.7h0M955.5 204.4h0M954.8 212.6h0M963.5 213.5h0M945.2 219.3h0M947.1 217.3h0M945.8 217.6h0M950.4 221.9h0M950.1 215.9h0M945.9 217h0M960.5 217.9h0M956 211.6h0M961.4 210.4h0M956.2 214.7h0M954.8 206.4h0M959.5 210.2h0M946.2 215.3h0M958.7 214.2h0M959.8 210h0M960.8 208h0M948.9 211h0M948.8 214.2h0M950.3 217.4h0M962.8 214.3h0M964.8 213.4h0M952.4 207.9h0M950.8 220.4h0M963.6 213h0M955.4 211.8h0M941.6 210.5h0M954.4 207.3h0M951.4 207.4h0M987.4 204h0M977.3 211.2h0M991 210.3h0M987.2 215h0M978.6 202.4h0M985 213.5h0M985.7 205.2h0M978.3 212.7h0M990.8 210.3h0M981.8 208.4h0M987.4 211.3h0M977 208.5h0M984.7 205.6h0M988.1 212.9h0M978.7 212.4h0M990.3 199.4h0M986 208.6h0M990.9 212.4h0M980.7 210h0M979.5 207.3h0M987.4 206.8h0M988.3 206.2h0M989.3 208h0M969.3 208.9h0M980.5 214.3h0M980.1 216.2h0M992.5 201.7h0M977.3 210.9h0M976 211.1h0M989.5 219.8h0M980.1 214h0M985.2 216.7h0M983.3 217.3h0M984.9 214.3h0M980.4 212.4h0M979.2 205.5h0M980.2 214.2h0M983.7 215.7h0M982.4 202.5h0M993.9 203.5h0M997.8 188.1h0M1008.7 195.3h0M1011.1 196h0M1009.6 199.3h0M1007.4 203.7h0M997.4 193.3h0M1002.1 197.1h0M1009.5 193.4h0M1000.4 201.8h0M998.1 202.9h0M1002.6 192h0M1004 188.4h0M988.3 194h0M1004.1 189.8h0M1000.4 193.4h0M1001.3 205.9h0M1007.9 200.5h0M1002.4 192.1h0M1000 193.2h0M996.9 201.3h0M998.9 198.8h0M998.7 201.5h0M1007.7 196.4h0M998.8 188.9h0M1010.5 195.3h0M1007.4 205.3h0M996.7 202.1h0M1004.4 196.6h0M999 188h0M1008.8 199.4h0M998.5 191.1h0M1003.1 193.2h0M1002.3 198h0M998.3 195.8h0M993.1 191.3h0M994.7 200.3h0M999.5 197.4h0M995.8 187h0M1002.8 191.7h0M1006.8 198.3h0M1005.1 188.6h0M1003 199h0M999.1 200.6h0M1008.5 195.2h0M993.6 201.3h0M999.2 185.5h0M1010.4 200.9h0M998.1 193.9h0M1001.3 190.7h0M996.3 195.4h0M1007 202.9h0M994.6 192h0M1007.3 205.7h0M1027.2 136.6h0M1014.8 135.5h0M1021 141.1h0M1017.6 137h0M1011.8 133.5h0M1017.8 139.1h0M1026.2 139.8h0M1013 137h0M1010.4 140.4h0M1021.7 131.5h0M1017.4 137h0M1028.6 134.2h0M1019 138.2h0M1021.6 140.7h0M1024.4 132h0M950.3 114.4h0M959.6 113.2h0M961.7 115.4h0M958.6 114.9h0M958.7 117.9h0M951.7 113.7h0M959.3 112.2h0M954.2 114.7h0M955.6 112.1h0M958.2 110.4h0M958.1 111.7h0M962.2 112.2h0M949.7 106h0M954 117.1h0M957.4 119.4h0M958.4 118.5h0M961.7 111.3h0M960.6 118.3h0M993.6 121.3h0M988 115.5h0M982.2 115.7h0M987.8 114.5h0M979.2 115.8h0M982.2 117.6h0M986.7 113.2h0M978.9 110.7h0M989.3 119h0M989.1 113.6h0M988.8 110.3h0M990.6 117.1h0M981.3 119.4h0M978.3 115.7h0M980.6 107.8h0M979.5 148.4h0M981.5 145.4h0M976.8 140.5h0M974.7 147.1h0M984 149.4h0M973.4 133.1h0M974.4 153.5h0M974.1 146.5h0M977.7 139.4h0M970.1 143.4h0M972.4 136.3h0M978.6 138.6h0M969.5 141.7h0M981.9 143.7h0M943.4 186.8h0M945.6 169.3h0M948.2 177.9h0M945.6 183.3h0M948.4 169.1h0M946.6 176.4h0M951.3 179.6h0M943.7 178.5h0M951.4 177h0M947.6 173.6h0M950.2 170.5h0M952 176.6h0M944.5 175h0M943.6 169.6h0M945.6 177.2h0M950.9 178.9h0M942 181.3h0M950.7 166.3h0M948 175.2h0M963.9 199.7h0M976.8 201.3h0M973.3 204.5h0M974.2 199.5h0M964.5 208.5h0M971.3 198.1h0M976.8 198.3h0M970.9 202.1h0M966.3 204h0M973.4 210.3h0M964 201.5h0M969.9 205.9h0M967.3 203.5h0M972.6 209.2h0M971 199.2h0M965.9 199.4h0M978.3 206.3h0M965.1 207.2h0M972.5 203h0M972.4 205h0M965.8 201.3h0M971.2 198.2h0M995.2 169.7h0M992.1 171h0M989.9 166.2h0M998.6 166h0M999.8 170.8h0M996.5 176.8h0M999.4 164.7h0M990.6 166.5h0M995.2 164.4h0M1000 174.7h0M996.7 172.6h0M996.4 174.7h0M991.9 166.3h0M990.7 164h0M992.5 175h0M924.2 127h0M925.2 129.5h0M922.3 130.4h0M924.4 134.1h0M924.7 132.3h0M925.4 130.9h0M924.6 129.6h0M927.3 131.4h0M922.3 132.5h0M930.3 125.9h0M928.6 126.2h0M984.9 67.3h0M979.3 77.3h0M987.6 64.3h0M980.5 72.2h0M1017.6 156.8h0M1015 150.7h0M1011.9 158.8h0M1014.7 149.9h0M1022.3 150.1h0M1017.2 147h0M1012.3 153.9h0M1014.4 148.9h0M971.3 168.7h0M975.6 165.4h0M980.8 168.7h0M969.9 162.2h0M981.8 170h0M973.3 161.8h0M974.5 167.7h0M974.9 169.8h0M977.4 162.4h0M974.9 170.1h0M982.1 166.3h0M977.2 164.7h0M981.7 169.1h0M975.6 170.7h0M972.2 162.7h0M974.6 160.8h0M975.6 161h0M974.6 158.8h0M978.9 159.3h0" stroke="#6c62be" stroke-width="1.35" stroke-linecap="round" fill="none"/>
<path d="M967.3 64.3h0M979.3 65.1h0M964.8 62.4h0M971.5 65.1h0M955.4 75.2h0M952 82.1h0M951.6 76.1h0M991 81.3h0M992.1 72.3h0M983.9 80.3h0M985 71.6h0M983.5 79.7h0M991.9 80.3h0M991.8 81.9h0M1000.7 81.1h0M1016.2 86.1h0M1012.2 82.5h0M1009.3 85.6h0M1014.2 81.6h0M1002.6 91h0M1007.3 81.9h0M1011.1 81.3h0M1007.1 79.3h0M1006.1 87.6h0M1005.1 84.5h0M1018.8 88.3h0M1010 88h0M1012.5 86.9h0M944.2 102.7h0M953.5 101.8h0M938.4 101.9h0M982.2 89.8h0M973.1 94.8h0M964.2 97.9h0M976.5 103.7h0M1004.6 119.2h0M1009 125.2h0M998.7 116.7h0M995.6 116.5h0M1003.5 124h0M992.8 115h0M1004.4 116.9h0M1003.8 132.5h0M998.7 114.7h0M1013.2 124.1h0M990.6 118.6h0M979.9 133.4h0M993 118.4h0M1010.8 115.2h0M1007.8 132.6h0M1002.6 122.2h0M1007.1 117.3h0M1013.7 116.1h0M1039.3 110.3h0M1043.5 112.2h0M1038.2 99h0M1035.5 100.2h0M1023.4 104.8h0M1026.8 110.6h0M1043.8 101.2h0M1032.2 98.8h0M1035.8 103.8h0M1036 108.3h0M1039 104.8h0M1031.8 113.2h0M1032.1 105.5h0M1024.6 112.1h0M1022.9 97.3h0M1040.8 107.7h0M1034.8 104.4h0M1034.5 100.3h0M1041.4 99h0M1039.2 116.5h0M1044.5 110.6h0M1024.2 108.9h0M1029.4 102h0M1026.4 114.8h0M1039.2 113.2h0M1039.1 108.3h0M1043.7 105.6h0M1025.7 113.2h0M1036.3 117.4h0M1027.2 105h0M1022.8 103.7h0M1035.7 95.9h0M1029.6 106.8h0M1028 97.3h0M1043.4 112.5h0M1033.9 96.9h0M1022.5 101h0M1024.9 96.8h0M1024.4 101.6h0M1023.9 87.8h0M1024.7 89.9h0M973.5 129.8h0M964.3 135h0M981.3 128.5h0M972.9 132.3h0M956.9 127h0M961.6 122.2h0M923.7 144.7h0M933.9 162.8h0M926.8 161.3h0M953.2 159.9h0M969.1 152.9h0M997.6 150.3h0M983.8 158.4h0M1000.3 156.2h0M982.4 149.8h0M989.9 153.2h0M989.6 158.5h0M1018.2 153.5h0M1032.2 162.7h0M1024.7 153.5h0M1028.4 158.2h0M1032.4 157.3h0M1023.3 177.4h0M982 173.1h0M983.9 172.8h0M983.8 173.4h0M983.8 178.8h0M985.3 175.4h0M987.9 179.2h0M996.2 185.3h0M995.9 176h0M955.5 174.2h0M959.6 202.2h0M954.5 189.8h0M951.4 195.1h0M947.7 184.5h0M953.6 185.3h0M956.6 200.3h0M950.1 215.6h0M952 222.7h0M959.5 222.4h0M961.8 217.9h0M952 211.5h0M981.7 208.4h0M980.9 214.7h0M983.2 205.4h0M993.1 194.6h0M994.4 191.3h0M996.6 199.9h0M997.2 204h0M1006.3 195.9h0M995.2 197.9h0M1008.8 200.3h0M1005.9 137.2h0M1024.6 132h0M1009.1 138.8h0M953.4 112.2h0M977.6 115.1h0M978 136.2h0M948.9 179.1h0M956.1 168.6h0M975.2 202.1h0M973.2 205.5h0M930 127.4h0M976.8 72.6h0M985.4 167.1h0M915.7 128.7h0M902.2 116.8h0M924.7 110.4h0M908.8 98.3h0M921.7 118.3h0M911.8 104.5h0M919.2 119.7h0M923.9 110.1h0M921.1 103.2h0M908.3 104h0M917.1 100.5h0M924.6 100.1h0M915.4 101.2h0M921.5 101.1h0M922.9 113.7h0M911.9 99.2h0M904.4 112.4h0M910.5 115.2h0M923.5 100.4h0M903.5 107.2h0M897.5 114.7h0M917.6 104.3h0M924.6 103.6h0M917.9 125.7h0M907.3 98.1h0M923.9 116.1h0M917.8 108.8h0M904.1 96.8h0M917.2 119.2h0M905.1 95.9h0M920.3 118.6h0M920 115.3h0M920.7 101.7h0M924.2 115.1h0M910.9 108.5h0M915.2 99.9h0M910.6 112h0M916 100.2h0M917.7 108h0M918.4 96.3h0M925.2 107.5h0M909.5 101.3h0M902.2 105h0M923.2 110.5h0M916 127.1h0M909.1 98.1h0M925.5 103.9h0M915.1 103.6h0M905.9 118.7h0M905.5 117.2h0M910.9 101.7h0M920.5 116.5h0M917.6 120.2h0M904 98.6h0M922.6 117.5h0M919.5 94.8h0M919.8 94.6h0M912.3 96.4h0M896.6 110.2h0M912.3 94.1h0M922 117.5h0M907.3 120.4h0M910.6 132.2h0M918.4 123.7h0M906.3 100.3h0M922.7 107.9h0M922 107.2h0M925.4 104.9h0M898.3 117.5h0M901 105.9h0M922.2 100.5h0M900.9 110.2h0M925.3 107.1h0M904.8 113.2h0M923 99.8h0M924.8 101.9h0M923.4 116.7h0M921.8 110.1h0M923.1 116.7h0M921.8 120.7h0M905.5 118.9h0M919.8 111.5h0M904.9 109.7h0M919.2 117.6h0M919.4 114h0M916.6 107.9h0M920 103.5h0M925.1 100.4h0M914.9 93h0M911.3 103.2h0M911 111.9h0M910.1 95.2h0M904.9 96.6h0M925.1 100.4h0M910 100.8h0M916.5 106.7h0M917 113h0M910.4 96.1h0M924.8 100.5h0M915.3 98.2h0M918.5 93.8h0M923.4 103.2h0M905.7 111.2h0M917 119.4h0M904.6 100.3h0M912.3 93.7h0M913.6 101.5h0M897.1 101.7h0M921.5 106.9h0M905.9 109h0M920.8 106.1h0M896.8 152.6h0M904.1 154.1h0M901.2 153.9h0M897.3 150.5h0M909.2 149.3h0M900.5 151h0M906.4 142.7h0M903.1 142.5h0M900.2 142.5h0M897.4 154.5h0M900.4 142.8h0M908.3 154.2h0M903.9 152.8h0M899.1 148.5h0M901.1 149.1h0M906.8 153.4h0M904.7 142.9h0M908.4 148.8h0M901.7 150.7h0M910.3 150.4h0M906.3 146.5h0M897.4 147.6h0M901 148.8h0M898.8 156.4h0M909.1 151.7h0M906.5 148.7h0M897.9 147.6h0M899.5 154.4h0M905.9 155h0M905 151.7h0" stroke="#e6c36e" stroke-width="1.35" stroke-linecap="round" fill="none"/>
<path d="M978.6 71.9h0M969.4 65.7h0M990.3 75.3h0M990.8 79.5h0M1001.2 77.2h0M996.9 89.1h0M948.9 107.8h0M975 94.4h0M970.6 106.8h0M972.7 88.9h0M1007.9 112.4h0M1010.2 110.4h0M1008.7 114.6h0M1009.7 117.5h0M1015.7 118.3h0M995.5 112.9h0M1019.8 109.6h0M1036.4 109.1h0M1039.8 108.3h0M1031.5 104.4h0M1040.6 98.3h0M1030.9 104.7h0M1037 105.1h0M1035 98.9h0M1038.8 99.7h0M1042.5 100.6h0M1037.3 109.5h0M1032.7 105.1h0M1026.9 115.1h0M1021.8 119.3h0M1041.4 110.2h0M1029.1 106h0M1028.4 106.5h0M1040 106.9h0M1027.9 92.8h0M1023.2 99.8h0M929.6 136.2h0M934.8 134h0M946.6 129.9h0M955.4 131.7h0M940.7 173.4h0M966.3 157.8h0M994.2 145h0M997.6 158.9h0M1036.7 149.8h0M1017.4 152.3h0M1027.9 159.7h0M1013.6 180.4h0M1006.4 177.5h0M1015.1 196h0M1011.6 163.4h0M981.7 183.5h0M962.2 191.2h0M963.4 173.2h0M974 197.5h0M969.1 190.7h0M951.6 213.6h0M994.7 203.5h0M999.1 203.9h0M1024 140.2h0M980 148.5h0M952.2 176.7h0M1001.7 166h0M1016.6 157.6h0M973.9 166.1h0" stroke="#cf3a34" stroke-width="1.35" stroke-linecap="round" fill="none"/>
<path d="M955.4 80.7h0M950 80.4h0M951.2 79.9h0M949.5 81.9h0M992.8 84.8h0M987.3 80.8h0M989.9 80h0M997.4 81.8h0M1001.5 92.1h0M1005.9 92.9h0M1017.8 84.7h0M1012.2 75.3h0M1012.8 91.8h0M1007.9 94h0M970 110.5h0M978.9 93.8h0M974.9 91.5h0M993.1 124.9h0M1013.8 129.3h0M1016.4 116.7h0M993.3 119.6h0M1003.3 113.3h0M1007.8 120.2h0M1002.5 105.1h0M1036.6 103.6h0M1025.1 106.7h0M1026.3 110.4h0M1043.8 104.3h0M1037.8 106.9h0M1032.1 117h0M1023.8 108.7h0M1034.3 112.8h0M1030.7 104.9h0M1031.6 99.9h0M1032.3 117.5h0M1023.3 103.8h0M1036.6 117.4h0M1043.5 107.5h0M1031.5 102.7h0M1038.2 104.7h0M1035.6 96.6h0M1034.8 105.4h0M1036.1 102.2h0M1029.6 100.1h0M1032.8 114.6h0M1044 108.8h0M1033 108.2h0M1032.3 98.4h0M1036.2 114.1h0M1044.5 104.3h0M1016.8 86.9h0M1018 101.1h0M934.5 138.2h0M942.2 128.9h0M960 131.5h0M920.3 142.9h0M921.5 143.3h0M933.8 172.8h0M932 165.4h0M971.7 160.1h0M961.2 152.5h0M983.9 150.2h0M989.5 154.7h0M986 150.2h0M1022.4 149h0M1018.7 149.6h0M1027.8 142.9h0M1036 154.9h0M1033.9 138.1h0M1002.7 173.9h0M1013.9 173.9h0M975 182.3h0M980.2 181h0M977.2 182.5h0M978 190h0M951 197.9h0M969 181.3h0M955.3 175.6h0M965.8 194.7h0M954.2 215.2h0M969.6 142.9h0M973.4 206.3h0M924.3 131.6h0M916.3 94.7h0M906.9 130.3h0M895.3 115.4h0M894.9 107.3h0M925.3 106.4h0M901.8 102h0M895.4 112.3h0M912 106.7h0M911.2 112.4h0M918.5 119.6h0M914.8 122.1h0M918 102.6h0M899.5 105.8h0M918.8 124.9h0M901.7 108h0M900.3 121.3h0M906.1 118.2h0M913.8 111.6h0M911.7 117.5h0M924.6 109.5h0M916.7 116.6h0M907.5 121.9h0M921.6 118.4h0M908.1 130.9h0M900.8 102.7h0M906.6 122h0M904.3 112.8h0M899 116.5h0M904.4 98h0M912.5 130.4h0M897.3 105.2h0M913 107.7h0M892.7 115.1h0M899.8 99.4h0M900.7 110.2h0M921.6 98.6h0M905.2 94.4h0M913.7 98.9h0M908.4 114.6h0M916.5 92.7h0M921.2 114.1h0M912.2 108h0M904.8 96.1h0M909 117h0M901 114.8h0M916.3 93h0M902 101.7h0M916.3 111.5h0M926 109.1h0M912.5 127.7h0M898.2 123.3h0M914.4 100.1h0M912.4 126.6h0M910.3 93h0M914.3 124.8h0M920.7 124.1h0M915.4 98h0M913.5 95.8h0M897.9 104.5h0M901.2 106.4h0M904.6 130.5h0M897.7 107.2h0M905.1 101h0M900.8 124.3h0M906.5 104.2h0M918 112.9h0M912.1 107.3h0M920 117.8h0M899.4 106h0M906.7 142.7h0M909.9 145.6h0M907.9 143.5h0M910.9 149.9h0M904.4 153h0M898.1 152.8h0M900 148.5h0M898.9 155.7h0M905.5 150.2h0M901.9 155.7h0M907.8 156.5h0M898.2 155.3h0M904.4 151.2h0M896.5 151.3h0M903.2 148.7h0M905 154.7h0M896.2 151.9h0" stroke="#7fc4c8" stroke-width="1.35" stroke-linecap="round" fill="none"/>
<path d="M971.5 68h0M972.3 64.8h0M951.5 76.3h0M953.1 79.1h0M957.9 75.9h0M989 77.5h0M997.6 78.2h0M995.4 73.8h0M1002.6 92.5h0M1001.3 88.4h0M1002.6 72.2h0M1010.2 88.6h0M933.9 104.8h0M975.7 97.1h0M986.5 121.4h0M1003 120.1h0M999.6 121.7h0M997.2 115.6h0M1001.5 110.7h0M1011.2 128.5h0M999.4 108.5h0M1025.3 102.7h0M1026.6 102.5h0M1027.4 108.8h0M1028.3 107h0M1037.2 107.7h0M1043.6 109.7h0M1023.9 102.7h0M1039.9 99.6h0M1025.8 96.9h0M1036.4 115.5h0M1026.4 114.7h0M1034 103.6h0M1038.2 103.2h0M1031.8 99.2h0M1026.7 104h0M1019.5 107.7h0M1028.7 107.8h0M1042.8 107.9h0M1042.7 111h0M1038.9 111.4h0M1023.7 84.4h0M1023 93.1h0M1016 88.1h0M1027.2 91.1h0M931.4 137.3h0M933.4 138.6h0M941.2 122.1h0M927.7 132.7h0M961 131.9h0M973.8 133.6h0M973 128.5h0M972.3 122.2h0M958.6 134.5h0M972.9 124.2h0M939.1 152.2h0M930 187.2h0M936.4 158.5h0M927.2 154h0M985.2 154.3h0M986.4 147.8h0M1022.6 158.2h0M1024.7 143.2h0M1034 158.5h0M1033.9 159.9h0M1012.8 175.8h0M992.9 186.6h0M981.2 177.4h0M996 173.7h0M981.4 175.7h0M962.9 190.3h0M963.1 190.8h0M969 194.7h0M960.3 221h0M958.2 213.3h0M980.1 210.5h0M997.1 190.5h0M999.5 197.8h0M1012.7 137.6h0M1009.5 137.4h0M985.6 116.1h0M979.9 140.1h0M925 129.1h0M911.2 106.8h0M893.4 121.4h0M905.3 126.2h0M911.7 124h0M910.1 94.7h0M896.1 130.2h0M893.4 112.3h0M893.7 115.2h0M899.1 99.8h0M898.8 102.4h0M916.6 119.7h0M913.5 113.7h0M920.1 123.4h0M918.5 105.6h0M915.3 112.9h0M904.5 95.9h0M906.1 109.1h0M912 100.8h0M901.9 119.6h0M917 115.7h0M918.7 102.6h0M896.3 104.7h0M895.3 118.2h0M918.2 110.7h0M902.9 108.9h0M919.8 119.8h0M910.6 130.5h0M904.8 106.8h0M904.8 125h0M902 132.5h0M913.6 92.7h0M902 130.5h0M895.7 121.3h0M901 102.5h0" stroke="#f2ecd0" stroke-width="1.35" stroke-linecap="round" fill="none"/>
<path d="M903 126.6h0M911.4 120.7h0M913.6 118.6h0M918.2 110.5h0M911.9 128.2h0M921.2 120.7h0M919.3 112.6h0M915.4 113.1h0M909.5 127.1h0M910.2 130.7h0M910.9 121.2h0M906.7 115.8h0M910.5 112.1h0M911.9 102.1h0M917.4 116.6h0M915.1 120.5h0M893.8 117.6h0M906.4 111.8h0M917.6 123.1h0M924.3 107.8h0M902.4 97.6h0M909.4 103.8h0M899.8 104h0M891.6 119.6h0M893.4 115.2h0M896 111h0M893.6 113.4h0M923 101.7h0M915 111.6h0M901.9 123.8h0M917.7 93.2h0M912.3 130.3h0M914.2 114.6h0M902.5 131.2h0M895.4 117.9h0M913.2 104.2h0M913.5 120.9h0M897.9 102.9h0M909.6 117.3h0M891 121.7h0M905.2 127h0M913.9 98.2h0M914.6 121.4h0M900.8 97.9h0M907.1 115.6h0M918.9 118.3h0M909.3 129h0M919.8 123h0M893.8 121.5h0M918 111.1h0M898.1 124.6h0M918.5 123.1h0M900.4 103h0M912.3 129.2h0M902.6 132.8h0M901.7 120.5h0M908.1 120.2h0M896.4 111.8h0M916.5 116.1h0M895.5 131.8h0M922.4 113.6h0M922 104h0M908.9 114.1h0M908.1 127.4h0M900.9 110.7h0M895.7 125.5h0M906.4 104.6h0M921 113.5h0M919.3 114.2h0M915.7 108.8h0M907.1 128.9h0M891.9 114.8h0M907.1 125.4h0M898.7 100.5h0M900.7 109.8h0M906.4 126h0M901.6 132h0M916.6 97.1h0M904.9 104.2h0M894.3 124.5h0M904.4 105.7h0M904.9 124.9h0M896.2 130.5h0M911.8 128.1h0M913.2 93.8h0M913.6 130.5h0M907.8 133.4h0M905.5 132.1h0M908.4 118.4h0M902.1 129.5h0M920.1 93.8h0M898.7 130.7h0M904.2 113.3h0M912.5 128.1h0M896.5 122.6h0M909.3 101.3h0M906.1 115.4h0M897.5 120.2h0M901.9 97.4h0M911.4 122.1h0M917 115.7h0M910.2 130.8h0M902.5 130.3h0M911.2 110.6h0M893.2 116.9h0M910.6 114.2h0M911 101.7h0M911.7 122.7h0M898.6 110.8h0M912 97.9h0M894.4 128.7h0M905.7 111.7h0M909.5 103.5h0M903.4 109.4h0M893.8 129.3h0M901.8 102.1h0M914.1 104.9h0M909.9 108.9h0M899.4 107.5h0M911 129.1h0M898 120.7h0M916.1 101.3h0M899.5 115.7h0M904.9 124.8h0M912 129.6h0M914.4 96.5h0M920.5 96.3h0M910.7 121.1h0M909 106.2h0M905.7 122.3h0M894.2 127.2h0M908.5 110.5h0M897.1 104.4h0M914.8 100.8h0M916.8 103.8h0M910.8 108.1h0M896.4 109.7h0M909.2 131.3h0M903.9 128.5h0M894.4 129h0M907.7 129.3h0M913.4 96h0M893 113.7h0M897.4 124.6h0M905.9 120.8h0M914.1 102.9h0M910.1 129.4h0M904.2 122.3h0M893.5 118.8h0M902.2 125.6h0M898.8 116h0M896.7 130.8h0M919.8 122.7h0M901.9 104.8h0M896.3 128.7h0M896.8 127.7h0M905.3 103.9h0M922.6 113.8h0M925.1 110.6h0M904.8 133.6h0M903.4 118.8h0M902.4 130.8h0M924.5 115.8h0M892.4 118.7h0M913 109.5h0M899.1 116.2h0M912.6 101.4h0M902.4 127.9h0M913.9 117.4h0M912.1 127.8h0M922.2 101h0M901.6 118.2h0M895.2 115h0M897.9 130.8h0M922.2 106.2h0M916.8 107.2h0M913.1 120.1h0M919.5 119.9h0M921.5 102.1h0M906.3 120.7h0M919.1 104.8h0M891.6 118.1h0M923.6 104.5h0M901.4 118.4h0M920.1 116.6h0M905.5 122.5h0M899.2 132.5h0M899 122.3h0M912 111.7h0M921.3 115.3h0M900.6 120.9h0M897.6 110.5h0M897.2 126.9h0M904.1 103.2h0M908.8 130.4h0M900.5 104.3h0M909.7 104.3h0M915.2 99.7h0M903.4 100.4h0M895.7 110.4h0M906.6 117.4h0M901.1 122.8h0M914.4 114.9h0M917.8 99.6h0M895.7 131.7h0M913.6 122.2h0M894.8 119.4h0M902.8 131.5h0M908.8 131.2h0M896.6 117.4h0M919.8 122.2h0M910.5 123.7h0M922.8 118.8h0M892.8 126.4h0M892.2 113.2h0M895.6 129.4h0M899.2 105h0M897.3 104.1h0M906.1 115.8h0M919.4 111.5h0M915.2 128.3h0M906.3 116.6h0M898.2 116.1h0M901.9 132.1h0M912.2 118.2h0M906.9 121.9h0M901.2 98.4h0M913.1 121.7h0M917.6 114.9h0M908.8 107.2h0M907.3 105.9h0M897.5 104.6h0M900.9 126.1h0M903.7 121.4h0M902.1 131h0M897 111.5h0M917.4 126.6h0M904.7 98.6h0M910.7 131.9h0M923 116.4h0M905.3 112.3h0M904.9 122.1h0M912.6 113.3h0M895.1 126.5h0M899.3 106.8h0M902.8 121.6h0M914.7 108.2h0M914.6 109.1h0M909.8 114.7h0M903.6 114.4h0M920.7 96h0M914.2 104.4h0M918.8 120.5h0M919.5 109h0M896.8 119.4h0M892 119.7h0M906.9 109.9h0M908 133.6h0M892 122.2h0M910.3 130.3h0M896 104.6h0M911 103h0M905.9 118.6h0M914.6 100.1h0M894.7 113.2h0M907.5 111.6h0M902.7 115h0M908.1 96.6h0M894.6 124.3h0M904.2 114.1h0M902.7 154h0M903.9 153h0M902.4 146.9h0M905.7 156.3h0M902.7 148.5h0M906.5 156.8h0M896.8 149.9h0M906 155.2h0M898.8 150.1h0M898.3 147.5h0M897.7 148.3h0M902 144.3h0M908.2 151.8h0M908.2 154.2h0M900.6 150.1h0M902.8 143.7h0M908 155.5h0M899.2 143.9h0M901.5 156.2h0M907.9 150.1h0M901.6 143.1h0M898.3 143.7h0M908.8 150h0M903.2 146.6h0M899.6 146.5h0M906.1 144.8h0M896.6 153.4h0M901.6 150.6h0M901.4 144.1h0M906.7 145.4h0M904.8 156.6h0M900.6 150.6h0M905.7 144.7h0M938.5 190.2h0M939 191.5h0M938.1 188.7h0M936.6 116.1h0M937.5 118h0M997.4 63.2h0M891.3 159.8h0M892.8 156.4h0M900.4 138.9h0M901.4 136.6h0" stroke="#c4122f" stroke-width="1.35" stroke-linecap="round" fill="none"/>
<ellipse cx="908.6" cy="113.2" rx="20.4" ry="22.6" transform="rotate(22 908.6 113.2)" fill="none" stroke="#222" stroke-width="1.2" stroke-dasharray="2.2 1.3"/>
<circle cx="903.3" cy="149.9" r="8.6" fill="none" stroke="#222" stroke-width="0.9" stroke-dasharray="1.8 1.3"/>
<text x="886.9" y="84.5" font-size="15.3" fill="#111">LILRB1<tspan font-size="9" dy="-6.5">+</tspan></text>
<!-- p10_mac1 -->
<defs>
<radialGradient id="macg" cx="0.5" cy="0.5" r="0.5"><stop offset="0" stop-color="#d3e9fd"/><stop offset="0.55" stop-color="#bcdcfa"/><stop offset="1" stop-color="#9ccbf6"/></radialGradient>
<radialGradient id="nucg" cx="0.55" cy="0.45" r="0.6"><stop offset="0" stop-color="#b9d6f8"/><stop offset="1" stop-color="#8fb9ee"/></radialGradient>
<linearGradient id="pin" x1="0" y1="0" x2="1" y2="1"><stop offset="0" stop-color="#a6d05c"/><stop offset="1" stop-color="#86b83e"/></linearGradient>
</defs>
<defs><radialGradient id="mg55512" gradientUnits="userSpaceOnUse" cx="160" cy="485" r="135"><stop offset="0" stop-color="#d6ebfd"/><stop offset="0.45" stop-color="#c3dffb"/><stop offset="0.74" stop-color="#a4cef7"/><stop offset="0.9" stop-color="#a8d1f8"/><stop offset="1" stop-color="#b4d8f9"/></radialGradient></defs>
<path d="M146.8 360C145.9 362.7 145.8 366.6 144.9 370.1C144.1 373.7 143.3 378.3 141.8 381.6C140.2 384.8 137.9 387.7 135.4 389.8C132.9 391.9 129.7 393.4 126.5 394.2C123.4 395.1 119.8 395.3 116.4 394.9C113 394.5 109.2 393.3 106.2 391.7C103.3 390.1 101.2 387.5 98.6 385.4C96.1 383.3 93.6 380.7 91 379C88.5 377.3 85.9 375.9 83.4 375.2C80.9 374.6 77.7 374.6 75.8 375.2C73.9 375.9 72.7 377.6 72.3 379C71.8 380.4 72 382.2 73.3 383.5C74.5 384.7 77.3 385.8 79.6 386.6C81.9 387.5 85.3 387.5 87.2 388.5C89.1 389.6 90.6 391.5 91 393C91.4 394.5 91 396.7 89.8 397.4C88.5 398.2 85.7 398 83.4 397.4C81.1 396.8 77.9 395.3 75.8 393.6C73.7 391.9 72.6 389.2 70.7 387.3C68.8 385.4 66.5 383.3 64.4 382.2C62.3 381.1 59.9 380.5 58 380.9C56.2 381.3 54.2 382.9 53.2 384.7C52.3 386.5 51.7 389.3 52.3 391.7C52.9 394.1 54.6 397.2 56.8 399.3C59 401.4 62.3 403 65.7 404.4C69 405.8 73.3 406.8 77.1 407.6C80.9 408.3 85.3 408.4 88.5 408.8C91.7 409.2 94.4 409.1 96.1 410.1C97.8 411 98.6 412.5 98.6 414.5C98.6 416.5 97.8 419.9 96.1 422.1C94.4 424.4 91.2 426.6 88.5 427.9C85.7 429.1 82.6 429.5 79.6 429.8C76.6 430 73.4 429.2 70.7 429.1C68.1 429 65.1 428.6 63.8 429.1C62.4 429.6 62.7 431.3 62.5 432.3C62.3 433.2 63.2 434 62.5 434.8C61.7 435.7 59 436.5 58 437.4C57.1 438.2 56.3 438.9 56.8 439.9C57.3 440.8 61.6 442.4 61.2 443.1C60.8 443.7 56.9 443.3 54.2 443.7C51.6 444.1 48 444.4 45.4 445.6C42.7 446.8 39.8 448.8 38.4 450.7C37 452.6 36.7 455.2 37.1 457C37.5 458.8 39.1 460.6 40.9 461.5C42.7 462.3 45.5 462.4 47.9 462.1C50.3 461.8 53 460.4 55.5 459.6C58 458.7 61.1 457.3 63.1 457C65.1 456.7 66.7 456.7 67.6 457.7C68.4 458.6 68.3 460.6 68.2 462.7C68.1 464.8 67.6 468 66.9 470.3C66.3 472.7 65.7 475.3 64.4 476.7C63.1 478.1 61.1 478.7 59.3 478.6C57.5 478.5 55.2 475.8 53.6 476C52 476.3 50.6 478.3 49.8 479.8C49 481.4 49.4 484.4 48.5 485.6C47.7 486.7 46.5 486.9 44.7 486.8C42.9 486.7 39.8 486.2 37.8 484.9C35.7 483.7 34.1 481.1 32.7 479.2C31.3 477.3 30.7 474.8 29.5 473.5C28.3 472.2 26.9 471.4 25.7 471.4C24.5 471.4 22.7 472.2 22.3 473.5C21.9 474.8 22.1 477.3 23.2 479.2C24.3 481.1 27 483 28.9 484.9C30.8 486.8 33.2 488.6 34.6 490.6C36 492.6 36 495.6 37.1 497C38.3 498.3 39.6 499.1 41.6 498.9C43.6 498.7 46.8 496.8 49.2 495.7C51.5 494.6 53.6 492.7 55.5 492.5C57.4 492.3 59.3 493.3 60.6 494.4C61.9 495.6 63.2 498.3 63.1 499.5C63.1 500.8 61.3 499.1 60.2 501.9C59.1 504.8 56.5 512.1 56.5 516.5C56.5 521 59 524.9 60.2 528.7C61.4 532.6 61.8 536.4 63.9 539.7C65.9 542.9 70.6 545.6 72.4 548.2C74.2 550.9 75.6 552.9 74.8 555.5C74 558.2 69.3 561.4 67.5 564.1C65.7 566.7 63.9 569.3 63.9 571.4C63.9 573.4 65.9 575.8 67.5 576.2C69.1 576.7 71.6 575.6 73.6 573.8C75.6 572 77.3 567.3 79.7 565.3C82.1 563.3 85.2 561.4 88.2 561.6C91.3 561.8 94.5 563.9 98 566.5C101.4 569.1 106.3 574 108.9 577.5C111.6 580.9 113.2 584 113.8 587.2C114.4 590.5 112.4 594.3 112.6 597C112.8 599.6 113.8 602.4 115 603.1C116.2 603.7 118.5 602.4 119.9 600.6C121.3 598.8 121.7 594.5 123.6 592.1C125.4 589.6 128 587.6 130.9 586C133.7 584.4 138 582.1 140.6 582.3C143.3 582.5 145.9 585.4 146.7 587.2C147.5 589 147.1 591.3 145.5 593.3C143.9 595.3 139.8 597.6 137 599.4C134.1 601.2 129.9 602.4 128.4 604.3C127 606.1 127 609.1 128.4 610.4C129.9 611.6 133.5 612.2 137 611.6C140.4 611 145.9 608.7 149.1 606.7C152.4 604.7 154.8 602 156.5 599.4C158.1 596.8 157.9 593.7 158.9 590.9C159.9 588 160.5 584.4 162.5 582.3C164.6 580.3 168 579.4 171.1 578.7C174.1 578 178 577.8 180.8 578.2C183.7 578.6 186.3 579.4 188.1 581.1C190 582.8 190.6 586 191.8 588.4C193 590.9 193.8 593.6 195.4 595.7C197.1 597.9 199.3 600.3 201.5 601.1C203.8 601.9 206.8 601.9 208.8 600.6C210.9 599.3 213.7 596.3 213.7 593.3C213.7 590.3 210.9 586 208.8 582.3C206.8 578.7 203 574.8 201.5 571.4C200.1 567.9 199.7 564.7 200.3 561.6C200.9 558.6 202.7 554.9 205.2 553.1C207.6 551.3 211.7 549.9 214.9 550.7C218.2 551.5 221.4 554.7 224.7 558C227.9 561.2 231.2 566.5 234.4 570.2C237.7 573.8 240.9 577.5 244.2 579.9C247.4 582.3 251.7 584.8 253.9 584.8C256.2 584.8 257.8 581.9 257.6 579.9C257.4 577.9 255.1 575 252.7 572.6C250.3 570.2 245.4 567.9 243 565.3C240.5 562.6 238.7 559.2 238.1 556.8C237.5 554.3 237.7 552.1 239.3 550.7C240.9 549.2 244.4 547.8 247.8 548.2C251.3 548.6 256.2 551.9 260 553.1C263.9 554.3 268.9 555.9 271 555.5C273 555.1 273.4 551.9 272.2 550.7C271 549.4 267.1 549.2 263.7 548.2C260.2 547.2 254.7 546.2 251.5 544.6C248.2 542.9 245.6 541.1 244.2 538.5C242.8 535.8 242.1 532 243 528.7C243.8 525.5 246.8 522 249 519C251.3 515.9 255.5 513.7 256.4 510.5C257.2 507.2 254.8 503.4 253.9 499.5C253.1 495.6 252 491.7 251.4 487.1C250.8 482.5 250.2 476.6 250.3 471.9C250.5 467.3 251 462.8 252.1 459.2C253.3 455.6 255.1 452.7 257.2 450.4C259.3 448 265 446.5 264.8 445.3C264.6 444 258.9 444 255.9 442.7C253 441.5 250 440.4 247 437.7C244.1 434.9 240.5 430.3 238.2 426.3C235.8 422.2 234.1 416.7 233.1 413.6C232 410.4 231.6 410.4 231.8 407.2C232 404.1 233.4 399 234.4 394.5C235.3 390.1 237.1 385.5 237.7 380.6C238.2 375.7 238.2 370 237.7 365.4C237.1 360.7 236.2 355.6 234.4 352.7C232.5 349.8 229.1 348.5 226.7 348.1C224.4 347.7 222.1 348.8 220.4 350.1C218.7 351.5 216.6 353.5 216.6 356.5C216.6 359.4 218.7 363.9 220.4 367.9C222.1 371.9 225.1 376.1 226.7 380.6C228.4 385 230.6 390.5 230.6 394.5C230.6 398.6 228.4 402.6 226.7 404.7C225.1 406.8 222.7 407.6 220.4 407.2C218.1 406.8 215.8 404.5 212.8 402.2C209.8 399.8 206.5 395.8 202.6 393.3C198.8 390.7 194 388.6 190 386.9C185.9 385.2 180.9 385 178.5 383.1C176.2 381.2 176 378.3 176 375.5C176 372.8 179.2 369 178.5 366.6C177.9 364.3 174.3 363.5 172.2 361.6C170.1 359.7 168.2 357.5 165.9 355.2C163.5 353 160.8 348.3 158.3 348.1C155.7 347.9 152.5 352 150.6 354C148.7 355.9 147.8 357.3 146.8 360Z" fill="url(#mg55512)" stroke="#7fb0e4" stroke-width="1"/>
<path d="M153.2 451.6C157.8 452.3 165 453.7 169.7 458C174.3 462.2 178.7 470.4 181.1 477C183.5 483.5 184.8 490.9 184.1 497.3C183.5 503.6 181.4 510.8 177.3 515C173.2 519.3 165.9 522.2 159.5 522.6C153.2 523.1 144.7 521 139.2 517.6C133.7 514.2 129 507.9 126.5 502.4C124.1 496.9 123.9 490.9 124.5 484.6C125.1 478.3 127.5 469.5 130.4 464.3C133.2 459.1 138 455.8 141.8 453.6C145.6 451.5 148.5 450.9 153.2 451.6Z" fill="url(#nucg)" stroke="#6f9fe0" stroke-width="1"/>
<path d="M146.8 399.6Q157 409 169.7 407.2" fill="none" stroke="#e38e7a" stroke-width="7.4" stroke-linecap="round"/><path d="M146.8 399.6Q157 409 169.7 407.2" fill="none" stroke="#f5ae9e" stroke-width="5.8" stroke-linecap="round"/>
<path d="M120.2 428.8Q108.8 433.9 105 446.5" fill="none" stroke="#e38e7a" stroke-width="7.4" stroke-linecap="round"/><path d="M120.2 428.8Q108.8 433.9 105 446.5" fill="none" stroke="#f5ae9e" stroke-width="5.8" stroke-linecap="round"/>
<path d="M212.8 441.5Q221.7 450.4 222.9 463" fill="none" stroke="#e38e7a" stroke-width="7.4" stroke-linecap="round"/><path d="M212.8 441.5Q221.7 450.4 222.9 463" fill="none" stroke="#f5ae9e" stroke-width="5.8" stroke-linecap="round"/>
<path d="M88.5 495.3Q101.2 493.5 108.8 485.9" fill="none" stroke="#e38e7a" stroke-width="7.4" stroke-linecap="round"/><path d="M88.5 495.3Q101.2 493.5 108.8 485.9" fill="none" stroke="#f5ae9e" stroke-width="5.8" stroke-linecap="round"/>
<path d="M94.8 515Q105 522.6 107.5 535.3" fill="none" stroke="#e38e7a" stroke-width="7.4" stroke-linecap="round"/><path d="M94.8 515Q105 522.6 107.5 535.3" fill="none" stroke="#f5ae9e" stroke-width="5.8" stroke-linecap="round"/>
<path d="M198.8 506.2Q211.5 507.9 219.1 518.8" fill="none" stroke="#e38e7a" stroke-width="7.4" stroke-linecap="round"/><path d="M198.8 506.2Q211.5 507.9 219.1 518.8" fill="none" stroke="#f5ae9e" stroke-width="5.8" stroke-linecap="round"/>
<path d="M183.6 534.1Q197.6 531.5 206.5 540.4" fill="none" stroke="#e38e7a" stroke-width="7.4" stroke-linecap="round"/><path d="M183.6 534.1Q197.6 531.5 206.5 540.4" fill="none" stroke="#f5ae9e" stroke-width="5.8" stroke-linecap="round"/>
<path d="M134.2 549.3Q145.6 556.1 158.3 550" fill="none" stroke="#e38e7a" stroke-width="7.4" stroke-linecap="round"/><path d="M134.2 549.3Q145.6 556.1 158.3 550" fill="none" stroke="#f5ae9e" stroke-width="5.8" stroke-linecap="round"/>
<path d="M121.5 374.2L126 397.1" stroke="#76a636" stroke-width="7.6" stroke-linecap="round"/><circle cx="121.5" cy="374.2" r="7.6" fill="#76a636"/><path d="M121.5 374.2L126 397.1" stroke="#a0cd56" stroke-width="6.4" stroke-linecap="round"/><circle cx="121.5" cy="374.2" r="7" fill="#a0cd56"/><circle cx="120.1" cy="372.8" r="3.5" fill="#b4dc72" fill-opacity="0.7"/>
<path d="M252.1 407.2L231.1 416.9" stroke="#76a636" stroke-width="7.6" stroke-linecap="round"/><circle cx="252.1" cy="407.2" r="7.6" fill="#76a636"/><path d="M252.1 407.2L231.1 416.9" stroke="#a0cd56" stroke-width="6.4" stroke-linecap="round"/><circle cx="252.1" cy="407.2" r="7" fill="#a0cd56"/><circle cx="250.7" cy="405.8" r="3.5" fill="#b4dc72" fill-opacity="0.7"/>
<path d="M45.4 534.1L66.9 526.5" stroke="#76a636" stroke-width="7.6" stroke-linecap="round"/><circle cx="45.4" cy="534.1" r="7.6" fill="#76a636"/><path d="M45.4 534.1L66.9 526.5" stroke="#a0cd56" stroke-width="6.4" stroke-linecap="round"/><circle cx="45.4" cy="534.1" r="7" fill="#a0cd56"/><circle cx="44" cy="532.7" r="3.5" fill="#b4dc72" fill-opacity="0.7"/>
<path d="M177.8 592.4L169.7 571.4" stroke="#76a636" stroke-width="7.6" stroke-linecap="round"/><circle cx="177.8" cy="592.4" r="7.6" fill="#76a636"/><path d="M177.8 592.4L169.7 571.4" stroke="#a0cd56" stroke-width="6.4" stroke-linecap="round"/><circle cx="177.8" cy="592.4" r="7" fill="#a0cd56"/><circle cx="176.4" cy="591" r="3.5" fill="#b4dc72" fill-opacity="0.7"/>
<!-- p11_nk1 -->
<defs>
<radialGradient id="nkg" cx="0.5" cy="0.5" r="0.5"><stop offset="0" stop-color="#efe6fc"/><stop offset="0.6" stop-color="#e5d8f9"/><stop offset="1" stop-color="#d5c3f1"/></radialGradient>
<radialGradient id="nkn" cx="0.5" cy="0.5" r="0.5"><stop offset="0" stop-color="#cfb9f0"/><stop offset="0.6" stop-color="#bd9fe8"/><stop offset="1" stop-color="#a887dc"/></radialGradient>
</defs>
<circle cx="377.4" cy="487.6" r="117.5" fill="url(#nkg)" stroke="#8f78c4" stroke-width="1"/>
<defs><clipPath id="nk1clip"><circle cx="377.4" cy="487.6" r="118.3"/></clipPath></defs>
<g clip-path="url(#nk1clip)"><path d="M306.7 587.2C308.1 582.4 312.4 585.3 314.6 585C316.9 584.7 318.2 585.5 320.2 585.4C322.3 585.4 324.9 584.6 327 584.5C329.1 584.5 330.8 585.1 332.6 585.2C334.4 585.3 336.6 586.1 337.7 585C338.8 583.9 337.9 580.3 339 578.8C340.2 577.3 342.7 576 344.4 576C346.2 576 348.5 577.3 349.5 578.8C350.5 580.3 350.8 583.2 350.3 585C349.8 586.8 347.8 588.2 346.3 589.5C344.9 590.8 342.7 591.6 341.8 592.9C341 594.2 340.5 596.1 341.1 597.4C341.6 598.7 343.4 600.1 345 600.7C346.6 601.4 349.1 601.7 350.4 601.4C351.7 601.2 351.7 599.7 352.6 599.2C353.6 598.7 354.9 598.2 356.2 598.5C357.6 598.8 359.6 599.8 360.7 600.7C361.9 601.7 362.6 602.1 363 604.3C363.4 606.6 372.4 612.6 363 614.2C353.6 615.9 316.1 618.7 306.7 614.2C297.4 609.7 305.4 592.1 306.7 587.2Z" fill="url(#bgU)" stroke="#8f78c4" stroke-width="1"/></g>
<path d="M327.7 589C328 589.8 328.6 592.7 329.5 593.8C330.3 594.9 331.7 595.5 332.8 595.6C334 595.7 335.6 595.2 336.6 594.4C337.5 593.7 338.3 591.4 338.7 590.8" fill="none" stroke="#8f78c4" stroke-width="1"/>
<circle cx="344.2" cy="582.2" r="4.1" fill="#f5952c" stroke="#8a581a" stroke-width="1.1"/><circle cx="332.4" cy="588.1" r="4.1" fill="#2ba2dc" stroke="#155a8e" stroke-width="1.1"/><circle cx="319.5" cy="594.5" r="4.1" fill="#f5952c" stroke="#8a581a" stroke-width="1.1"/><circle cx="355.4" cy="604.3" r="4.1" fill="#2ba2dc" stroke="#155a8e" stroke-width="1.1"/>
<circle cx="435.7" cy="491.5" r="49.3" fill="url(#nkn)" stroke="#8a6ac6" stroke-width="1"/>
<path d="M394.8 483.6L395.4 483.5L396 483.3L396.6 483L397.2 482.6L397.8 482.1L398.4 481.5L399 480.8L399.6 480L400.2 479.2L400.8 478.4L401.4 477.7L402 476.9L402.6 476.2L403.2 475.5L403.8 475L404.4 474.5L405 474.2L405.6 473.9L406.2 473.8L406.8 473.8L407.4 474L408 474.2L408.6 474.6L409.3 475.1L409.9 475.7L410.5 476.4L411.1 477.1L411.7 477.9L412.3 478.7L412.9 479.5L413.5 480.2L414.1 481L414.7 481.7L415.3 482.2L415.9 482.7L416.5 483.1L417.1 483.4L417.7 483.6L418.3 483.6L418.9 483.5L419.5 483.3L420.1 482.9L420.7 482.5L421.3 481.9L421.9 481.2L422.5 480.5L423.1 479.8L423.7 479L424.3 478.2L424.9 477.4L425.5 476.7L426.1 476L426.7 475.4L427.3 474.8L427.9 474.4L428.5 474.1L429.1 473.9L429.7 473.8L430.3 473.9L430.9 474L431.5 474.4L432.1 474.8L432.7 475.3L433.3 475.9L433.9 476.6L434.5 477.4L435.1 478.1L435.7 478.9L436.3 479.7L437 480.5L437.6 481.2L438.2 481.8L438.8 482.4L439.4 482.9L440 483.2L440.6 483.5L441.2 483.6L441.8 483.6L442.4 483.4L443 483.2L443.6 482.8L444.2 482.3L444.8 481.7L445.4 481L446 480.3L446.6 479.5L447.2 478.7L447.8 478L448.4 477.2L449 476.4L449.6 475.8L450.2 475.2L450.8 474.7L451.4 474.3L452 474L452.6 473.8L453.2 473.8L453.8 473.9L454.4 474.1L455 474.5L455.6 474.9L456.2 475.5L456.8 476.1L457.4 476.8L458 477.6L458.6 478.4L459.2 479.2L459.8 480L460.4 480.7L461 481.4L461.6 482L462.2 482.6L462.8 483L463.4 483.3L464 483.5L464.7 483.6L465.3 483.5L465.9 483.4L466.5 483.1L467.1 482.6L467.7 482.1L468.3 481.5L468.9 480.8L469.5 480.1L470.1 479.3L470.7 478.5L471.3 477.7L471.9 477L472.5 476.2L473.1 475.6L473.7 475L474.3 474.5L474.9 474.2L475.5 473.9L476.1 473.8L476.7 473.8L477.3 474L477.9 474.2L478.5 474.6L478.5 482.8L477.9 483.2L477.3 483.4L476.7 483.6L476.1 483.6L475.5 483.5L474.9 483.2L474.3 482.9L473.7 482.4L473.1 481.8L472.5 481.2L471.9 480.4L471.3 479.7L470.7 478.9L470.1 478.1L469.5 477.3L468.9 476.6L468.3 475.9L467.7 475.3L467.1 474.8L466.5 474.3L465.9 474L465.3 473.9L464.7 473.8L464 473.9L463.4 474.1L462.8 474.4L462.2 474.8L461.6 475.4L461 476L460.4 476.7L459.8 477.4L459.2 478.2L458.6 479L458 479.8L457.4 480.6L456.8 481.3L456.2 481.9L455.6 482.5L455 482.9L454.4 483.3L453.8 483.5L453.2 483.6L452.6 483.6L452 483.4L451.4 483.1L450.8 482.7L450.2 482.2L449.6 481.6L449 481L448.4 480.2L447.8 479.4L447.2 478.7L446.6 477.9L446 477.1L445.4 476.4L444.8 475.7L444.2 475.1L443.6 474.6L443 474.2L442.4 474L441.8 473.8L441.2 473.8L440.6 473.9L440 474.2L439.4 474.5L438.8 475L438.2 475.6L437.6 476.2L437 476.9L436.3 477.7L435.7 478.5L435.1 479.3L434.5 480L433.9 480.8L433.3 481.5L432.7 482.1L432.1 482.6L431.5 483L430.9 483.4L430.3 483.5L429.7 483.6L429.1 483.5L428.5 483.3L427.9 483L427.3 482.6L426.7 482L426.1 481.4L425.5 480.7L424.9 480L424.3 479.2L423.7 478.4L423.1 477.6L422.5 476.9L421.9 476.2L421.3 475.5L420.7 474.9L420.1 474.5L419.5 474.1L418.9 473.9L418.3 473.8L417.7 473.8L417.1 474L416.5 474.3L415.9 474.7L415.3 475.2L414.7 475.7L414.1 476.4L413.5 477.2L412.9 477.9L412.3 478.7L411.7 479.5L411.1 480.3L410.5 481L409.9 481.7L409.3 482.3L408.6 482.8L408 483.2L407.4 483.4L406.8 483.6L406.2 483.6L405.6 483.5L405 483.2L404.4 482.9L403.8 482.4L403.2 481.9L402.6 481.2L402 480.5L401.4 479.7L400.8 479L400.2 478.2L399.6 477.4L399 476.6L398.4 475.9L397.8 475.3L397.2 474.8L396.6 474.4L396 474.1L395.4 473.9L394.8 473.8Z" fill="#2383d4" fill-rule="nonzero" stroke="#2383d4" stroke-width="0.9" stroke-linejoin="round"/><path d="M396.3 475.7V481.7M398.6 477.7V479.7M403.3 477V480.4M405.6 475.4V482M407.9 475.7V481.7M410.3 477.7V479.7M414.9 477V480.4M417.3 475.4V482M419.6 475.7V481.7M421.9 477.7V479.7M426.6 477V480.4M428.9 475.4V482M431.2 475.7V481.7M433.6 477.7V479.7M438.2 477V480.4M440.6 475.4V482M442.9 475.7V481.7M445.2 477.7V479.7M449.9 477V480.4M452.2 475.4V482M454.5 475.7V481.7M456.9 477.7V479.7M461.5 477V480.4M463.9 475.4V482M466.2 475.7V481.7M468.5 477.7V479.7M473.2 477V480.4M475.5 475.4V482" stroke="#cfe7fa" stroke-width="1.15" fill="none"/>
<path d="M394.8 513.8L395.4 513.7L396 513.5L396.6 513.2L397.2 512.8L397.8 512.3L398.4 511.7L399 511L399.6 510.2L400.2 509.4L400.8 508.6L401.4 507.9L402 507.1L402.6 506.4L403.2 505.7L403.8 505.2L404.4 504.7L405 504.4L405.6 504.1L406.2 504L406.8 504L407.4 504.2L408 504.4L408.6 504.8L409.3 505.3L409.9 505.9L410.5 506.6L411.1 507.3L411.7 508.1L412.3 508.9L412.9 509.7L413.5 510.4L414.1 511.2L414.7 511.9L415.3 512.4L415.9 512.9L416.5 513.3L417.1 513.6L417.7 513.8L418.3 513.8L418.9 513.7L419.5 513.5L420.1 513.1L420.7 512.7L421.3 512.1L421.9 511.4L422.5 510.7L423.1 510L423.7 509.2L424.3 508.4L424.9 507.6L425.5 506.9L426.1 506.2L426.7 505.6L427.3 505L427.9 504.6L428.5 504.3L429.1 504.1L429.7 504L430.3 504.1L430.9 504.2L431.5 504.6L432.1 505L432.7 505.5L433.3 506.1L433.9 506.8L434.5 507.6L435.1 508.3L435.7 509.1L436.3 509.9L437 510.7L437.6 511.4L438.2 512L438.8 512.6L439.4 513.1L440 513.4L440.6 513.7L441.2 513.8L441.8 513.8L442.4 513.6L443 513.4L443.6 513L444.2 512.5L444.8 511.9L445.4 511.2L446 510.5L446.6 509.7L447.2 508.9L447.8 508.2L448.4 507.4L449 506.6L449.6 506L450.2 505.4L450.8 504.9L451.4 504.5L452 504.2L452.6 504L453.2 504L453.8 504.1L454.4 504.3L455 504.7L455.6 505.1L456.2 505.7L456.8 506.3L457.4 507L458 507.8L458.6 508.6L459.2 509.4L459.8 510.2L460.4 510.9L461 511.6L461.6 512.2L462.2 512.8L462.8 513.2L463.4 513.5L464 513.7L464.7 513.8L465.3 513.7L465.9 513.6L466.5 513.3L467.1 512.8L467.7 512.3L468.3 511.7L468.9 511L469.5 510.3L470.1 509.5L470.7 508.7L471.3 507.9L471.9 507.2L472.5 506.4L473.1 505.8L473.7 505.2L474.3 504.7L474.9 504.4L475.5 504.1L476.1 504L476.7 504L477.3 504.2L477.9 504.4L478.5 504.8L478.5 513L477.9 513.4L477.3 513.6L476.7 513.8L476.1 513.8L475.5 513.7L474.9 513.4L474.3 513.1L473.7 512.6L473.1 512L472.5 511.4L471.9 510.6L471.3 509.9L470.7 509.1L470.1 508.3L469.5 507.5L468.9 506.8L468.3 506.1L467.7 505.5L467.1 505L466.5 504.5L465.9 504.2L465.3 504.1L464.7 504L464 504.1L463.4 504.3L462.8 504.6L462.2 505L461.6 505.6L461 506.2L460.4 506.9L459.8 507.6L459.2 508.4L458.6 509.2L458 510L457.4 510.8L456.8 511.5L456.2 512.1L455.6 512.7L455 513.1L454.4 513.5L453.8 513.7L453.2 513.8L452.6 513.8L452 513.6L451.4 513.3L450.8 512.9L450.2 512.4L449.6 511.8L449 511.2L448.4 510.4L447.8 509.6L447.2 508.9L446.6 508.1L446 507.3L445.4 506.6L444.8 505.9L444.2 505.3L443.6 504.8L443 504.4L442.4 504.2L441.8 504L441.2 504L440.6 504.1L440 504.4L439.4 504.7L438.8 505.2L438.2 505.8L437.6 506.4L437 507.1L436.3 507.9L435.7 508.7L435.1 509.5L434.5 510.2L433.9 511L433.3 511.7L432.7 512.3L432.1 512.8L431.5 513.2L430.9 513.6L430.3 513.7L429.7 513.8L429.1 513.7L428.5 513.5L427.9 513.2L427.3 512.8L426.7 512.2L426.1 511.6L425.5 510.9L424.9 510.2L424.3 509.4L423.7 508.6L423.1 507.8L422.5 507.1L421.9 506.4L421.3 505.7L420.7 505.1L420.1 504.7L419.5 504.3L418.9 504.1L418.3 504L417.7 504L417.1 504.2L416.5 504.5L415.9 504.9L415.3 505.4L414.7 505.9L414.1 506.6L413.5 507.4L412.9 508.1L412.3 508.9L411.7 509.7L411.1 510.5L410.5 511.2L409.9 511.9L409.3 512.5L408.6 513L408 513.4L407.4 513.6L406.8 513.8L406.2 513.8L405.6 513.7L405 513.4L404.4 513.1L403.8 512.6L403.2 512.1L402.6 511.4L402 510.7L401.4 509.9L400.8 509.2L400.2 508.4L399.6 507.6L399 506.8L398.4 506.1L397.8 505.5L397.2 505L396.6 504.6L396 504.3L395.4 504.1L394.8 504Z" fill="#2383d4" fill-rule="nonzero" stroke="#2383d4" stroke-width="0.9" stroke-linejoin="round"/><path d="M396.3 505.9V511.9M398.6 507.9V509.9M403.3 507.2V510.6M405.6 505.6V512.2M407.9 505.9V511.9M410.3 507.9V509.9M414.9 507.2V510.6M417.3 505.6V512.2M419.6 505.9V511.9M421.9 507.9V509.9M426.6 507.2V510.6M428.9 505.6V512.2M431.2 505.9V511.9M433.6 507.9V509.9M438.2 507.2V510.6M440.6 505.6V512.2M442.9 505.9V511.9M445.2 507.9V509.9M449.9 507.2V510.6M452.2 505.6V512.2M454.5 505.9V511.9M456.9 507.9V509.9M461.5 507.2V510.6M463.9 505.6V512.2M466.2 505.9V511.9M468.5 507.9V509.9M473.2 507.2V510.6M475.5 505.6V512.2" stroke="#cfe7fa" stroke-width="1.15" fill="none"/>
<path d="M297 414.2L266 407.2" fill="none" stroke="#7879c8" stroke-width="8.2" stroke-linecap="round"/><path d="M260.6 395.2Q268.4 396.9 266.3 407.2Q263.8 417.4 255.9 415.6" fill="none" stroke="#7879c8" stroke-width="7.2" stroke-linecap="round" stroke-linejoin="round"/><circle cx="267" cy="407.4" r="4.3" fill="#9a9be4"/><path d="M297 414.2L266 407.2" fill="none" stroke="#9a9be4" stroke-width="7" stroke-linecap="round"/><path d="M260.6 395.2Q268.4 396.9 266.3 407.2Q263.8 417.4 255.9 415.6" fill="none" stroke="#9a9be4" stroke-width="6" stroke-linecap="round" stroke-linejoin="round"/>
<path d="M468.6 420.6L491.1 401.6" fill="none" stroke="#7879c8" stroke-width="8.2" stroke-linecap="round"/><path d="M505.6 404.4Q498.6 410.3 490.9 401.8Q483.9 392.8 490.9 386.9" fill="none" stroke="#7879c8" stroke-width="7.2" stroke-linecap="round" stroke-linejoin="round"/><circle cx="490.4" cy="402.3" r="4.3" fill="#9a9be4"/><path d="M468.6 420.6L491.1 401.6" fill="none" stroke="#9a9be4" stroke-width="7" stroke-linecap="round"/><path d="M505.6 404.4Q498.6 410.3 490.9 401.8Q483.9 392.8 490.9 386.9" fill="none" stroke="#9a9be4" stroke-width="6" stroke-linecap="round" stroke-linejoin="round"/>
<path d="M420.1 573.4L435.6 600.3" fill="none" stroke="#7879c8" stroke-width="8.2" stroke-linecap="round"/><path d="M430.3 614Q425.8 606 435.4 600Q445.5 594.7 450.1 602.6" fill="none" stroke="#7879c8" stroke-width="7.2" stroke-linecap="round" stroke-linejoin="round"/><circle cx="435.1" cy="599.4" r="4.3" fill="#9a9be4"/><path d="M420.1 573.4L435.6 600.3" fill="none" stroke="#9a9be4" stroke-width="7" stroke-linecap="round"/><path d="M430.3 614Q425.8 606 435.4 600Q445.5 594.7 450.1 602.6" fill="none" stroke="#9a9be4" stroke-width="6" stroke-linecap="round" stroke-linejoin="round"/>
<rect x="295.9" y="402.1" width="70.4" height="22.1" rx="3.5" fill="#f39a2e" stroke="#b8721a" stroke-width="1"/><text x="331.1" y="420.3" font-size="18" text-anchor="middle" fill="#000">SHP1/2</text>
<path d="M330.4 424.2V436M326.3 436H334.6" stroke="#111" stroke-width="1.2" fill="none"/>
<text x="328.3" y="452.7" font-size="18" text-anchor="middle" fill="#8c8c8c">MAPK</text><text x="331" y="468.3" font-size="18" text-anchor="middle" fill="#8c8c8c">signaling</text>
<rect x="295" y="477.1" width="71.3" height="21.8" rx="3.5" fill="#e6e6e6" stroke="#8c8c8c" stroke-width="1"/><text x="330.6" y="493.9" font-size="18" text-anchor="middle" fill="#8c8c8c">B-raf</text>
<path d="M330.4 498.9V509.2" stroke="#8c8c8c" stroke-width="1.1"/><path d="M330.4 512.4L327.2 507.3L330.4 508.9L333.6 507.3Z" fill="#8c8c8c"/>
<rect x="295" y="512.4" width="71.3" height="22.7" rx="3.5" fill="#e6e6e6" stroke="#8c8c8c" stroke-width="1"/><text x="330.6" y="530.7" font-size="18" text-anchor="middle" fill="#8c8c8c">MEK1/2</text>
<path d="M330.4 535.1V544.3" stroke="#8c8c8c" stroke-width="1.1"/><path d="M330.4 547.5L327.2 542.4L330.4 544L333.6 542.4Z" fill="#8c8c8c"/>
<rect x="295" y="547.5" width="71.3" height="22.3" rx="3.5" fill="#e6e6e6" stroke="#8c8c8c" stroke-width="1"/><text x="330.6" y="565.1" font-size="18" text-anchor="middle" fill="#8c8c8c">ERK1/2</text>
<path d="M366.3 558.7H376Q380.4 558.7 380.4 554V499.5Q380.4 494.5 385 494.5H402" fill="none" stroke="#8c8c8c" stroke-width="1.1"/><path d="M407.5 494.5L401.5 491.4L402.8 494.5L401.5 497.6Z" fill="#8c8c8c"/>
<rect x="408.2" y="483.8" width="55" height="21.6" rx="5" fill="#ececec" stroke="#747474" stroke-width="1.4"/><text x="435.7" y="501.3" font-size="18" text-anchor="middle" fill="#8c8c8c">EST1</text>
<path d="M275.9 386V404" stroke="#111" stroke-width="1.1"/>
<circle cx="343.6" cy="627.2" r="3.6" fill="#2ba2dc" stroke="#155a8e" stroke-width="1.1"/><circle cx="424.5" cy="627.2" r="3.6" fill="#f5952c" stroke="#8a581a" stroke-width="1.1"/>
<path d="M178.5 603.3V613.8" stroke="#111" stroke-width="1.1"/>
<!-- p12_mac2 -->
<defs><radialGradient id="mg24033" gradientUnits="userSpaceOnUse" cx="672" cy="483" r="135"><stop offset="0" stop-color="#d6ebfd"/><stop offset="0.45" stop-color="#c3dffb"/><stop offset="0.74" stop-color="#a4cef7"/><stop offset="0.9" stop-color="#a8d1f8"/><stop offset="1" stop-color="#b4d8f9"/></radialGradient></defs>
<path d="M662.3 369.4C661.7 372.8 660.4 377.4 658.7 380.7C657 383.9 654.7 386.7 652.1 388.7C649.5 390.7 646.2 392.1 643 392.8C639.8 393.5 636.2 393.6 632.9 393.1C629.5 392.5 625.8 391.2 622.9 389.6C619.9 387.9 617.9 385.2 615.5 383C613 380.8 610.6 378.1 608.1 376.4C605.6 374.6 603.1 373 600.6 372.3C598.1 371.6 594.9 371.4 593 372C591.1 372.6 589.8 374.3 589.3 375.7C588.9 377.1 589 378.9 590.2 380.2C591.4 381.5 594.1 382.6 596.4 383.6C598.7 384.5 602.1 384.6 603.9 385.7C605.8 386.8 607.2 388.8 607.6 390.3C608 391.8 607.5 394 606.2 394.7C604.9 395.4 602.1 395.2 599.8 394.5C597.5 393.7 594.4 392.2 592.4 390.4C590.3 388.6 589.4 385.9 587.5 383.9C585.7 381.9 583.4 379.7 581.4 378.6C579.3 377.5 576.9 376.7 575.1 377.1C573.2 377.5 571.1 379 570.1 380.7C569.1 382.5 568.5 385.2 569 387.7C569.5 390.1 571 393.2 573.2 395.4C575.3 397.6 578.5 399.3 581.8 400.8C585.2 402.3 589.4 403.5 593.1 404.4C596.9 405.3 601.4 405.5 604.5 406C607.7 406.6 610.4 406.6 612.1 407.6C613.7 408.6 614.5 410.1 614.4 412.1C614.4 414.1 613.4 417.5 611.6 419.6C609.9 421.8 606.6 423.9 603.8 425.1C601.1 426.2 597.9 426.5 594.9 426.7C591.9 426.8 588.7 425.9 586.1 425.7C583.4 425.5 580.5 425 579.1 425.5C577.7 425.9 578 427.6 577.7 428.6C577.5 429.5 578.4 430.3 577.6 431.1C576.8 431.9 574.1 432.7 573.1 433.5C572.1 434.3 571.2 435 571.7 436C572.2 437 576.5 438.7 576.1 439.3C575.6 439.9 571.7 439.4 569.1 439.7C566.4 440 562.8 440.2 560.1 441.3C557.5 442.4 554.4 444.3 553 446.1C551.5 448 551.1 450.6 551.5 452.4C551.9 454.2 553.4 456.1 555.1 457C556.9 457.9 559.7 458.1 562.1 457.9C564.5 457.6 567.2 456.4 569.8 455.6C572.3 454.8 575.5 453.6 577.5 453.3C579.5 453.1 581.1 453.1 581.9 454.1C582.7 455.1 582.5 457.1 582.3 459.2C582.2 461.3 581.5 464.5 580.8 466.8C580.1 469.1 579.4 471.7 578.1 473C576.7 474.3 574.7 474.9 572.9 474.7C571.1 474.6 568.9 471.9 567.3 472C565.7 472.2 564.3 474.1 563.4 475.7C562.5 477.2 562.8 480.2 561.9 481.3C561 482.5 559.9 482.6 558.1 482.5C556.3 482.3 553.1 481.7 551.2 480.3C549.2 479 547.6 476.4 546.3 474.4C545 472.5 544.4 470 543.3 468.6C542.2 467.3 540.8 466.4 539.6 466.3C538.4 466.3 536.6 467.1 536.1 468.4C535.6 469.7 535.7 472.2 536.8 474.1C537.8 476.1 540.4 478 542.3 480C544.1 482 546.5 483.9 547.8 485.9C549.1 488 549 490.9 550.1 492.3C551.2 493.8 552.5 494.5 554.5 494.4C556.5 494.3 559.8 492.5 562.2 491.5C564.5 490.5 566.7 488.7 568.6 488.6C570.5 488.4 572.4 489.4 573.6 490.6C574.9 491.8 576.1 494.5 576 495.8C575.9 497 574.2 495.3 573 498.1C571.8 500.9 569 508.1 568.8 512.6C568.7 517.1 571 521 572.1 524.9C573.1 528.8 573.4 532.7 575.3 536C577.2 539.3 581.8 542.1 583.6 544.8C585.3 547.5 586.6 549.6 585.7 552.2C584.8 554.8 580.1 557.9 578.1 560.5C576.2 563 574.3 565.6 574.2 567.6C574.2 569.7 576.1 572.2 577.7 572.6C579.3 573.1 581.8 572.2 583.9 570.4C586 568.7 587.8 564 590.3 562.1C592.8 560.2 595.9 558.4 598.9 558.7C602 559.1 605.1 561.2 608.5 564C611.8 566.7 616.5 571.8 619.1 575.3C621.6 578.8 623.1 581.9 623.6 585.2C624.1 588.5 621.9 592.3 622 594.9C622.1 597.6 623.1 600.4 624.3 601.1C625.5 601.7 627.7 600.6 629.2 598.8C630.7 597 631.3 592.8 633.2 590.4C635.1 588 637.8 586.1 640.7 584.6C643.6 583.1 647.9 581 650.6 581.3C653.2 581.6 655.7 584.5 656.5 586.4C657.2 588.2 656.7 590.4 655 592.4C653.3 594.4 649.2 596.5 646.3 598.2C643.4 599.9 639.1 601 637.6 602.8C636.1 604.5 636 607.6 637.4 608.9C638.8 610.1 642.4 610.9 645.9 610.4C649.3 609.9 654.9 607.8 658.2 605.9C661.5 604 664.1 601.5 665.8 598.9C667.5 596.3 667.4 593.2 668.5 590.4C669.6 587.6 670.4 584 672.5 582C674.6 580.1 676.8 579.3 681.1 578.7C685.4 578.1 694.9 577.5 698.3 578.4C701.6 579.3 700 581.7 701.1 584C702.1 586.4 703.2 589.9 704.6 592.5C706 595 707.5 598 709.5 599.5C711.5 601 714.4 601.7 716.6 601.6C718.7 601.5 721 600.3 722.2 598.8C723.3 597.3 723.8 594.6 723.6 592.5C723.3 590.4 722.2 588.3 720.8 586.1C719.4 584 716.8 581.8 715.1 579.8C713.5 577.8 711.9 576.3 710.9 574.2C710 572.1 709.4 569.5 709.5 567.2C709.6 564.8 710.5 562.2 711.6 560.1C712.8 558 714.6 555.9 716.6 554.5C718.5 553.1 721 552.1 723.6 551.7C726.2 551.3 729.4 551.7 732 552.4C734.6 553.1 737.2 554.4 739 555.9C740.9 557.4 742.3 559.4 743.3 561.5C744.2 563.6 744.3 566.2 744.7 568.6C745 570.9 744.7 573.5 745.4 575.6C746.1 577.7 747.1 579.5 748.9 581.2C750.6 583 753.6 585.2 755.9 586.1C758.3 587.1 761 587.4 762.9 586.8C764.9 586.3 767.2 584.4 767.9 582.6C768.6 580.9 768.2 578.4 767.2 576.3C766.1 574.2 763.6 572.2 761.5 570C759.4 567.8 756.4 564.9 754.5 562.9C752.6 561 751.1 559.8 750.3 558C749.5 556.3 749.1 553.8 749.6 552.4C750.1 551 751.6 550.1 753.1 549.6C754.6 549.1 756.9 549.1 758.7 549.6C760.6 550.1 762.2 551.2 764.4 552.4C766.5 553.6 769 555.6 771.4 556.6C773.7 557.7 776.4 558.6 778.4 558.7C780.4 558.8 782.6 558.3 783.3 557.3C784 556.4 783.7 554.3 782.6 553.1C781.6 551.9 779.1 551.2 777 550.3C774.9 549.4 772.3 548.9 770 547.5C767.6 546.1 765.2 543.7 762.9 541.9C760.7 540 758.4 538 756.6 536.2C754.9 534.5 753.2 532.8 752.4 531.3C751.6 529.8 751.1 528.2 751.7 527.1C752.3 526 754 525 755.9 525C757.8 525 760.4 526.9 762.9 527.1C765.5 527.3 768.3 527 771.4 526.4C774.4 525.8 777.9 524.3 781.2 523.6C784.5 522.9 788.5 523.1 791.1 522.2C793.6 521.2 795.4 519.7 796.7 518C798 516.2 798.9 513.3 798.8 511.6C798.7 510 797.5 508.4 796 508.1C794.5 507.9 791.8 509.2 789.7 510.2C787.5 511.3 785.2 513.4 783.3 514.4C781.5 515.5 780.2 516.3 778.4 516.6C776.7 516.8 774.7 516.6 772.8 515.8C770.9 515.1 768.7 513.6 767.2 512.3C765.6 511 764.1 509.6 763.6 508.1C763.2 506.6 763.5 504.4 764.4 503.2C765.2 502 766.7 501.2 768.6 501.1C770.4 501 773.3 502 775.6 502.5C777.9 503 780.4 503.9 782.6 503.9C784.9 503.9 787.5 503.4 789 502.5C790.4 501.6 791.4 499.4 791.1 498.3C790.7 497.1 789 496.2 786.8 495.5C784.7 494.8 781 494.6 778.4 494.1C775.8 493.5 773.5 493.1 771.4 491.9C769.3 490.8 767.4 489.4 765.8 487C764.1 484.7 762.2 480.5 761.3 477.9C760.4 475.3 760.7 474 760.4 471.6C760.1 469.1 759.7 466.1 759.5 463.4C759.2 460.7 758.6 457.4 759 455.3C759.4 453.1 760.4 451.6 761.7 450.3C763.1 448.9 765.4 447.9 767.2 447.3C769 446.7 771.1 446.4 772.6 446.6C774.1 446.9 775.4 447.8 776.2 448.9C777 450 777.3 451.9 777.3 453.4C777.3 455 776.9 456.5 776.2 458C775.6 459.5 774.4 461 773.5 462.5C772.6 464 771.6 465.4 770.8 467C770 468.7 769.2 470.7 769 472.5C768.8 474.3 768.8 476.5 769.4 477.9C770 479.3 771.2 480.5 772.6 481.1C774 481.6 776.4 481.4 778 481.1C779.7 480.7 781.5 479.8 782.6 478.8C783.6 477.8 784.2 476.7 784.4 475.2C784.5 473.7 783 471.4 783.5 469.7C783.9 468.1 786.1 466.9 787.1 465.2C788.1 463.6 789.4 461.6 789.6 459.8C789.9 458 789.3 456.2 788.5 454.3C787.6 452.5 786.1 450.5 784.4 448.9C782.6 447.3 780.3 445.9 778 444.8C775.8 443.8 772.8 443.5 770.8 442.6C768.8 441.7 766.9 440.5 765.8 439.4C764.7 438.3 764.1 437.3 764 436.2C763.9 435.2 764.5 434.2 765.4 433.1C766.2 431.9 767.6 430.3 769 429.4C770.3 428.5 771.9 427.9 773.5 427.6C775.2 427.4 777 427.5 778.9 428.1C780.9 428.7 783.5 430.5 785.3 431.2C787.1 432 788.5 432.7 789.8 432.6C791.2 432.5 792.6 432 793.4 430.8C794.3 429.6 795 427.1 794.8 425.4C794.6 423.6 793.8 421.5 792.5 420.4C791.3 419.2 789.8 418.6 787.1 418.6C784.4 418.5 779.6 419.2 776.2 419.9C772.9 420.6 770.3 421.4 767.2 422.6C764 423.9 759.5 426.9 757.2 427.6C754.9 428.4 754.6 427.7 753.6 427.2C752.5 426.6 751.9 426.2 750.9 424.5C749.9 422.7 748.3 419.1 747.6 416.5C747 413.8 746.6 411.4 746.8 408.5C747.1 405.6 748.3 402.4 749.2 399C750.2 395.5 751.6 391.8 752.4 387.8C753.2 383.8 753.9 379.3 754 375.1C754.1 370.8 754 365.9 753.2 362.3C752.4 358.7 751.1 355.6 749.2 353.5C747.4 351.5 744.4 350.1 742.1 349.9C739.7 349.6 736.6 350.4 734.9 352C733.2 353.5 732.2 356.1 732 359.1C731.9 362.2 732.9 366.8 734.1 370.3C735.2 373.7 737.4 376.6 738.9 379.8C740.3 383 741.9 386.2 742.9 389.4C743.8 392.6 744.7 396.2 744.4 399C744.2 401.7 742.9 404.5 741.3 406.1C739.7 407.7 737 408.5 734.9 408.5C732.8 408.5 730.5 407.7 728.5 406.1C726.5 404.5 725.1 401.1 722.9 399C720.8 396.8 718.3 394.8 715.8 393.4C713.2 391.9 710.5 391.1 707.8 390.2C705.1 389.3 702.4 388.7 699.8 387.8C697.3 386.9 694.4 385.9 692.7 384.6C690.9 383.3 689.6 381.6 689.5 379.8C689.3 378.1 690.8 375.9 691.9 374.3C692.9 372.7 694.9 371.6 695.9 370.3C696.8 368.9 697.8 367.4 697.4 366.3C697 365.2 695.1 364 693.5 363.9C691.9 363.8 689.7 365.8 687.9 365.5C686 365.2 683.9 363.5 682.3 362.3C680.7 361.1 678.7 359.8 678.3 358.3C677.9 356.9 679.4 355.1 679.9 353.5C680.4 352 681.9 350 681.5 348.8C681.1 347.5 679.3 346.3 677.5 346.1C675.8 345.8 673.1 346.1 671.2 347.2C669.2 348.3 667.1 350.6 665.6 352.7C664 354.9 662.5 357.1 661.9 359.9C661.4 362.7 662.8 365.9 662.3 369.4Z" fill="url(#mg24033)" stroke="#7fb0e4" stroke-width="1"/>
<path d="M669.9 447.4C674.9 448 682 449.3 686.8 453.6C691.5 457.9 695.9 466.5 698.4 473.2C701 479.8 702.6 487.1 702 493.6C701.4 500 699.1 507.1 694.9 511.8C690.7 516.5 683.1 520.8 676.7 521.6C670.3 522.4 662 520 656.3 516.7C650.7 513.4 645.5 507.4 642.7 501.7C639.9 496.1 639 489.3 639.5 482.7C639.9 476.1 642.5 467.8 645.4 462.3C648.3 456.9 652.8 452.6 656.9 450.1C660.9 447.6 664.9 446.8 669.9 447.4Z" fill="url(#nucg)" stroke="#6f9fe0" stroke-width="1"/>
<path d="M672.1 418.8Q683 429.2 697.1 427" fill="none" stroke="#e38e7a" stroke-width="7.4" stroke-linecap="round"/><path d="M672.1 418.8Q683 429.2 697.1 427" fill="none" stroke="#f5ae9e" stroke-width="5.8" stroke-linecap="round"/>
<path d="M624.5 440.6Q612.3 445.5 606.8 459.6" fill="none" stroke="#e38e7a" stroke-width="7.4" stroke-linecap="round"/><path d="M624.5 440.6Q612.3 445.5 606.8 459.6" fill="none" stroke="#f5ae9e" stroke-width="5.8" stroke-linecap="round"/>
<path d="M712.9 443.8Q723.7 453.6 725.1 466.4" fill="none" stroke="#e38e7a" stroke-width="7.4" stroke-linecap="round"/><path d="M712.9 443.8Q723.7 453.6 725.1 466.4" fill="none" stroke="#f5ae9e" stroke-width="5.8" stroke-linecap="round"/>
<path d="M600.6 494.4Q614.2 492.8 624.2 482.7" fill="none" stroke="#e38e7a" stroke-width="7.4" stroke-linecap="round"/><path d="M600.6 494.4Q614.2 492.8 624.2 482.7" fill="none" stroke="#f5ae9e" stroke-width="5.8" stroke-linecap="round"/>
<path d="M607.4 514Q618.8 522.1 621 535.2" fill="none" stroke="#e38e7a" stroke-width="7.4" stroke-linecap="round"/><path d="M607.4 514Q618.8 522.1 621 535.2" fill="none" stroke="#f5ae9e" stroke-width="5.8" stroke-linecap="round"/>
<path d="M717.5 504.4Q731.1 505.8 740 518" fill="none" stroke="#e38e7a" stroke-width="7.4" stroke-linecap="round"/><path d="M717.5 504.4Q731.1 505.8 740 518" fill="none" stroke="#f5ae9e" stroke-width="5.8" stroke-linecap="round"/>
<path d="M700.3 533.5Q714.8 531.6 726.4 541.1" fill="none" stroke="#e38e7a" stroke-width="7.4" stroke-linecap="round"/><path d="M700.3 533.5Q714.8 531.6 726.4 541.1" fill="none" stroke="#f5ae9e" stroke-width="5.8" stroke-linecap="round"/>
<path d="M649.5 549.3Q661.8 556.9 675.3 550.7" fill="none" stroke="#e38e7a" stroke-width="7.4" stroke-linecap="round"/><path d="M649.5 549.3Q661.8 556.9 675.3 550.7" fill="none" stroke="#f5ae9e" stroke-width="5.8" stroke-linecap="round"/>
<path d="M637.3 375.3L640.6 398.4" stroke="#76a636" stroke-width="7.6" stroke-linecap="round"/><circle cx="637.3" cy="375.3" r="7.6" fill="#76a636"/><path d="M637.3 375.3L640.6 398.4" stroke="#a0cd56" stroke-width="6.4" stroke-linecap="round"/><circle cx="637.3" cy="375.3" r="7" fill="#a0cd56"/><circle cx="635.9" cy="373.9" r="3.5" fill="#b4dc72" fill-opacity="0.7"/>
<path d="M759.1 414.7L737.3 425.6" stroke="#76a636" stroke-width="7.6" stroke-linecap="round"/><circle cx="759.1" cy="414.7" r="7.6" fill="#76a636"/><path d="M759.1 414.7L737.3 425.6" stroke="#a0cd56" stroke-width="6.4" stroke-linecap="round"/><circle cx="759.1" cy="414.7" r="7" fill="#a0cd56"/><circle cx="757.7" cy="413.3" r="3.5" fill="#b4dc72" fill-opacity="0.7"/>
<path d="M554.4 534.3L576.1 526.2" stroke="#76a636" stroke-width="7.6" stroke-linecap="round"/><circle cx="554.4" cy="534.3" r="7.6" fill="#76a636"/><path d="M554.4 534.3L576.1 526.2" stroke="#a0cd56" stroke-width="6.4" stroke-linecap="round"/><circle cx="554.4" cy="534.3" r="7" fill="#a0cd56"/><circle cx="553" cy="532.9" r="3.5" fill="#b4dc72" fill-opacity="0.7"/>
<path d="M690.3 596L682.1 574.3" stroke="#76a636" stroke-width="7.6" stroke-linecap="round"/><circle cx="690.3" cy="596" r="7.6" fill="#76a636"/><path d="M690.3 596L682.1 574.3" stroke="#a0cd56" stroke-width="6.4" stroke-linecap="round"/><circle cx="690.3" cy="596" r="7" fill="#a0cd56"/><circle cx="688.9" cy="594.6" r="3.5" fill="#b4dc72" fill-opacity="0.7"/>
<!-- p13_nk2 -->
<circle cx="915.9" cy="487.5" r="117.5" fill="url(#nkg)" stroke="#8f78c4" stroke-width="1"/>
<defs><clipPath id="nk2clip"><circle cx="915.9" cy="487.5" r="118.3"/></clipPath></defs>
<g clip-path="url(#nk2clip)"><path d="M844.5 585.9C845.6 580.8 849 583.9 851.2 583.8C853.5 583.8 855.7 584.9 858 585.4C860.3 585.9 863.6 585.8 865.3 587C867 588.2 866.9 591.2 868.1 592.6C869.3 594 871.2 595.5 872.6 595.5C874 595.5 875.8 594 876.7 592.6C877.5 591.2 877.8 588.9 877.8 587C877.8 585.1 876.3 583.1 876.4 581.4C876.6 579.7 877.7 577.8 878.8 576.9C880 575.9 881.8 575.3 883.3 575.5C884.8 575.7 887.1 576.7 888 578C889 579.3 889.3 581.4 889 583.1C888.8 584.7 887.8 586.3 886.7 587.7C885.5 589 883.4 589.9 882.2 591C881 592.2 879.5 593.1 879.4 594.4C879.2 595.7 880 597.8 881.2 598.9C882.3 600 884.7 600.9 886.1 601.2C887.5 601.5 888.7 601.1 889.5 600.7C890.3 600.3 890.3 599.3 891.2 598.8C892 598.4 893.4 597.8 894.6 598C895.7 598.2 897.1 599.1 897.9 599.9C898.8 600.8 899.3 601 899.6 603.3C899.9 605.7 908.8 612.2 899.6 614C890.4 615.8 853.7 618.7 844.5 614C835.3 609.3 843.4 590.9 844.5 585.9Z" fill="url(#bgU)" stroke="#8f78c4" stroke-width="1"/></g>
<circle cx="974" cy="491.8" r="49.3" fill="url(#nkn)" stroke="#8a6ac6" stroke-width="1"/>
<path d="M933 483.3L933.6 483.2L934.2 483L934.8 482.7L935.4 482.3L936 481.8L936.6 481.2L937.2 480.5L937.8 479.7L938.4 479L939 478.2L939.6 477.4L940.2 476.6L940.8 475.9L941.4 475.3L942 474.7L942.6 474.2L943.2 473.9L943.8 473.6L944.4 473.5L945 473.5L945.6 473.7L946.2 473.9L946.8 474.3L947.4 474.8L948 475.4L948.6 476L949.2 476.8L949.8 477.5L950.4 478.3L951 479.1L951.6 479.9L952.2 480.6L952.8 481.3L953.4 481.9L954 482.4L954.6 482.8L955.2 483.1L955.8 483.3L956.4 483.3L957 483.2L957.6 483L958.2 482.7L958.8 482.2L959.4 481.7L960 481L960.6 480.3L961.2 479.6L961.8 478.8L962.4 478L963 477.2L963.6 476.5L964.2 475.8L964.8 475.1L965.4 474.6L966 474.1L966.6 473.8L967.2 473.6L967.8 473.5L968.4 473.5L969 473.7L969.6 474L970.2 474.4L970.8 474.9L971.4 475.5L972 476.2L972.6 476.9L973.2 477.7L973.8 478.5L974.4 479.3L975.1 480.1L975.7 480.8L976.3 481.4L976.9 482L977.5 482.5L978.1 482.9L978.7 483.1L979.3 483.3L979.9 483.3L980.5 483.2L981.1 482.9L981.7 482.6L982.3 482.1L982.9 481.5L983.5 480.9L984.1 480.2L984.7 479.4L985.3 478.6L985.9 477.8L986.5 477L987.1 476.3L987.7 475.6L988.3 475L988.9 474.5L989.5 474.1L990.1 473.7L990.7 473.6L991.3 473.5L991.9 473.6L992.5 473.8L993.1 474.1L993.7 474.5L994.3 475L994.9 475.7L995.5 476.4L996.1 477.1L996.7 477.9L997.3 478.7L997.9 479.5L998.5 480.2L999.1 480.9L999.7 481.6L1000.3 482.1L1000.9 482.6L1001.5 482.9L1002.1 483.2L1002.7 483.3L1003.3 483.3L1003.9 483.1L1004.5 482.9L1005.1 482.5L1005.7 482L1006.3 481.4L1006.9 480.7L1007.5 480L1008.1 479.2L1008.7 478.4L1009.3 477.7L1009.9 476.9L1010.5 476.2L1011.1 475.5L1011.7 474.9L1012.3 474.4L1012.9 474L1013.5 473.7L1014.1 473.5L1014.7 473.5L1015.3 473.6L1015.9 473.8L1016.5 474.2L1016.5 482.6L1015.9 483L1015.3 483.2L1014.7 483.3L1014.1 483.3L1013.5 483.1L1012.9 482.8L1012.3 482.4L1011.7 481.9L1011.1 481.3L1010.5 480.6L1009.9 479.9L1009.3 479.1L1008.7 478.4L1008.1 477.6L1007.5 476.8L1006.9 476.1L1006.3 475.4L1005.7 474.8L1005.1 474.3L1004.5 473.9L1003.9 473.7L1003.3 473.5L1002.7 473.5L1002.1 473.6L1001.5 473.9L1000.9 474.2L1000.3 474.7L999.7 475.2L999.1 475.9L998.5 476.6L997.9 477.3L997.3 478.1L996.7 478.9L996.1 479.7L995.5 480.4L994.9 481.1L994.3 481.8L993.7 482.3L993.1 482.7L992.5 483L991.9 483.2L991.3 483.3L990.7 483.2L990.1 483.1L989.5 482.7L988.9 482.3L988.3 481.8L987.7 481.2L987.1 480.5L986.5 479.8L985.9 479L985.3 478.2L984.7 477.4L984.1 476.6L983.5 475.9L982.9 475.3L982.3 474.7L981.7 474.2L981.1 473.9L980.5 473.6L979.9 473.5L979.3 473.5L978.7 473.7L978.1 473.9L977.5 474.3L976.9 474.8L976.3 475.4L975.7 476L975.1 476.7L974.4 477.5L973.8 478.3L973.2 479.1L972.6 479.9L972 480.6L971.4 481.3L970.8 481.9L970.2 482.4L969.6 482.8L969 483.1L968.4 483.3L967.8 483.3L967.2 483.2L966.6 483L966 482.7L965.4 482.2L964.8 481.7L964.2 481L963.6 480.3L963 479.6L962.4 478.8L961.8 478L961.2 477.2L960.6 476.5L960 475.8L959.4 475.1L958.8 474.6L958.2 474.1L957.6 473.8L957 473.6L956.4 473.5L955.8 473.5L955.2 473.7L954.6 474L954 474.4L953.4 474.9L952.8 475.5L952.2 476.2L951.6 476.9L951 477.7L950.4 478.5L949.8 479.3L949.2 480L948.6 480.8L948 481.4L947.4 482L946.8 482.5L946.2 482.9L945.6 483.1L945 483.3L944.4 483.3L943.8 483.2L943.2 482.9L942.6 482.6L942 482.1L941.4 481.5L940.8 480.9L940.2 480.2L939.6 479.4L939 478.6L938.4 477.8L937.8 477.1L937.2 476.3L936.6 475.6L936 475L935.4 474.5L934.8 474.1L934.2 473.8L933.6 473.6L933 473.5Z" fill="#2383d4" fill-rule="nonzero" stroke="#2383d4" stroke-width="0.9" stroke-linejoin="round"/><path d="M934.5 475.4V481.4M936.8 477.4V479.4M941.5 476.7V480.1M943.8 475.1V481.7M946.2 475.4V481.4M948.5 477.4V479.4M953.1 476.7V480.1M955.5 475.1V481.7M957.8 475.4V481.4M960.1 477.4V479.4M964.8 476.7V480.1M967.1 475.1V481.7M969.5 475.4V481.4M971.8 477.4V479.4M976.4 476.7V480.1M978.8 475.1V481.7M981.1 475.4V481.4M983.4 477.4V479.4M988.1 476.7V480.1M990.4 475.1V481.7M992.8 475.4V481.4M995.1 477.4V479.4M999.7 476.7V480.1M1002.1 475.1V481.7M1004.4 475.4V481.4M1006.7 477.4V479.4M1011.4 476.7V480.1M1013.7 475.1V481.7" stroke="#cfe7fa" stroke-width="1.15" fill="none"/>
<path d="M933 513.9L933.6 513.8L934.2 513.6L934.8 513.3L935.4 512.9L936 512.4L936.6 511.8L937.2 511.1L937.8 510.3L938.4 509.6L939 508.8L939.6 508L940.2 507.2L940.8 506.5L941.4 505.9L942 505.3L942.6 504.8L943.2 504.5L943.8 504.2L944.4 504.1L945 504.1L945.6 504.3L946.2 504.5L946.8 504.9L947.4 505.4L948 506L948.6 506.6L949.2 507.4L949.8 508.1L950.4 508.9L951 509.7L951.6 510.5L952.2 511.2L952.8 511.9L953.4 512.5L954 513L954.6 513.4L955.2 513.7L955.8 513.9L956.4 513.9L957 513.8L957.6 513.6L958.2 513.3L958.8 512.8L959.4 512.3L960 511.6L960.6 510.9L961.2 510.2L961.8 509.4L962.4 508.6L963 507.8L963.6 507.1L964.2 506.4L964.8 505.7L965.4 505.2L966 504.7L966.6 504.4L967.2 504.2L967.8 504.1L968.4 504.1L969 504.3L969.6 504.6L970.2 505L970.8 505.5L971.4 506.1L972 506.8L972.6 507.5L973.2 508.3L973.8 509.1L974.4 509.9L975.1 510.7L975.7 511.4L976.3 512L976.9 512.6L977.5 513.1L978.1 513.5L978.7 513.7L979.3 513.9L979.9 513.9L980.5 513.8L981.1 513.5L981.7 513.2L982.3 512.7L982.9 512.1L983.5 511.5L984.1 510.8L984.7 510L985.3 509.2L985.9 508.4L986.5 507.6L987.1 506.9L987.7 506.2L988.3 505.6L988.9 505.1L989.5 504.7L990.1 504.3L990.7 504.2L991.3 504.1L991.9 504.2L992.5 504.4L993.1 504.7L993.7 505.1L994.3 505.6L994.9 506.3L995.5 507L996.1 507.7L996.7 508.5L997.3 509.3L997.9 510.1L998.5 510.8L999.1 511.5L999.7 512.2L1000.3 512.7L1000.9 513.2L1001.5 513.5L1002.1 513.8L1002.7 513.9L1003.3 513.9L1003.9 513.7L1004.5 513.5L1005.1 513.1L1005.7 512.6L1006.3 512L1006.9 511.3L1007.5 510.6L1008.1 509.8L1008.7 509L1009.3 508.3L1009.9 507.5L1010.5 506.8L1011.1 506.1L1011.7 505.5L1012.3 505L1012.9 504.6L1013.5 504.3L1014.1 504.1L1014.7 504.1L1015.3 504.2L1015.9 504.4L1016.5 504.8L1016.5 513.2L1015.9 513.6L1015.3 513.8L1014.7 513.9L1014.1 513.9L1013.5 513.7L1012.9 513.4L1012.3 513L1011.7 512.5L1011.1 511.9L1010.5 511.2L1009.9 510.5L1009.3 509.7L1008.7 509L1008.1 508.2L1007.5 507.4L1006.9 506.7L1006.3 506L1005.7 505.4L1005.1 504.9L1004.5 504.5L1003.9 504.3L1003.3 504.1L1002.7 504.1L1002.1 504.2L1001.5 504.5L1000.9 504.8L1000.3 505.3L999.7 505.8L999.1 506.5L998.5 507.2L997.9 507.9L997.3 508.7L996.7 509.5L996.1 510.3L995.5 511L994.9 511.7L994.3 512.4L993.7 512.9L993.1 513.3L992.5 513.6L991.9 513.8L991.3 513.9L990.7 513.8L990.1 513.7L989.5 513.3L988.9 512.9L988.3 512.4L987.7 511.8L987.1 511.1L986.5 510.4L985.9 509.6L985.3 508.8L984.7 508L984.1 507.2L983.5 506.5L982.9 505.9L982.3 505.3L981.7 504.8L981.1 504.5L980.5 504.2L979.9 504.1L979.3 504.1L978.7 504.3L978.1 504.5L977.5 504.9L976.9 505.4L976.3 506L975.7 506.6L975.1 507.3L974.4 508.1L973.8 508.9L973.2 509.7L972.6 510.5L972 511.2L971.4 511.9L970.8 512.5L970.2 513L969.6 513.4L969 513.7L968.4 513.9L967.8 513.9L967.2 513.8L966.6 513.6L966 513.3L965.4 512.8L964.8 512.3L964.2 511.6L963.6 510.9L963 510.2L962.4 509.4L961.8 508.6L961.2 507.8L960.6 507.1L960 506.4L959.4 505.7L958.8 505.2L958.2 504.7L957.6 504.4L957 504.2L956.4 504.1L955.8 504.1L955.2 504.3L954.6 504.6L954 505L953.4 505.5L952.8 506.1L952.2 506.8L951.6 507.5L951 508.3L950.4 509.1L949.8 509.9L949.2 510.6L948.6 511.4L948 512L947.4 512.6L946.8 513.1L946.2 513.5L945.6 513.7L945 513.9L944.4 513.9L943.8 513.8L943.2 513.5L942.6 513.2L942 512.7L941.4 512.1L940.8 511.5L940.2 510.8L939.6 510L939 509.2L938.4 508.4L937.8 507.7L937.2 506.9L936.6 506.2L936 505.6L935.4 505.1L934.8 504.7L934.2 504.4L933.6 504.2L933 504.1Z" fill="#2383d4" fill-rule="nonzero" stroke="#2383d4" stroke-width="0.9" stroke-linejoin="round"/><path d="M934.5 506V512M936.8 508V510M941.5 507.3V510.7M943.8 505.7V512.3M946.2 506V512M948.5 508V510M953.1 507.3V510.7M955.5 505.7V512.3M957.8 506V512M960.1 508V510M964.8 507.3V510.7M967.1 505.7V512.3M969.5 506V512M971.8 508V510M976.4 507.3V510.7M978.8 505.7V512.3M981.1 506V512M983.4 508V510M988.1 507.3V510.7M990.4 505.7V512.3M992.8 506V512M995.1 508V510M999.7 507.3V510.7M1002.1 505.7V512.3M1004.4 506V512M1006.7 508V510M1011.4 507.3V510.7M1013.7 505.7V512.3" stroke="#cfe7fa" stroke-width="1.15" fill="none"/>
<path d="M844 414.4L814.1 402.2" fill="none" stroke="#7879c8" stroke-width="8.2" stroke-linecap="round"/><path d="M810.1 388.1Q818.4 391.5 814.4 402.3Q809.7 412.9 801.3 409.5" fill="none" stroke="#7879c8" stroke-width="7.2" stroke-linecap="round" stroke-linejoin="round"/><circle cx="815" cy="402.6" r="4.3" fill="#9a9be4"/><path d="M844 414.4L814.1 402.2" fill="none" stroke="#9a9be4" stroke-width="7" stroke-linecap="round"/><path d="M810.1 388.1Q818.4 391.5 814.4 402.3Q809.7 412.9 801.3 409.5" fill="none" stroke="#9a9be4" stroke-width="6" stroke-linecap="round" stroke-linejoin="round"/>
<path d="M798.7 391.2L807 402.5M798.7 391.2L802 376.6M798.7 391.2L776 395" fill="none" stroke="#d87888" stroke-width="8.1" stroke-linecap="round" stroke-linejoin="round"/><circle cx="798.7" cy="391.2" r="5.5" fill="#d87888"/><circle cx="798.7" cy="391.2" r="4.9" fill="#f4a4b0"/><path d="M798.7 391.2L807 402.5M798.7 391.2L802 376.6M798.7 391.2L776 395" fill="none" stroke="#f4a4b0" stroke-width="7" stroke-linecap="round" stroke-linejoin="round"/>
<path d="M1000.2 427.5L1023.8 406.4" fill="none" stroke="#7879c8" stroke-width="8.2" stroke-linecap="round"/><path d="M1038.4 408.7Q1031.5 414.8 1023.6 406.6Q1016.4 397.8 1023.2 391.7" fill="none" stroke="#7879c8" stroke-width="7.2" stroke-linecap="round" stroke-linejoin="round"/><circle cx="1023.1" cy="407.1" r="4.3" fill="#9a9be4"/><path d="M1000.2 427.5L1023.8 406.4" fill="none" stroke="#9a9be4" stroke-width="7" stroke-linecap="round"/><path d="M1038.4 408.7Q1031.5 414.8 1023.6 406.6Q1016.4 397.8 1023.2 391.7" fill="none" stroke="#9a9be4" stroke-width="6" stroke-linecap="round" stroke-linejoin="round"/>
<path d="M1034.1 385.7L1030.6 397.6M1034.1 385.7L1024.1 376.7M1034.1 385.7L1054.5 382.1" fill="none" stroke="#d87888" stroke-width="8.1" stroke-linecap="round" stroke-linejoin="round"/><circle cx="1034.1" cy="385.7" r="5.5" fill="#d87888"/><circle cx="1034.1" cy="385.7" r="4.9" fill="#f4a4b0"/><path d="M1034.1 385.7L1030.6 397.6M1034.1 385.7L1024.1 376.7M1034.1 385.7L1054.5 382.1" fill="none" stroke="#f4a4b0" stroke-width="7" stroke-linecap="round" stroke-linejoin="round"/>
<path d="M932.2 586L939.4 616" fill="none" stroke="#7879c8" stroke-width="8.2" stroke-linecap="round"/><path d="M930.4 627.7Q928.3 618.7 939.3 615.7Q950.5 613.5 952.6 622.4" fill="none" stroke="#7879c8" stroke-width="7.2" stroke-linecap="round" stroke-linejoin="round"/><circle cx="939.1" cy="615" r="4.3" fill="#9a9be4"/><path d="M932.2 586L939.4 616" fill="none" stroke="#9a9be4" stroke-width="7" stroke-linecap="round"/><path d="M930.4 627.7Q928.3 618.7 939.3 615.7Q950.5 613.5 952.6 622.4" fill="none" stroke="#9a9be4" stroke-width="6" stroke-linecap="round" stroke-linejoin="round"/>
<path d="M946.3 633L942.5 622.7M946.3 633L940.9 641.7M946.3 633L964.8 638.5" fill="none" stroke="#d87888" stroke-width="8.1" stroke-linecap="round" stroke-linejoin="round"/><circle cx="946.3" cy="633" r="5.5" fill="#d87888"/><circle cx="946.3" cy="633" r="4.9" fill="#f4a4b0"/><path d="M946.3 633L942.5 622.7M946.3 633L940.9 641.7M946.3 633L964.8 638.5" fill="none" stroke="#f4a4b0" stroke-width="7" stroke-linecap="round" stroke-linejoin="round"/>
<rect x="843.9" y="402.5" width="70.6" height="22.3" rx="3.5" fill="#e6e6e6" stroke="#8c8c8c" stroke-width="1"/><text x="879.2" y="420.3" font-size="18" text-anchor="middle" fill="#8c8c8c">SHP1/2</text>
<path d="M879.2 424.8V435.7M875.2 435.7H883.2" stroke="#8c8c8c" stroke-width="1.1" fill="none"/>
<text x="877" y="453.6" font-size="18" text-anchor="middle" fill="#000">MAPK</text><text x="879.8" y="469.1" font-size="18" text-anchor="middle" fill="#000">signaling</text>
<rect x="843.9" y="476.7" width="70.6" height="22.3" rx="3.5" fill="#cdc65a" stroke="#86822e" stroke-width="1"/><text x="879.2" y="493.6" font-size="18" text-anchor="middle" fill="#000">B-raf</text>
<path d="M879.2 499V508.7" stroke="#000" stroke-width="1.2"/><path d="M879.2 512.1L875.8 506.7L879.2 508.4L882.6 506.7Z" fill="#000"/>
<rect x="843.9" y="512.1" width="70.6" height="21.7" rx="3.5" fill="#80d6d8" stroke="#3a9496" stroke-width="1"/><text x="879.2" y="529.7" font-size="18" text-anchor="middle" fill="#000">MEK1/2</text>
<path d="M879.2 533.8V543.7" stroke="#000" stroke-width="1.2"/><path d="M879.2 547.1L875.8 541.7L879.2 543.4L882.6 541.7Z" fill="#000"/>
<rect x="843.9" y="547.1" width="70.6" height="22.6" rx="3.5" fill="#90e6b8" stroke="#3c9c6c" stroke-width="1"/><text x="879.2" y="565.1" font-size="18" text-anchor="middle" fill="#000">ERK1/2</text>
<path d="M914.5 558.8H922.5Q926.8 558.8 926.8 554.5V499.5Q926.8 494.9 931.4 494.9H939" fill="none" stroke="#000" stroke-width="1.2"/><path d="M945.3 494.9L938.5 491.5L940 494.9L938.5 498.3Z" fill="#000"/>
<rect x="945.8" y="484.9" width="55.7" height="20.1" rx="3.5" fill="#7fc2f2" stroke="#2a6eb4" stroke-width="1"/><text x="973.6" y="500.6" font-size="18" text-anchor="middle" fill="#000">EST1</text>
<path d="M947.7 484.9V459.6H962.1M962.1 454.2V465.6" fill="none" stroke="#000" stroke-width="1.2"/>
<path d="M947.7 505V533Q947.7 537 951.7 537H958" fill="none" stroke="#000" stroke-width="1.2"/><path d="M964 537L957.2 533.6L958.7 537L957.2 540.4Z" fill="#000"/>
<text x="967.4" y="465.6" font-size="18" fill="#000">Apoptosis</text><text x="967.4" y="532.4" font-size="18" fill="#000">Cytotoxic</text><text x="967.4" y="553.4" font-size="18" fill="#000">activity</text>
<path d="M1026.8 357.5V371.5" stroke="#111" stroke-width="1.1"/>
<circle cx="590.3" cy="418.8" r="4.1" fill="#f5952c" stroke="#8a581a" stroke-width="1.1"/><circle cx="606.6" cy="413.9" r="4.1" fill="#2ba2dc" stroke="#155a8e" stroke-width="1.1"/><circle cx="573.4" cy="461" r="4.1" fill="#f5952c" stroke="#8a581a" stroke-width="1.1"/><circle cx="695.7" cy="380.2" r="4.1" fill="#f5952c" stroke="#8a581a" stroke-width="1.1"/><circle cx="709.9" cy="381.6" r="4.1" fill="#2ba2dc" stroke="#155a8e" stroke-width="1.1"/><circle cx="720.2" cy="369.9" r="4.1" fill="#f5952c" stroke="#8a581a" stroke-width="1.1"/><circle cx="734.6" cy="386.2" r="4.1" fill="#f5952c" stroke="#8a581a" stroke-width="1.1"/><circle cx="724.8" cy="393.8" r="4.1" fill="#2ba2dc" stroke="#155a8e" stroke-width="1.1"/><circle cx="736.5" cy="400.3" r="4.1" fill="#f5952c" stroke="#8a581a" stroke-width="1.1"/><circle cx="727.5" cy="413.4" r="4.1" fill="#2ba2dc" stroke="#155a8e" stroke-width="1.1"/><circle cx="760.4" cy="384" r="4.1" fill="#2ba2dc" stroke="#155a8e" stroke-width="1.1"/><circle cx="770.5" cy="435.7" r="4.1" fill="#2ba2dc" stroke="#155a8e" stroke-width="1.1"/><circle cx="786.8" cy="437.9" r="4.1" fill="#f5952c" stroke="#8a581a" stroke-width="1.1"/><circle cx="800.9" cy="439.8" r="4.1" fill="#2ba2dc" stroke="#155a8e" stroke-width="1.1"/><circle cx="771.8" cy="452.8" r="4.1" fill="#f5952c" stroke="#8a581a" stroke-width="1.1"/><circle cx="793.6" cy="451.4" r="4.1" fill="#2ba2dc" stroke="#155a8e" stroke-width="1.1"/><circle cx="764.5" cy="464.2" r="4.1" fill="#2ba2dc" stroke="#155a8e" stroke-width="1.1"/><circle cx="792.2" cy="471" r="4.1" fill="#2ba2dc" stroke="#155a8e" stroke-width="1.1"/><circle cx="810.7" cy="465.6" r="4.1" fill="#2ba2dc" stroke="#155a8e" stroke-width="1.1"/><circle cx="774.6" cy="487.3" r="4.1" fill="#f5952c" stroke="#8a581a" stroke-width="1.1"/><circle cx="785.4" cy="484.9" r="4.1" fill="#f5952c" stroke="#8a581a" stroke-width="1.1"/><circle cx="794.9" cy="493.6" r="4.1" fill="#f5952c" stroke="#8a581a" stroke-width="1.1"/><circle cx="805.3" cy="480.8" r="4.1" fill="#2ba2dc" stroke="#155a8e" stroke-width="1.1"/><circle cx="769.9" cy="507.2" r="4.1" fill="#2ba2dc" stroke="#155a8e" stroke-width="1.1"/><circle cx="808" cy="502.5" r="4.1" fill="#2ba2dc" stroke="#155a8e" stroke-width="1.1"/><circle cx="758.8" cy="531.6" r="4.1" fill="#2ba2dc" stroke="#155a8e" stroke-width="1.1"/><circle cx="775.1" cy="539" r="4.1" fill="#f5952c" stroke="#8a581a" stroke-width="1.1"/><circle cx="790" cy="539" r="4.1" fill="#2ba2dc" stroke="#155a8e" stroke-width="1.1"/><circle cx="800.4" cy="531.6" r="4.1" fill="#f5952c" stroke="#8a581a" stroke-width="1.1"/><circle cx="721.6" cy="556.6" r="4.1" fill="#2ba2dc" stroke="#155a8e" stroke-width="1.1"/><circle cx="736.5" cy="563.4" r="4.1" fill="#2ba2dc" stroke="#155a8e" stroke-width="1.1"/><circle cx="716.1" cy="568.3" r="4.1" fill="#2ba2dc" stroke="#155a8e" stroke-width="1.1"/><circle cx="754.7" cy="555.3" r="4.1" fill="#2ba2dc" stroke="#155a8e" stroke-width="1.1"/><circle cx="769.1" cy="567.5" r="4.1" fill="#f5952c" stroke="#8a581a" stroke-width="1.1"/><circle cx="811.8" cy="570.5" r="4.1" fill="#2ba2dc" stroke="#155a8e" stroke-width="1.1"/><circle cx="809.1" cy="422.9" r="4.1" fill="#f5952c" stroke="#8a581a" stroke-width="1.1"/><circle cx="830.3" cy="469.1" r="4.1" fill="#f5952c" stroke="#8a581a" stroke-width="1.1"/><circle cx="829.5" cy="528.4" r="4.1" fill="#f5952c" stroke="#8a581a" stroke-width="1.1"/><circle cx="852.6" cy="575.9" r="4.1" fill="#2ba2dc" stroke="#155a8e" stroke-width="1.1"/><circle cx="882.5" cy="581.9" r="4.1" fill="#f5952c" stroke="#8a581a" stroke-width="1.1"/><circle cx="860.7" cy="590.1" r="4.1" fill="#2ba2dc" stroke="#155a8e" stroke-width="1.1"/><circle cx="894.2" cy="603.7" r="4.1" fill="#f5952c" stroke="#8a581a" stroke-width="1.1"/><circle cx="871.6" cy="609.9" r="4.1" fill="#2ba2dc" stroke="#155a8e" stroke-width="1.1"/><circle cx="942.5" cy="578.7" r="4.1" fill="#2ba2dc" stroke="#155a8e" stroke-width="1.1"/>
<!-- p20_mac3 -->
<defs><radialGradient id="mg90292" gradientUnits="userSpaceOnUse" cx="162" cy="817" r="110"><stop offset="0" stop-color="#d6ebfd"/><stop offset="0.45" stop-color="#c3dffb"/><stop offset="0.74" stop-color="#a4cef7"/><stop offset="0.9" stop-color="#a8d1f8"/><stop offset="1" stop-color="#b4d8f9"/></radialGradient></defs>
<path d="M161.8 740.3C159.5 741.5 159.8 744.7 156 745.7C152.2 746.7 143.1 746.4 139 746.2C134.9 745.9 133.6 745.5 131.4 744.3C129.1 743 127.9 740.6 125.6 738.5C123.4 736.5 120.9 733.8 118 731.9C115.2 730 112 728.3 108.5 727.1C105 726 100.3 725 97.1 724.8C93.9 724.7 91.3 725.3 89.5 726.2C87.6 727 86.4 728.4 86.1 730C85.7 731.6 86.1 734.3 87.6 735.7C89.1 737.1 92 737.9 95.2 738.5C98.4 739.2 102.8 739 106.6 739.5C110.4 740 114.9 740.5 118 741.4C121.2 742.4 123.9 743.6 125.6 745.2C127.4 746.8 128.8 749.2 128.5 750.9C128.2 752.7 126.1 754.4 123.7 755.7C121.4 756.9 117.4 757.4 114.2 758.5C111.1 759.6 107.6 760.8 104.7 762.3C101.9 763.9 99.3 766.5 97.1 768.1C94.9 769.6 93 771.9 91.4 771.9C89.8 771.9 88.7 769.3 87.6 768.1C86.5 766.8 85.8 764.6 84.7 764.2C83.6 763.9 82 764.9 80.9 766.1C79.8 767.4 79.5 770.7 78.1 771.9C76.6 773 74.3 773.3 72.4 772.8C70.5 772.3 68.3 769.6 66.6 769C65 768.4 63.3 768.1 62.5 769C61.6 770 60.9 772.3 61.3 774.7C61.7 777.1 62.9 780.4 64.7 783.3C66.6 786.1 69.7 789.1 72.4 791.8C75.1 794.5 78.5 797.2 80.9 799.5C83.3 801.7 85.5 803.1 86.6 805.2C87.7 807.2 88.2 809.6 87.6 811.8C86.9 814 85.4 816.7 82.8 818.5C80.3 820.2 75.8 821 72.4 822.3C68.9 823.6 64.9 824.7 61.9 826.1C58.9 827.5 55.9 829.1 54.3 830.9C52.7 832.6 52.1 835.1 52.4 836.6C52.7 838 54.4 839.3 56.2 839.4C57.9 839.6 60.8 838.6 62.8 837.5C64.9 836.4 66.8 833.7 68.5 832.8C70.3 831.8 72.7 831.2 73.3 831.8C73.9 832.4 73.8 835 72.4 836.6C70.9 838.2 67.4 840.1 64.7 841.3C62 842.6 58.6 843.1 56.2 844.2C53.8 845.3 51.4 846.4 50.5 848C49.5 849.6 49.5 852.3 50.5 853.7C51.4 855.1 53.8 856.4 56.2 856.6C58.6 856.7 61.7 855.8 64.7 854.7C67.8 853.5 71.6 851.8 74.3 849.9C77 848 79 845.8 80.9 843.2C82.8 840.7 84.1 835.9 85.7 834.7C87.3 833.4 89.3 833.9 90.4 835.6C91.5 837.4 92.4 842.1 92.3 845.1C92.2 848.1 90.8 851.3 89.9 853.7C88.9 856.1 86.5 858 86.6 859.4C86.7 860.8 90 861.2 90.4 862.3C90.9 863.4 88.6 864.9 89.1 866.1C89.6 867.3 92.8 868.1 93.3 869.5C93.8 870.9 92.2 872.7 92.3 874.6C92.5 876.6 93.3 879.4 94.2 881.3C95.2 883.2 96.6 885.7 98.1 886.1C99.5 886.4 101.5 884.9 102.8 883.2C104.1 881.5 104.9 878 105.7 875.6C106.5 873.2 106.5 869.9 107.6 868.9C108.7 868 110.9 868.8 112.3 869.9C113.8 871 115.2 873.5 116.1 875.6C117.1 877.7 118.2 880.2 118 882.2C117.9 884.3 114.9 886.4 115.2 888C115.5 889.5 119.6 890.2 119.9 891.8C120.3 893.4 118.8 896.5 117.1 897.5C115.3 898.4 111.7 897 109.5 897.5C107.3 898 104.4 899.4 103.8 900.3C103.1 901.3 104.1 902.9 105.7 903.2C107.3 903.5 110.6 902.9 113.3 902.2C116 901.6 119.5 901 121.8 899.4C124.2 897.8 126.1 894.9 127.6 892.7C129 890.5 129.1 887.5 130.4 886.1C131.7 884.6 133.1 884 135.2 884.2C137.2 884.3 139.9 885.7 142.8 887C145.7 888.3 149.3 890.9 152.5 892.1C155.6 893.4 158.7 893.3 161.8 894.5C165 895.6 168.7 898.8 171.2 899.2C173.7 899.5 175.9 898.2 177.1 896.8C178.2 895.4 177.3 891.3 178.2 891C179.2 890.6 181.8 892.7 182.9 894.5C184.1 896.2 184.1 899.4 185.3 901.5C186.4 903.6 188.4 907 190 907.4C191.5 907.7 194.1 905.6 194.6 903.8C195.2 902.1 194.2 899.5 193.5 896.8C192.7 894.1 190.1 890 190 887.4C189.8 884.9 190.3 883.1 192.3 881.6C194.2 880 198.2 878.9 201.7 878.1C205.2 877.3 209.9 876.5 213.4 876.9C216.9 877.3 220.2 879.2 222.8 880.4C225.3 881.6 227.1 883.9 228.6 883.9C230.2 883.9 232.3 882 232.1 880.4C231.9 878.9 228.6 876.9 227.4 874.6C226.3 872.2 225.1 869.3 225.1 866.4C225.1 863.4 226.1 859.1 227.4 857C228.8 854.8 231.7 853.1 233.3 853.5C234.9 853.9 236.2 856.8 236.8 859.3C237.4 861.9 236.4 865.8 236.8 868.7C237.2 871.6 237.8 875.9 239.2 876.9C240.5 877.9 243.5 876.7 245 874.6C246.6 872.4 248.3 867.3 248.5 864C248.7 860.7 247.7 857.4 246.2 854.6C244.6 851.9 241.1 850 239.2 847.6C237.2 845.3 235.1 842.9 234.5 840.6C233.9 838.2 234.3 835.5 235.6 833.6C237 831.6 239.7 829.8 242.7 828.9C245.6 827.9 250.1 828.5 253.2 827.7C256.3 826.9 259.8 825.5 261.4 824.2C263 822.9 263.3 821.1 262.9 819.8C262.6 818.5 260.9 817.2 259.1 816.5C257.4 815.9 254.8 815.8 252.6 816C250.4 816.2 248.3 817.2 246.1 817.6C243.9 818 241.6 818.5 239.6 818.2C237.6 817.8 235.7 816.8 234.1 815.4C232.6 814.1 231.2 812 230.3 810C229.4 808 228.6 805.7 228.7 803.5C228.8 801.3 229.6 798.6 230.9 797C232.1 795.3 234.3 794.2 236.3 793.7C238.3 793.2 240.7 793.3 242.8 793.7C245 794.1 247.2 795.4 249.3 795.9C251.5 796.3 253.7 796.7 255.9 796.4C258 796.1 260.5 795.3 262.4 794.2C264.3 793.2 266.4 791.4 267.3 789.9C268.2 788.4 268.5 786.3 267.8 785C267.2 783.7 265.3 782.6 263.5 782.3C261.7 782 259.1 782.4 257 783C254.8 783.7 252.6 785.3 250.4 786.1C248.3 786.9 245.9 787.6 243.9 787.7C241.9 787.8 239.6 787.4 238.5 786.6C237.4 785.9 237 784.7 237.4 783.4C237.8 782 239.2 780 240.7 778.5C242.1 776.9 244.3 775.6 246.1 774.1C247.9 772.7 250.3 771.1 251.5 769.8C252.8 768.5 253.7 767.3 253.7 766.5C253.7 765.7 252.6 764.9 251.5 764.9C250.4 764.9 248.6 765.4 247.2 766.5C245.7 767.6 244.5 769.6 242.8 771.4C241.2 773.2 239.2 775.8 237.4 777.4C235.6 779 233.8 780.6 232 781.2C230.1 781.8 227.9 781.8 226.5 781.2C225.2 780.6 224 778.9 223.8 777.4C223.6 775.9 224.7 773.9 225.4 772C226.2 770 227.8 767.8 228.2 765.4C228.5 763.1 228.4 760.1 227.6 757.8C226.8 755.6 225.1 753.3 223.3 751.8C221.4 750.4 218.9 749.4 216.7 749.1C214.6 748.9 211.8 749.3 210.2 750.2C208.7 751.1 207.8 753.1 207.5 754.6C207.2 756 207.6 757.8 208.6 758.9C209.6 760 211.8 760.5 213.5 761.1C215.2 761.6 217.3 761.4 218.9 762.2C220.5 762.9 222.7 764 223.3 765.4C223.8 766.9 223.1 769.3 222.2 770.9C221.3 772.4 219.3 774.1 217.8 774.7C216.4 775.2 214.7 774.9 213.5 774.1C212.2 773.4 211.3 772 210.2 770.3C209.1 768.6 208 766.1 207 763.8C205.9 761.5 204.7 759 203.7 756.7C202.7 754.5 201.3 752.4 201 750.2C200.6 748 200.7 745.5 201.5 743.7C202.3 741.9 204.7 740.6 205.9 739.3C207 738.1 208.4 737 208.6 736.1C208.8 735.2 207.9 734 207 733.9C206.1 733.8 204.3 734.5 203.2 735.5C202 736.6 200.9 738.9 199.9 740.4C198.9 742 198.2 743.9 197.2 744.8C196.2 745.7 194.9 746.1 193.9 745.9C192.9 745.7 191.6 744.9 191.2 743.7C190.7 742.5 190.7 740.5 191.2 738.8C191.7 737.1 193 734.9 194.5 733.4C195.9 731.8 197.8 730.5 199.9 729.6C202 728.7 205 728.6 207 727.9C208.9 727.3 210.9 726.7 211.8 725.8C212.8 724.9 213 723.3 212.4 722.5C211.8 721.7 209.9 721.1 208 720.9C206.1 720.7 203.1 721 201 721.4C198.9 721.9 197.2 722.5 195.5 723.6C193.9 724.7 192.7 726.3 191.2 727.9C189.7 729.6 188 731.8 186.3 733.4C184.6 734.9 182.9 736.3 180.9 737.2C178.9 738.1 176.2 738.6 174.3 738.8C172.5 739 172.1 738.2 170 738.5C167.9 738.7 164.2 739.1 161.8 740.3Z" fill="url(#mg90292)" stroke="#7fb0e4" stroke-width="1"/>
<path d="M161.8 783.2C166.3 783.6 172.8 784.5 177.1 787.9C181.3 791.2 185 797.4 187.1 803.1C189.3 808.8 190.5 816 190 821.8C189.4 827.7 187.6 833.9 184.1 838.2C180.6 842.6 174.1 846.9 168.9 848.1C163.6 849.3 157.3 847.9 152.5 845.3C147.6 842.7 142.5 837.3 139.6 832.4C136.6 827.5 134.9 821.8 134.9 816C134.9 810.1 137 802.3 139.6 797.2C142.1 792.2 146.4 787.9 150.1 785.5C153.8 783.2 157.3 782.8 161.8 783.2Z" fill="url(#nucg)" stroke="#6f9fe0" stroke-width="1"/>
<path d="M165.4 758.6Q173.6 767.9 185.3 765.6" fill="none" stroke="#e38e7a" stroke-width="7.4" stroke-linecap="round"/><path d="M165.4 758.6Q173.6 767.9 185.3 765.6" fill="none" stroke="#f5ae9e" stroke-width="5.8" stroke-linecap="round"/>
<path d="M120.8 778.5Q109.8 781.5 106.8 792.5" fill="none" stroke="#e38e7a" stroke-width="7.4" stroke-linecap="round"/><path d="M120.8 778.5Q109.8 781.5 106.8 792.5" fill="none" stroke="#f5ae9e" stroke-width="5.8" stroke-linecap="round"/>
<path d="M193.5 788.6Q202.1 796.5 202.8 806.6" fill="none" stroke="#e38e7a" stroke-width="7.4" stroke-linecap="round"/><path d="M193.5 788.6Q202.1 796.5 202.8 806.6" fill="none" stroke="#f5ae9e" stroke-width="5.8" stroke-linecap="round"/>
<path d="M103.3 824.2Q114.5 822.3 120.8 814.8" fill="none" stroke="#e38e7a" stroke-width="7.4" stroke-linecap="round"/><path d="M103.3 824.2Q114.5 822.3 120.8 814.8" fill="none" stroke="#f5ae9e" stroke-width="5.8" stroke-linecap="round"/>
<path d="M109.1 841.8Q117.8 848.1 119.7 859.3" fill="none" stroke="#e38e7a" stroke-width="7.4" stroke-linecap="round"/><path d="M109.1 841.8Q117.8 848.1 119.7 859.3" fill="none" stroke="#f5ae9e" stroke-width="5.8" stroke-linecap="round"/>
<path d="M205.2 834Q215.3 835.4 222.8 844.1" fill="none" stroke="#e38e7a" stroke-width="7.4" stroke-linecap="round"/><path d="M205.2 834Q215.3 835.4 222.8 844.1" fill="none" stroke="#f5ae9e" stroke-width="5.8" stroke-linecap="round"/>
<path d="M191.1 860.5Q202.8 857.5 211 865.2" fill="none" stroke="#e38e7a" stroke-width="7.4" stroke-linecap="round"/><path d="M191.1 860.5Q202.8 857.5 211 865.2" fill="none" stroke="#f5ae9e" stroke-width="5.8" stroke-linecap="round"/>
<path d="M145.4 873.4Q154.8 879.2 166.5 873.9" fill="none" stroke="#e38e7a" stroke-width="7.4" stroke-linecap="round"/><path d="M145.4 873.4Q154.8 879.2 166.5 873.9" fill="none" stroke="#f5ae9e" stroke-width="5.8" stroke-linecap="round"/>
<path d="M133.3 759.7Q139.6 763.7 143.1 770.3" fill="none" stroke="#e38e7a" stroke-width="5.2" stroke-linecap="round"/><path d="M133.3 759.7Q139.6 763.7 143.1 770.3" fill="none" stroke="#f5ae9e" stroke-width="3.6" stroke-linecap="round"/>
<path d="M137.2 767.9Q140.3 773.8 139.6 779.2" fill="none" stroke="#e38e7a" stroke-width="5.2" stroke-linecap="round"/><path d="M137.2 767.9Q140.3 773.8 139.6 779.2" fill="none" stroke="#f5ae9e" stroke-width="3.6" stroke-linecap="round"/>
<path d="M143.1 767.5Q148.2 771 149.7 776.4" fill="none" stroke="#e38e7a" stroke-width="5.2" stroke-linecap="round"/><path d="M143.1 767.5Q148.2 771 149.7 776.4" fill="none" stroke="#f5ae9e" stroke-width="3.6" stroke-linecap="round"/>
<path d="M150.6 720.6L154.3 744.5" stroke="#76a636" stroke-width="7.6" stroke-linecap="round"/><circle cx="150.6" cy="720.6" r="7.6" fill="#76a636"/><path d="M150.6 720.6L154.3 744.5" stroke="#a0cd56" stroke-width="6.4" stroke-linecap="round"/><circle cx="150.6" cy="720.6" r="7" fill="#a0cd56"/><circle cx="149.2" cy="719.2" r="3.5" fill="#b4dc72" fill-opacity="0.7"/>
<path d="M62.7 803.1L85.7 809" stroke="#76a636" stroke-width="7.6" stroke-linecap="round"/><circle cx="62.7" cy="803.1" r="7.6" fill="#76a636"/><path d="M62.7 803.1L85.7 809" stroke="#a0cd56" stroke-width="6.4" stroke-linecap="round"/><circle cx="62.7" cy="803.1" r="7" fill="#a0cd56"/><circle cx="61.3" cy="801.7" r="3.5" fill="#b4dc72" fill-opacity="0.7"/>
<path d="M259.1 844.1L235.6 840.1" stroke="#76a636" stroke-width="7.6" stroke-linecap="round"/><circle cx="259.1" cy="844.1" r="7.6" fill="#76a636"/><path d="M259.1 844.1L235.6 840.1" stroke="#a0cd56" stroke-width="6.4" stroke-linecap="round"/><circle cx="259.1" cy="844.1" r="7" fill="#a0cd56"/><circle cx="257.7" cy="842.7" r="3.5" fill="#b4dc72" fill-opacity="0.7"/>
<path d="M137.9 912L147.3 890.3" stroke="#76a636" stroke-width="7.6" stroke-linecap="round"/><circle cx="137.9" cy="912" r="7.6" fill="#76a636"/><path d="M137.9 912L147.3 890.3" stroke="#a0cd56" stroke-width="6.4" stroke-linecap="round"/><circle cx="137.9" cy="912" r="7" fill="#a0cd56"/><circle cx="136.5" cy="910.6" r="3.5" fill="#b4dc72" fill-opacity="0.7"/>
<defs>
<radialGradient id="gnk" cx="0.5" cy="0.5" r="0.5"><stop offset="0" stop-color="#f5f5f5"/><stop offset="0.7" stop-color="#efefef"/><stop offset="0.9" stop-color="#e2e2e3"/><stop offset="1" stop-color="#cfcfd2"/></radialGradient>
<radialGradient id="gnn" cx="0.48" cy="0.56" r="0.52"><stop offset="0" stop-color="#ebebeb"/><stop offset="0.5" stop-color="#e0e0e0"/><stop offset="0.8" stop-color="#c0c0c1"/><stop offset="1" stop-color="#9c9c9e"/></radialGradient>
</defs>
<circle cx="389.9" cy="821.5" r="100.2" fill="url(#gnk)" stroke="#aaa3b3" stroke-width="1"/>
<circle cx="439.4" cy="825.4" r="42.1" fill="url(#gnn)" stroke="#88888c" stroke-width="0.9"/>
<!-- p21_mac4 -->
<defs><radialGradient id="mq90292" gradientUnits="userSpaceOnUse" cx="162" cy="817" r="110"><stop offset="0" stop-color="#dcedfd"/><stop offset="0.45" stop-color="#c3dffb"/><stop offset="0.74" stop-color="#b0d5f8"/><stop offset="0.9" stop-color="#bcdcfa"/><stop offset="1" stop-color="#bcdcfa"/></radialGradient></defs>
<g transform="translate(677.1,823.9) rotate(10.5) scale(0.9) translate(-162,-817)"><path d="M161.8 740.3C159.5 741.5 159.8 744.7 156 745.7C152.2 746.7 143.1 746.4 139 746.2C134.9 745.9 133.6 745.5 131.4 744.3C129.1 743 127.9 740.6 125.6 738.5C123.4 736.5 120.9 733.8 118 731.9C115.2 730 112 728.3 108.5 727.1C105 726 100.3 725 97.1 724.8C93.9 724.7 91.3 725.3 89.5 726.2C87.6 727 86.4 728.4 86.1 730C85.7 731.6 86.1 734.3 87.6 735.7C89.1 737.1 92 737.9 95.2 738.5C98.4 739.2 102.8 739 106.6 739.5C110.4 740 114.9 740.5 118 741.4C121.2 742.4 123.9 743.6 125.6 745.2C127.4 746.8 128.8 749.2 128.5 750.9C128.2 752.7 126.1 754.4 123.7 755.7C121.4 756.9 117.4 757.4 114.2 758.5C111.1 759.6 107.6 760.8 104.7 762.3C101.9 763.9 99.3 766.5 97.1 768.1C94.9 769.6 93 771.9 91.4 771.9C89.8 771.9 88.7 769.3 87.6 768.1C86.5 766.8 85.8 764.6 84.7 764.2C83.6 763.9 82 764.9 80.9 766.1C79.8 767.4 79.5 770.7 78.1 771.9C76.6 773 74.3 773.3 72.4 772.8C70.5 772.3 68.3 769.6 66.6 769C65 768.4 63.3 768.1 62.5 769C61.6 770 60.9 772.3 61.3 774.7C61.7 777.1 62.9 780.4 64.7 783.3C66.6 786.1 69.7 789.1 72.4 791.8C75.1 794.5 78.5 797.2 80.9 799.5C83.3 801.7 85.5 803.1 86.6 805.2C87.7 807.2 88.2 809.6 87.6 811.8C86.9 814 85.4 816.7 82.8 818.5C80.3 820.2 75.8 821 72.4 822.3C68.9 823.6 64.9 824.7 61.9 826.1C58.9 827.5 55.9 829.1 54.3 830.9C52.7 832.6 52.1 835.1 52.4 836.6C52.7 838 54.4 839.3 56.2 839.4C57.9 839.6 60.8 838.6 62.8 837.5C64.9 836.4 66.8 833.7 68.5 832.8C70.3 831.8 72.7 831.2 73.3 831.8C73.9 832.4 73.8 835 72.4 836.6C70.9 838.2 67.4 840.1 64.7 841.3C62 842.6 58.6 843.1 56.2 844.2C53.8 845.3 51.4 846.4 50.5 848C49.5 849.6 49.5 852.3 50.5 853.7C51.4 855.1 53.8 856.4 56.2 856.6C58.6 856.7 61.7 855.8 64.7 854.7C67.8 853.5 71.6 851.8 74.3 849.9C77 848 79 845.8 80.9 843.2C82.8 840.7 84.1 835.9 85.7 834.7C87.3 833.4 89.3 833.9 90.4 835.6C91.5 837.4 92.4 842.1 92.3 845.1C92.2 848.1 90.8 851.3 89.9 853.7C88.9 856.1 86.5 858 86.6 859.4C86.7 860.8 90 861.2 90.4 862.3C90.9 863.4 88.6 864.9 89.1 866.1C89.6 867.3 92.8 868.1 93.3 869.5C93.8 870.9 92.2 872.7 92.3 874.6C92.5 876.6 93.3 879.4 94.2 881.3C95.2 883.2 96.6 885.7 98.1 886.1C99.5 886.4 101.5 884.9 102.8 883.2C104.1 881.5 104.9 878 105.7 875.6C106.5 873.2 106.5 869.9 107.6 868.9C108.7 868 110.9 868.8 112.3 869.9C113.8 871 115.2 873.5 116.1 875.6C117.1 877.7 118.2 880.2 118 882.2C117.9 884.3 114.9 886.4 115.2 888C115.5 889.5 119.6 890.2 119.9 891.8C120.3 893.4 118.8 896.5 117.1 897.5C115.3 898.4 111.7 897 109.5 897.5C107.3 898 104.4 899.4 103.8 900.3C103.1 901.3 104.1 902.9 105.7 903.2C107.3 903.5 110.6 902.9 113.3 902.2C116 901.6 119.5 901 121.8 899.4C124.2 897.8 126.1 894.9 127.6 892.7C129 890.5 129.1 887.5 130.4 886.1C131.7 884.6 133.1 884 135.2 884.2C137.2 884.3 139.9 885.7 142.8 887C145.7 888.3 149.3 890.9 152.5 892.1C155.6 893.4 158.7 893.3 161.8 894.5C165 895.6 168.7 898.8 171.2 899.2C173.7 899.5 175.9 898.2 177.1 896.8C178.2 895.4 177.3 891.3 178.2 891C179.2 890.6 181.8 892.7 182.9 894.5C184.1 896.2 184.1 899.4 185.3 901.5C186.4 903.6 188.4 907 190 907.4C191.5 907.7 194.1 905.6 194.6 903.8C195.2 902.1 194.2 899.5 193.5 896.8C192.7 894.1 190.1 890 190 887.4C189.8 884.9 190.3 883.1 192.3 881.6C194.2 880 198.2 878.9 201.7 878.1C205.2 877.3 209.9 876.5 213.4 876.9C216.9 877.3 220.2 879.2 222.8 880.4C225.3 881.6 227.1 883.9 228.6 883.9C230.2 883.9 232.3 882 232.1 880.4C231.9 878.9 228.6 876.9 227.4 874.6C226.3 872.2 225.1 869.3 225.1 866.4C225.1 863.4 226.1 859.1 227.4 857C228.8 854.8 231.7 853.1 233.3 853.5C234.9 853.9 236.2 856.8 236.8 859.3C237.4 861.9 236.4 865.8 236.8 868.7C237.2 871.6 237.8 875.9 239.2 876.9C240.5 877.9 243.5 876.7 245 874.6C246.6 872.4 248.3 867.3 248.5 864C248.7 860.7 247.7 857.4 246.2 854.6C244.6 851.9 241.1 850 239.2 847.6C237.2 845.3 235.1 842.9 234.5 840.6C233.9 838.2 234.3 835.5 235.6 833.6C237 831.6 239.7 829.8 242.7 828.9C245.6 827.9 250.1 828.5 253.2 827.7C256.3 826.9 259.8 825.5 261.4 824.2C263 822.9 263.3 821.1 262.9 819.8C262.6 818.5 260.9 817.2 259.1 816.5C257.4 815.9 254.8 815.8 252.6 816C250.4 816.2 248.3 817.2 246.1 817.6C243.9 818 241.6 818.5 239.6 818.2C237.6 817.8 235.7 816.8 234.1 815.4C232.6 814.1 231.2 812 230.3 810C229.4 808 228.6 805.7 228.7 803.5C228.8 801.3 229.6 798.6 230.9 797C232.1 795.3 234.3 794.2 236.3 793.7C238.3 793.2 240.7 793.3 242.8 793.7C245 794.1 247.2 795.4 249.3 795.9C251.5 796.3 253.7 796.7 255.9 796.4C258 796.1 260.5 795.3 262.4 794.2C264.3 793.2 266.4 791.4 267.3 789.9C268.2 788.4 268.5 786.3 267.8 785C267.2 783.7 265.3 782.6 263.5 782.3C261.7 782 259.1 782.4 257 783C254.8 783.7 252.6 785.3 250.4 786.1C248.3 786.9 245.9 787.6 243.9 787.7C241.9 787.8 239.6 787.4 238.5 786.6C237.4 785.9 237 784.7 237.4 783.4C237.8 782 239.2 780 240.7 778.5C242.1 776.9 244.3 775.6 246.1 774.1C247.9 772.7 250.3 771.1 251.5 769.8C252.8 768.5 253.7 767.3 253.7 766.5C253.7 765.7 252.6 764.9 251.5 764.9C250.4 764.9 248.6 765.4 247.2 766.5C245.7 767.6 244.5 769.6 242.8 771.4C241.2 773.2 239.2 775.8 237.4 777.4C235.6 779 233.8 780.6 232 781.2C230.1 781.8 227.9 781.8 226.5 781.2C225.2 780.6 224 778.9 223.8 777.4C223.6 775.9 224.7 773.9 225.4 772C226.2 770 227.8 767.8 228.2 765.4C228.5 763.1 228.4 760.1 227.6 757.8C226.8 755.6 225.1 753.3 223.3 751.8C221.4 750.4 218.9 749.4 216.7 749.1C214.6 748.9 211.8 749.3 210.2 750.2C208.7 751.1 207.8 753.1 207.5 754.6C207.2 756 207.6 757.8 208.6 758.9C209.6 760 211.8 760.5 213.5 761.1C215.2 761.6 217.3 761.4 218.9 762.2C220.5 762.9 222.7 764 223.3 765.4C223.8 766.9 223.1 769.3 222.2 770.9C221.3 772.4 219.3 774.1 217.8 774.7C216.4 775.2 214.7 774.9 213.5 774.1C212.2 773.4 211.3 772 210.2 770.3C209.1 768.6 208 766.1 207 763.8C205.9 761.5 204.7 759 203.7 756.7C202.7 754.5 201.3 752.4 201 750.2C200.6 748 200.7 745.5 201.5 743.7C202.3 741.9 204.7 740.6 205.9 739.3C207 738.1 208.4 737 208.6 736.1C208.8 735.2 207.9 734 207 733.9C206.1 733.8 204.3 734.5 203.2 735.5C202 736.6 200.9 738.9 199.9 740.4C198.9 742 198.2 743.9 197.2 744.8C196.2 745.7 194.9 746.1 193.9 745.9C192.9 745.7 191.6 744.9 191.2 743.7C190.7 742.5 190.7 740.5 191.2 738.8C191.7 737.1 193 734.9 194.5 733.4C195.9 731.8 197.8 730.5 199.9 729.6C202 728.7 205 728.6 207 727.9C208.9 727.3 210.9 726.7 211.8 725.8C212.8 724.9 213 723.3 212.4 722.5C211.8 721.7 209.9 721.1 208 720.9C206.1 720.7 203.1 721 201 721.4C198.9 721.9 197.2 722.5 195.5 723.6C193.9 724.7 192.7 726.3 191.2 727.9C189.7 729.6 188 731.8 186.3 733.4C184.6 734.9 182.9 736.3 180.9 737.2C178.9 738.1 176.2 738.6 174.3 738.8C172.5 739 172.1 738.2 170 738.5C167.9 738.7 164.2 739.1 161.8 740.3Z" fill="url(#mq90292)" stroke="#8ab8e8" stroke-width="1.1"/></g>
<g transform="translate(677.3,826.6) rotate(6) scale(0.9) translate(-162,-817)"><path d="M161.8 783.2C166.3 783.6 172.8 784.5 177.1 787.9C181.3 791.2 185 797.4 187.1 803.1C189.3 808.8 190.5 816 190 821.8C189.4 827.7 187.6 833.9 184.1 838.2C180.6 842.6 174.1 846.9 168.9 848.1C163.6 849.3 157.3 847.9 152.5 845.3C147.6 842.7 142.5 837.3 139.6 832.4C136.6 827.5 134.9 821.8 134.9 816C134.9 810.1 137 802.3 139.6 797.2C142.1 792.2 146.4 787.9 150.1 785.5C153.8 783.2 157.3 782.8 161.8 783.2Z" fill="url(#nucg)" stroke="#6f9fe0" stroke-width="1"/></g>
<path d="M689.3 774.7Q694.1 783.7 706.6 785.4" fill="none" stroke="#e4a4a6" stroke-width="7" stroke-linecap="round"/><path d="M689.3 774.7Q694.1 783.7 706.6 785.4" fill="none" stroke="#f6c2c0" stroke-width="5.4" stroke-linecap="round"/>
<path d="M622.5 822.1Q633.7 822.5 641.5 816.7" fill="none" stroke="#e4a4a6" stroke-width="7" stroke-linecap="round"/><path d="M622.5 822.1Q633.7 822.5 641.5 816.7" fill="none" stroke="#f6c2c0" stroke-width="5.4" stroke-linecap="round"/>
<path d="M710.9 848Q722.1 849.7 726.4 860.9" fill="none" stroke="#e4a4a6" stroke-width="7" stroke-linecap="round"/><path d="M710.9 848Q722.1 849.7 726.4 860.9" fill="none" stroke="#f6c2c0" stroke-width="5.4" stroke-linecap="round"/>
<path d="M651.6 872.8Q659.6 879.9 671 877.1" fill="none" stroke="#e4a4a6" stroke-width="7" stroke-linecap="round"/><path d="M651.6 872.8Q659.6 879.9 671 877.1" fill="none" stroke="#f6c2c0" stroke-width="5.4" stroke-linecap="round"/>
<path d="M683.5 738L682.4 760.7" stroke="#9cc860" stroke-width="7.1" stroke-linecap="round"/><circle cx="683.5" cy="738" r="7.1" fill="#9cc860"/><path d="M683.5 738L682.4 760.7" stroke="#b7db7e" stroke-width="6" stroke-linecap="round"/><circle cx="683.5" cy="738" r="6.6" fill="#bfe08a"/><circle cx="683.5" cy="738" r="3.6" fill="#e2f2c4" fill-opacity="0.8"/>
<path d="M591.3 797.3L611.7 805.9" stroke="#9cc860" stroke-width="7.1" stroke-linecap="round"/><circle cx="591.3" cy="797.3" r="7.1" fill="#9cc860"/><path d="M591.3 797.3L611.7 805.9" stroke="#b7db7e" stroke-width="6" stroke-linecap="round"/><circle cx="591.3" cy="797.3" r="6.6" fill="#bfe08a"/><circle cx="591.3" cy="797.3" r="3.6" fill="#e2f2c4" fill-opacity="0.8"/>
<path d="M758.3 866.3L737.8 858.7" stroke="#9cc860" stroke-width="7.1" stroke-linecap="round"/><circle cx="758.3" cy="866.3" r="7.1" fill="#9cc860"/><path d="M758.3 866.3L737.8 858.7" stroke="#b7db7e" stroke-width="6" stroke-linecap="round"/><circle cx="758.3" cy="866.3" r="6.6" fill="#bfe08a"/><circle cx="758.3" cy="866.3" r="3.6" fill="#e2f2c4" fill-opacity="0.8"/>
<path d="M639.8 906.2L651.6 887.8" stroke="#9cc860" stroke-width="7.1" stroke-linecap="round"/><circle cx="639.8" cy="906.2" r="7.1" fill="#9cc860"/><path d="M639.8 906.2L651.6 887.8" stroke="#b7db7e" stroke-width="6" stroke-linecap="round"/><circle cx="639.8" cy="906.2" r="6.6" fill="#bfe08a"/><circle cx="639.8" cy="906.2" r="3.6" fill="#e2f2c4" fill-opacity="0.8"/>
<circle cx="667.8" cy="742.8" r="4.1" fill="#2ba2dc" stroke="#155a8e" stroke-width="1.1"/><circle cx="605.7" cy="766" r="4.1" fill="#f5952c" stroke="#8a581a" stroke-width="1.1"/><circle cx="627.9" cy="763.5" r="4.1" fill="#2ba2dc" stroke="#155a8e" stroke-width="1.1"/><circle cx="654.2" cy="763.9" r="4.1" fill="#f5952c" stroke="#8a581a" stroke-width="1.1"/><circle cx="727.7" cy="763.5" r="4.1" fill="#2ba2dc" stroke="#155a8e" stroke-width="1.1"/><circle cx="705.5" cy="775.1" r="4.1" fill="#f5952c" stroke="#8a581a" stroke-width="1.1"/><circle cx="662.8" cy="783.9" r="4.1" fill="#2ba2dc" stroke="#155a8e" stroke-width="1.1"/><circle cx="635.9" cy="791.3" r="4.1" fill="#f5952c" stroke="#8a581a" stroke-width="1.1"/><circle cx="691.5" cy="791.9" r="4.1" fill="#2ba2dc" stroke="#155a8e" stroke-width="1.1"/><circle cx="733.1" cy="789.8" r="4.1" fill="#2ba2dc" stroke="#155a8e" stroke-width="1.1"/><circle cx="750.8" cy="795.8" r="4.1" fill="#f5952c" stroke="#8a581a" stroke-width="1.1"/><circle cx="652" cy="805.3" r="4.1" fill="#f5952c" stroke="#8a581a" stroke-width="1.1"/><circle cx="621.9" cy="810.2" r="4.1" fill="#2ba2dc" stroke="#155a8e" stroke-width="1.1"/><circle cx="718.9" cy="810.2" r="4.1" fill="#2ba2dc" stroke="#155a8e" stroke-width="1.1"/><circle cx="756.6" cy="808.1" r="4.1" fill="#2ba2dc" stroke="#155a8e" stroke-width="1.1"/><circle cx="778.8" cy="809.2" r="4.1" fill="#2ba2dc" stroke="#155a8e" stroke-width="1.1"/><circle cx="754.4" cy="826.4" r="4.1" fill="#2ba2dc" stroke="#155a8e" stroke-width="1.1"/><circle cx="632.6" cy="838.9" r="4.1" fill="#2ba2dc" stroke="#155a8e" stroke-width="1.1"/><circle cx="722.8" cy="832.9" r="4.1" fill="#f5952c" stroke="#8a581a" stroke-width="1.1"/><circle cx="741.5" cy="836.8" r="4.1" fill="#2ba2dc" stroke="#155a8e" stroke-width="1.1"/><circle cx="755.1" cy="840.8" r="4.1" fill="#2ba2dc" stroke="#155a8e" stroke-width="1.1"/><circle cx="785.9" cy="832.2" r="4.1" fill="#2ba2dc" stroke="#155a8e" stroke-width="1.1"/><circle cx="641.9" cy="857" r="4.1" fill="#f5952c" stroke="#8a581a" stroke-width="1.1"/><circle cx="713.7" cy="859.2" r="4.1" fill="#2ba2dc" stroke="#155a8e" stroke-width="1.1"/><circle cx="683.5" cy="868.4" r="4.1" fill="#f5952c" stroke="#8a581a" stroke-width="1.1"/><circle cx="704.4" cy="873.8" r="4.1" fill="#2ba2dc" stroke="#155a8e" stroke-width="1.1"/><circle cx="731.4" cy="876" r="4.1" fill="#2ba2dc" stroke="#155a8e" stroke-width="1.1"/><circle cx="683.5" cy="881.8" r="4.1" fill="#2ba2dc" stroke="#155a8e" stroke-width="1.1"/><circle cx="713.1" cy="893.9" r="4.1" fill="#f5952c" stroke="#8a581a" stroke-width="1.1"/>
<defs>
<radialGradient id="nkg4" cx="0.5" cy="0.5" r="0.5"><stop offset="0" stop-color="#f3ecfd"/><stop offset="0.6" stop-color="#ebe1fa"/><stop offset="1" stop-color="#dbcbf4"/></radialGradient>
<radialGradient id="nkn4" cx="0.5" cy="0.5" r="0.5"><stop offset="0" stop-color="#cfbaf0"/><stop offset="0.65" stop-color="#c3a8ea"/><stop offset="1" stop-color="#b092e0"/></radialGradient>
</defs>
<circle cx="902.1" cy="815.8" r="100.5" fill="url(#nkg4)" stroke="#9a82cc" stroke-width="1"/>
<circle cx="952.3" cy="819.4" r="42.5" fill="url(#nkn4)" stroke="#9470c8" stroke-width="0.9"/>
<path d="M847.8 754L823.9 728.7" fill="none" stroke="#7879c8" stroke-width="8.2" stroke-linecap="round"/><path d="M825.8 714.1Q832.1 720.8 824.1 728.9Q815.5 736.5 809.2 729.8" fill="none" stroke="#7879c8" stroke-width="7.2" stroke-linecap="round" stroke-linejoin="round"/><circle cx="824.6" cy="729.4" r="4.3" fill="#9a9be4"/><path d="M847.8 754L823.9 728.7" fill="none" stroke="#9a9be4" stroke-width="7" stroke-linecap="round"/><path d="M825.8 714.1Q832.1 720.8 824.1 728.9Q815.5 736.5 809.2 729.8" fill="none" stroke="#9a9be4" stroke-width="6" stroke-linecap="round" stroke-linejoin="round"/>
<path d="M797.4 719.5L814.5 718M797.4 719.5L778.9 706.7M797.4 719.5L794.5 739.2" fill="none" stroke="#d87888" stroke-width="8.1" stroke-linecap="round" stroke-linejoin="round"/><circle cx="797.4" cy="719.5" r="5.5" fill="#d87888"/><circle cx="797.4" cy="719.5" r="4.9" fill="#f4a4b0"/><path d="M797.4 719.5L814.5 718M797.4 719.5L778.9 706.7M797.4 719.5L794.5 739.2" fill="none" stroke="#f4a4b0" stroke-width="7" stroke-linecap="round" stroke-linejoin="round"/>
<path d="M974.3 762.6L999.8 744.7" fill="none" stroke="#7879c8" stroke-width="8.2" stroke-linecap="round"/><path d="M1014 748.8Q1006.5 754 999.6 744.9Q993.4 735.3 1000.9 730.1" fill="none" stroke="#7879c8" stroke-width="7.2" stroke-linecap="round" stroke-linejoin="round"/><circle cx="999" cy="745.3" r="4.3" fill="#9a9be4"/><path d="M974.3 762.6L999.8 744.7" fill="none" stroke="#9a9be4" stroke-width="7" stroke-linecap="round"/><path d="M1014 748.8Q1006.5 754 999.6 744.9Q993.4 735.3 1000.9 730.1" fill="none" stroke="#9a9be4" stroke-width="6" stroke-linecap="round" stroke-linejoin="round"/>
<path d="M1026.1 741L1010.5 738.2M1026.1 741L1040.3 729.7M1026.1 741L1027.6 758" fill="none" stroke="#d87888" stroke-width="8.1" stroke-linecap="round" stroke-linejoin="round"/><circle cx="1026.1" cy="741" r="5.5" fill="#d87888"/><circle cx="1026.1" cy="741" r="4.9" fill="#f4a4b0"/><path d="M1026.1 741L1010.5 738.2M1026.1 741L1040.3 729.7M1026.1 741L1027.6 758" fill="none" stroke="#f4a4b0" stroke-width="7" stroke-linecap="round" stroke-linejoin="round"/>
<path d="M847.8 884.9L823.7 904.3" fill="none" stroke="#7879c8" stroke-width="8.2" stroke-linecap="round"/><path d="M809.3 901.3Q816.5 895.6 824 904.2Q830.8 913.3 823.7 919.1" fill="none" stroke="#7879c8" stroke-width="7.2" stroke-linecap="round" stroke-linejoin="round"/><circle cx="824.5" cy="903.7" r="4.3" fill="#9a9be4"/><path d="M847.8 884.9L823.7 904.3" fill="none" stroke="#9a9be4" stroke-width="7" stroke-linecap="round"/><path d="M809.3 901.3Q816.5 895.6 824 904.2Q830.8 913.3 823.7 919.1" fill="none" stroke="#9a9be4" stroke-width="6" stroke-linecap="round" stroke-linejoin="round"/>
<path d="M800.3 906.5L814.5 913.8M800.3 906.5L801.7 892.4M800.3 906.5L783.3 917.8" fill="none" stroke="#d87888" stroke-width="8.1" stroke-linecap="round" stroke-linejoin="round"/><circle cx="800.3" cy="906.5" r="5.5" fill="#d87888"/><circle cx="800.3" cy="906.5" r="4.9" fill="#f4a4b0"/><path d="M800.3 906.5L814.5 913.8M800.3 906.5L801.7 892.4M800.3 906.5L783.3 917.8" fill="none" stroke="#f4a4b0" stroke-width="7" stroke-linecap="round" stroke-linejoin="round"/>
<circle cx="799.7" cy="766.9" r="4.1" fill="#f5952c" stroke="#8a581a" stroke-width="1.1"/><circle cx="823.9" cy="790.8" r="4.1" fill="#f5952c" stroke="#8a581a" stroke-width="1.1"/><circle cx="813.8" cy="798.6" r="4.1" fill="#2ba2dc" stroke="#155a8e" stroke-width="1.1"/><circle cx="812.1" cy="846.1" r="4.1" fill="#f5952c" stroke="#8a581a" stroke-width="1.1"/><circle cx="828.2" cy="861.3" r="4.1" fill="#2ba2dc" stroke="#155a8e" stroke-width="1.1"/><circle cx="816.1" cy="884.9" r="4.1" fill="#f5952c" stroke="#8a581a" stroke-width="1.1"/><circle cx="864.2" cy="882.9" r="4.1" fill="#f5952c" stroke="#8a581a" stroke-width="1.1"/><circle cx="919.7" cy="904.5" r="4.1" fill="#f5952c" stroke="#8a581a" stroke-width="1.1"/><circle cx="870.8" cy="920" r="4.1" fill="#2ba2dc" stroke="#155a8e" stroke-width="1.1"/>
<!-- p30_mouse -->
<defs><radialGradient id="mtbg486" cx="0.5" cy="0.5" r="0.5"><stop offset="0" stop-color="#e4f7fc"/><stop offset="0.7" stop-color="#d2f1f9"/><stop offset="1" stop-color="#beeaf6"/></radialGradient><linearGradient id="cone486" gradientUnits="userSpaceOnUse" x1="416.9" y1="1003.4" x2="486" y2="949.8"><stop offset="0" stop-color="#a8e2f2" stop-opacity="0.9"/><stop offset="0.55" stop-color="#c4ecf7" stop-opacity="0.5"/><stop offset="1" stop-color="#d8f3fa" stop-opacity="0.25"/></linearGradient></defs>
<path d="M417.9 1002.4L457 966.3L480 982.4Z" fill="url(#cone486)"/>
<circle cx="486" cy="949.8" r="33.3" fill="url(#mtbg486)"/>
<path d="M463.2 941Q478.3 935.1 487.8 948" fill="none" stroke="#e38e7a" stroke-width="8.2" stroke-linecap="round"/><path d="M463.2 941Q478.3 935.1 487.8 948" fill="none" stroke="#f5ae9e" stroke-width="6.6" stroke-linecap="round"/>
<path d="M472 956.8Q477.2 970.1 493 974.3" fill="none" stroke="#e38e7a" stroke-width="8.2" stroke-linecap="round"/><path d="M472 956.8Q477.2 970.1 493 974.3" fill="none" stroke="#f5ae9e" stroke-width="6.6" stroke-linecap="round"/>
<path d="M500 935.8Q510.5 948 501.8 962.1" fill="none" stroke="#e38e7a" stroke-width="8.2" stroke-linecap="round"/><path d="M500 935.8Q510.5 948 501.8 962.1" fill="none" stroke="#f5ae9e" stroke-width="6.6" stroke-linecap="round"/>
<path d="M418.9 1000.4Q431.9 991.4 447.9 988.4M419.9 1002.4Q434.9 999.4 450.9 1002.4M418.9 1001.4Q430.9 995.4 443.9 993.4" fill="none" stroke="#9ccbe0" stroke-width="0.7"/>
<path d="M181.7 988.3C178.7 987.3 169.5 988 163.5 988C157.5 988 153.1 987.4 146 988.3C138.9 989.3 127.3 990.8 120.7 993.6C114.1 996.4 109.6 1000.7 106.4 1005.2C103.2 1009.6 101.4 1015.3 101.5 1020.2C101.5 1025.2 103.8 1030.5 106.7 1035C109.6 1039.5 115 1043.8 119 1047.2C123 1050.7 129 1054 130.6 1055.6C132.1 1057.3 131 1058.2 128.5 1057.4C125.9 1056.6 119.6 1054.5 115.1 1051.1C110.6 1047.7 104.7 1042.2 101.5 1037.1C98.3 1031.9 95.9 1025 95.9 1020.2C95.9 1015.5 97.7 1011.8 101.5 1008.3C105.3 1004.8 111.2 1001.6 118.6 999.2C126.1 996.9 138.5 995.2 146 994.3C153.5 993.4 157.5 994 163.5 994C169.5 994 178.7 995.2 181.7 994.3C184.8 993.4 184.8 989.4 181.7 988.3Z" fill="#f3ccd4" stroke="#dcaab6" stroke-width="0.8"/>
<path d="M355.6 969.8C352.4 967.4 355.2 959 355.6 955.8C356 952.5 356.9 951.1 358 950.5C359.1 949.9 360.3 950.1 362.2 951.9C364.2 953.7 367.6 958.4 369.6 961.4C371.6 964.3 376.8 968.4 374.5 969.8C372.2 971.2 358.7 972.1 355.6 969.8Z" fill="#f3c8d0" stroke="#d9a9b4" stroke-width="0.8"/>
<defs><linearGradient id="mb0" x1="0" y1="0" x2="0" y2="1"><stop offset="0" stop-color="#fafaf9"/><stop offset="0.55" stop-color="#f4f4f2"/><stop offset="0.85" stop-color="#e9e8e6"/><stop offset="1" stop-color="#dddad8"/></linearGradient></defs>
<path d="M335.3 1050.4C336.1 1049.3 337.8 1048.3 339.5 1048.3C341.1 1048.3 343 1049.6 345.1 1050.4C347.1 1051.2 350.3 1052.1 351.7 1053.2C353.2 1054.2 354.5 1055.7 353.8 1056.7C353.1 1057.7 350 1059 347.5 1059.2C345 1059.3 340.9 1058.2 338.8 1057.4C336.6 1056.6 335.1 1055.8 334.6 1054.6C334 1053.4 334.4 1051.4 335.3 1050.4Z" fill="#f3c6ce" stroke="#dba9b4" stroke-width="0.7"/>
<path d="M291.4 1054.9C292.5 1053.5 298 1052.6 300.2 1053.2C302.4 1053.8 302.5 1057 304.4 1058.5C306.3 1059.9 309.9 1060.3 311.4 1061.6C312.9 1062.9 315.3 1065.3 313.5 1066.2C311.8 1067 304.2 1067.6 300.9 1066.9C297.6 1066.2 295.5 1063.9 293.9 1062C292.3 1060 290.4 1056.4 291.4 1054.9Z" fill="#f3c6ce" stroke="#dba9b4" stroke-width="0.7"/>
<path d="M328.2 1040.2C330.1 1038.7 339.2 1036.4 341.6 1037.8C344 1039.1 343.1 1046.1 342.6 1048.3C342.1 1050.5 340.2 1050.6 338.8 1051.1C337.3 1051.6 335.2 1051.8 333.9 1051.1C332.5 1050.4 331.6 1048.7 330.7 1046.9C329.8 1045.1 326.4 1041.7 328.2 1040.2Z" fill="#ebeae8" stroke="#cfc9c9" stroke-width="0.8"/>
<path d="M179.3 991.9C179.7 986.9 180 982.5 181.7 977.8C183.5 973.2 186.1 968.1 189.8 963.8C193.5 959.5 198.3 955.5 203.8 952.2C209.4 949 215.8 946.4 223.1 944.5C230.4 942.7 239.4 941.1 247.6 941C255.8 940.9 264.3 942.1 272.2 943.8C280 945.6 287.9 948.6 294.9 951.5C302 954.5 308.1 958.8 314.2 961.4C320.4 963.9 325.9 965.7 331.7 967C337.6 968.3 342.8 968.1 349.3 969.1C355.7 970 363.6 970.4 370.3 972.6C377 974.8 383.4 978.8 389.6 982.4C395.7 986 402.3 990.9 407.1 994.3C411.9 997.7 417.2 1000.4 418.3 1002.7C419.5 1005.1 416.9 1006 414.1 1008.3C411.4 1010.6 406.8 1013.6 401.9 1016.4C396.9 1019.2 390.2 1022.5 384.3 1025.2C378.5 1027.8 372.6 1030.1 366.8 1032.2C361 1034.2 354.2 1036 349.3 1037.4C344.3 1038.9 340.5 1039.9 337 1040.9C333.5 1041.9 332.6 1042.8 328.2 1043.4C323.9 1044 315.1 1043.7 310.7 1044.4C306.3 1045.2 304 1046.4 302 1047.9C299.9 1049.5 302.2 1052.6 298.5 1053.9C294.7 1055.2 286.5 1055.9 279.2 1056C271.9 1056.1 262.8 1055 254.6 1054.2C246.5 1053.5 237.1 1053.4 230.1 1051.4C223.1 1049.5 217.8 1044.4 212.6 1042.7C207.3 1040.9 202.4 1041.5 198.6 1040.9C194.8 1040.3 192.4 1041.8 189.8 1039.2C187.2 1036.5 184.5 1030.4 182.8 1025.2C181 1019.9 179.9 1013.2 179.3 1007.6C178.7 1002.1 178.9 996.8 179.3 991.9Z" fill="url(#mb0)" stroke="#cfc9c9" stroke-width="0.9"/>
<path d="M193.3 1040.2C197 1039.8 207.8 1040.2 212.6 1041.3C217.3 1042.3 220.4 1044.8 221.7 1046.5C223 1048.3 223 1051 220.3 1051.8C217.6 1052.6 209.8 1052 205.6 1051.4C201.4 1050.9 197.6 1049.5 195.1 1048.3C192.5 1047.1 190.4 1045.4 190.1 1044.1C189.9 1042.7 189.6 1040.7 193.3 1040.2Z" fill="#ecebe9" stroke="#cfc9c9" stroke-width="0.9"/>
<path d="M317.7 976.8C316.9 973.2 318.6 968.5 321.2 965.6C323.9 962.6 329.4 959.5 333.5 959.3C337.6 959 342.7 961.3 345.8 963.8C348.9 966.3 351.5 970.8 352.1 974.3C352.7 977.8 351.5 982.3 349.3 984.8C347.1 987.4 342.6 989 338.8 989.4C335 989.8 330 989.4 326.5 987.3C323 985.2 318.6 980.4 317.7 976.8Z" fill="#f1c3cd" stroke="#d9a9b4" stroke-width="0.8"/>
<ellipse cx="379.1" cy="986.6" rx="6" ry="3.8" transform="rotate(-8 379.1 986.6)" fill="#2f2f31"/><circle cx="381.3" cy="986.9" r="1.1" fill="#fff"/>
<path d="M413.1 1004.1Q401.9 1008.3 387.1 1021.6M411.7 1006.2Q401.1 1013.9 390.6 1032.9M414.5 1006.6Q407.1 1018.1 401.9 1032.9M412.4 1005.2Q402.6 1011.8 395.5 1025.2" fill="none" stroke="#b5afaf" stroke-width="0.7"/>
<circle cx="416.9" cy="1003.4" r="3.6" fill="#c48a8a" stroke="#a87474" stroke-width="0.5"/>
<defs><radialGradient id="lg2600" cx="0.5" cy="0.45" r="0.6"><stop offset="0" stop-color="#dcb2b0"/><stop offset="1" stop-color="#d2a2a2"/></radialGradient></defs><path d="M250.6 961.7C252.2 961.2 253 962.1 253.6 963.5C254.3 964.9 254.5 967.7 254.5 970.2C254.5 972.7 254 975.9 253.6 978.7C253.3 981.6 252.4 984.4 252.4 987.3C252.4 990.1 253.6 993.1 253.6 995.8C253.6 998.4 253.3 1001.3 252.4 1003.1C251.5 1004.9 249.7 1006 248.1 1006.8C246.5 1007.5 244.4 1007.8 242.6 1007.4C240.9 1007 239.1 1005.9 237.8 1004.3C236.4 1002.7 235.2 1000.5 234.7 997.6C234.3 994.8 234.5 990.9 235.1 987.3C235.7 983.6 236.9 979.1 238.4 975.7C239.8 972.2 241.8 968.9 243.9 966.5C245.9 964.2 248.9 962.2 250.6 961.7Z" fill="url(#lg2600)" stroke="#ad8284" stroke-width="0.7"/><path d="M270.7 962.7C272.2 962.9 274.9 963.7 276.8 965.3C278.6 967 280.3 969.6 281.6 972.6C282.9 975.7 284.1 980 284.7 983.6C285.2 987.3 285.3 991.5 285 994.6C284.7 997.6 284.2 1000.1 282.8 1001.9C281.5 1003.7 279 1004.7 276.8 1005.5C274.5 1006.3 271.2 1006.7 269.4 1006.8C267.7 1006.8 267 1008.4 266.4 1005.8C265.8 1003.1 265.9 995.4 265.8 990.9C265.7 986.4 265.7 982.4 265.8 978.7C265.9 975.1 266.1 971.4 266.4 969C266.7 966.5 267 965.2 267.7 964.1C268.4 963.1 269.2 962.4 270.7 962.7Z" fill="url(#lg2600)" stroke="#ad8284" stroke-width="0.7"/><path d="M253.8 984.3C255.1 984.1 258.6 986.3 260.2 988.2C261.7 990.1 262.6 993.1 263.1 995.8C263.6 998.4 264.2 1003.1 263.4 1004.1C262.5 1005.1 259.8 1003.2 258.2 1001.9C256.7 1000.6 254.8 998.4 253.8 996.4C252.9 994.4 252.6 991.7 252.6 989.7C252.6 987.7 252.6 984.6 253.8 984.3Z" fill="#a47a84" stroke="#ad8284" stroke-width="0.5"/><circle cx="242" cy="990.9" r="2.2" fill="#ee8a88" fill-opacity="0.55"/><circle cx="244.5" cy="998.2" r="1.9" fill="#ee8a88" fill-opacity="0.55"/><circle cx="240.2" cy="983.6" r="1.5" fill="#ee8a88" fill-opacity="0.55"/><circle cx="273.1" cy="988.5" r="2.4" fill="#ee8a88" fill-opacity="0.55"/><circle cx="278" cy="994.6" r="1.9" fill="#ee8a88" fill-opacity="0.55"/><circle cx="271.3" cy="998.2" r="1.7" fill="#ee8a88" fill-opacity="0.55"/><circle cx="279.2" cy="983.6" r="1.3" fill="#ee8a88" fill-opacity="0.55"/><path d="M260.3 950.1L260.3 967.2" stroke="#d84a4a" stroke-width="2.6" stroke-linecap="round" fill="none"/><path d="M260.3 966.2Q251.2 977.5 248.4 987.3T247.8 994" stroke="#d84a4a" stroke-width="1.8" stroke-linecap="round" fill="none"/><path d="M260.3 966.2Q268.2 976.3 272.1 984.8T274.6 991.5" stroke="#d84a4a" stroke-width="1.8" stroke-linecap="round" fill="none"/><path d="M252.4 976.3L246.9 972.6M250 981.2L243.3 981.2M248.7 987.3L242 990.9M248.2 990.9L251.2 998.2M247.8 994L243.9 1000.1M267.6 975.7L273.1 970.8M270.7 981.2L277.4 978.7M272.5 986L279.2 987.3M273.7 989.7L271.3 996.4M274.6 991.5L279.2 997" stroke="#d84a4a" stroke-width="0.8" stroke-linecap="round" fill="none"/>
<path d="M73.8 914.7L236.8 978.1M283.5 976.7L445.3 915.2" fill="none" stroke="#222" stroke-width="1.2" stroke-dasharray="3 2.4"/>
<g transform="translate(71.8,927.5) rotate(60.5)"><rect x="0" y="-4.4" width="1.6" height="8.8" rx="0.8" fill="#9aa0a8"/><rect x="1.4" y="-1.2" width="16" height="2.4" fill="#c3c7cd" stroke="#a2a7ae" stroke-width="0.4"/><rect x="15.6" y="-5" width="1.7" height="10" rx="0.8" fill="#8f959d"/><rect x="17" y="-2.7" width="39" height="5.4" rx="1" fill="#eef0f3" stroke="#9aa0a8" stroke-width="0.7"/><rect x="42.5" y="-3.2" width="13.8" height="6.4" rx="0.8" fill="#e32626"/><rect x="40.2" y="-2.9" width="2.6" height="5.8" fill="#5e6268"/><path d="M22 -2.7v2.2M27 -2.7v2.2M32 -2.7v2.2M37 -2.7v2.2" stroke="#9aa0a8" stroke-width="0.5"/><path d="M56.3 -2.1L65.5 -0.8V0.8L56.3 2.1Z" fill="#2fb5a2"/><path d="M65 0H83.9" stroke="#7d848c" stroke-width="0.9"/></g>
<defs><radialGradient id="mtbg1012" cx="0.5" cy="0.5" r="0.5"><stop offset="0" stop-color="#e4f7fc"/><stop offset="0.7" stop-color="#d2f1f9"/><stop offset="1" stop-color="#beeaf6"/></radialGradient><linearGradient id="cone1012" gradientUnits="userSpaceOnUse" x1="947.1" y1="1003.4" x2="1012" y2="950.5"><stop offset="0" stop-color="#a8e2f2" stop-opacity="0.9"/><stop offset="0.55" stop-color="#c4ecf7" stop-opacity="0.5"/><stop offset="1" stop-color="#d8f3fa" stop-opacity="0.25"/></linearGradient></defs>
<path d="M948.1 1002.4L983 967L1006 983.1Z" fill="url(#cone1012)"/>
<circle cx="1012" cy="950.5" r="33.3" fill="url(#mtbg1012)"/>
<path d="M989.2 941.7Q1004.3 935.8 1013.8 948.7" fill="none" stroke="#e38e7a" stroke-width="8.2" stroke-linecap="round"/><path d="M989.2 941.7Q1004.3 935.8 1013.8 948.7" fill="none" stroke="#f5ae9e" stroke-width="6.6" stroke-linecap="round"/>
<path d="M998 957.5Q1003.2 970.8 1019 975" fill="none" stroke="#e38e7a" stroke-width="8.2" stroke-linecap="round"/><path d="M998 957.5Q1003.2 970.8 1019 975" fill="none" stroke="#f5ae9e" stroke-width="6.6" stroke-linecap="round"/>
<path d="M1026 936.5Q1036.5 948.7 1027.8 962.8" fill="none" stroke="#e38e7a" stroke-width="8.2" stroke-linecap="round"/><path d="M1026 936.5Q1036.5 948.7 1027.8 962.8" fill="none" stroke="#f5ae9e" stroke-width="6.6" stroke-linecap="round"/>
<path d="M949.1 1000.4Q962.1 991.4 978.1 988.4M950.1 1002.4Q965.1 999.4 981.1 1002.4M949.1 1001.4Q961.1 995.4 974.1 993.4" fill="none" stroke="#9ccbe0" stroke-width="0.7"/>
<path d="M714.7 988.3C711.7 987.3 702.6 988 696.7 988C690.8 988 686.4 987.4 679.4 988.3C672.3 989.3 661 990.8 654.4 993.6C647.9 996.4 643.4 1000.7 640.2 1005.2C637.1 1009.6 635.3 1015.3 635.4 1020.2C635.5 1025.2 637.7 1030.5 640.6 1035C643.5 1039.5 648.8 1043.8 652.7 1047.2C656.6 1050.7 662.6 1054 664.1 1055.6C665.7 1057.3 664.6 1058.2 662.1 1057.4C659.5 1056.6 653.3 1054.5 648.9 1051.1C644.5 1047.7 638.6 1042.2 635.4 1037.1C632.2 1031.9 629.9 1025 629.9 1020.2C629.9 1015.5 631.6 1011.8 635.4 1008.3C639.2 1004.8 645 1001.6 652.4 999.2C659.7 996.9 672 995.2 679.4 994.3C686.8 993.4 690.8 994 696.7 994C702.6 994 711.7 995.2 714.7 994.3C717.7 993.4 717.7 989.4 714.7 988.3Z" fill="#f3ccd4" stroke="#dcaab6" stroke-width="0.8"/>
<path d="M886.5 969.8C883.4 967.4 886.1 959 886.5 955.8C886.9 952.5 887.8 951.1 888.9 950.5C890 949.9 891.1 950.1 893 951.9C895 953.7 898.3 958.4 900.3 961.4C902.3 964.3 907.5 968.4 905.2 969.8C902.9 971.2 889.6 972.1 886.5 969.8Z" fill="#f3c8d0" stroke="#d9a9b4" stroke-width="0.8"/>
<defs><linearGradient id="mb533" x1="0" y1="0" x2="0" y2="1"><stop offset="0" stop-color="#fafaf9"/><stop offset="0.55" stop-color="#f4f4f2"/><stop offset="0.85" stop-color="#e9e8e6"/><stop offset="1" stop-color="#dddad8"/></linearGradient></defs>
<path d="M866.4 1050.4C867.2 1049.3 868.9 1048.3 870.5 1048.3C872.2 1048.3 874.1 1049.6 876.1 1050.4C878.1 1051.2 881.2 1052.1 882.7 1053.2C884.1 1054.2 885.4 1055.7 884.7 1056.7C884 1057.7 881 1059 878.5 1059.2C876 1059.3 872 1058.2 869.8 1057.4C867.7 1056.6 866.3 1055.8 865.7 1054.6C865.1 1053.4 865.6 1051.4 866.4 1050.4Z" fill="#f3c6ce" stroke="#dba9b4" stroke-width="0.7"/>
<path d="M823.1 1054.9C824.1 1053.5 829.6 1052.6 831.8 1053.2C833.9 1053.8 834.1 1057 835.9 1058.5C837.8 1059.9 841.3 1060.3 842.8 1061.6C844.3 1062.9 846.6 1065.3 844.9 1066.2C843.2 1067 835.7 1067.6 832.4 1066.9C829.2 1066.2 827.1 1063.9 825.5 1062C824 1060 822.1 1056.4 823.1 1054.9Z" fill="#f3c6ce" stroke="#dba9b4" stroke-width="0.7"/>
<path d="M859.5 1040.2C861.2 1038.7 870.2 1036.4 872.6 1037.8C875 1039.1 874.1 1046.1 873.7 1048.3C873.2 1050.5 871.3 1050.6 869.8 1051.1C868.4 1051.6 866.3 1051.8 865 1051.1C863.7 1050.4 862.8 1048.7 861.9 1046.9C861 1045.1 857.7 1041.7 859.5 1040.2Z" fill="#ebeae8" stroke="#cfc9c9" stroke-width="0.8"/>
<path d="M712.3 991.9C712.7 986.9 713 982.5 714.7 977.8C716.4 973.2 719 968.1 722.7 963.8C726.3 959.5 731 955.5 736.5 952.2C742 949 748.4 946.4 755.6 944.5C762.8 942.7 771.7 941.1 779.8 941C787.9 940.9 796.3 942.1 804 943.8C811.8 945.6 819.6 948.6 826.6 951.5C833.5 954.5 839.5 958.8 845.6 961.4C851.7 963.9 857.1 965.7 862.9 967C868.7 968.3 873.9 968.1 880.2 969.1C886.6 970 894.4 970.4 901 972.6C907.7 974.8 914 978.8 920.1 982.4C926.1 986 932.6 990.9 937.4 994.3C942.1 997.7 947.3 1000.4 948.5 1002.7C949.6 1005.1 947 1006 944.3 1008.3C941.6 1010.6 937.1 1013.6 932.2 1016.4C927.3 1019.2 920.6 1022.5 914.9 1025.2C909.1 1027.8 903.3 1030.1 897.5 1032.2C891.8 1034.2 885.1 1036 880.2 1037.4C875.3 1038.9 871.6 1039.9 868.1 1040.9C864.7 1041.9 863.8 1042.8 859.5 1043.4C855.1 1044 846.5 1043.7 842.1 1044.4C837.8 1045.2 835.5 1046.4 833.5 1047.9C831.5 1049.5 833.8 1052.6 830 1053.9C826.3 1055.2 818.2 1055.9 811 1056C803.8 1056.1 794.8 1055 786.7 1054.2C778.7 1053.5 769.4 1053.4 762.5 1051.4C755.6 1049.5 750.4 1044.4 745.2 1042.7C740 1040.9 735.1 1041.5 731.3 1040.9C727.6 1040.3 725.3 1041.8 722.7 1039.2C720.1 1036.5 717.5 1030.4 715.7 1025.2C714 1019.9 712.9 1013.2 712.3 1007.6C711.7 1002.1 711.9 996.8 712.3 991.9Z" fill="url(#mb533)" stroke="#cfc9c9" stroke-width="0.9"/>
<path d="M726.1 1040.2C729.8 1039.8 740.5 1040.2 745.2 1041.3C749.9 1042.3 752.9 1044.8 754.2 1046.5C755.5 1048.3 755.5 1051 752.8 1051.8C750.1 1052.6 742.4 1052 738.3 1051.4C734.1 1050.9 730.4 1049.5 727.9 1048.3C725.3 1047.1 723.3 1045.4 723 1044.1C722.7 1042.7 722.4 1040.7 726.1 1040.2Z" fill="#ecebe9" stroke="#cfc9c9" stroke-width="0.9"/>
<path d="M849.1 976.8C848.2 973.2 849.9 968.5 852.5 965.6C855.1 962.6 860.6 959.5 864.7 959.3C868.7 959 873.7 961.3 876.8 963.8C879.8 966.3 882.4 970.8 883 974.3C883.6 977.8 882.4 982.3 880.2 984.8C878 987.4 873.6 989 869.8 989.4C866.1 989.8 861.2 989.4 857.7 987.3C854.3 985.2 849.9 980.4 849.1 976.8Z" fill="#f1c3cd" stroke="#d9a9b4" stroke-width="0.8"/>
<ellipse cx="909.7" cy="986.6" rx="6" ry="3.8" transform="rotate(-8 909.7 986.6)" fill="#2f2f31"/><circle cx="911.9" cy="986.9" r="1.1" fill="#fff"/>
<path d="M943.3 1004.1Q932.2 1008.3 917.6 1021.6M941.9 1006.2Q931.5 1013.9 921.1 1032.9M944.6 1006.6Q937.4 1018.1 932.2 1032.9M942.6 1005.2Q932.9 1011.8 925.9 1025.2" fill="none" stroke="#b5afaf" stroke-width="0.7"/>
<circle cx="947.1" cy="1003.4" r="3.6" fill="#c48a8a" stroke="#a87474" stroke-width="0.5"/>
<defs><radialGradient id="lg7931" cx="0.5" cy="0.45" r="0.6"><stop offset="0" stop-color="#f7aaa0"/><stop offset="1" stop-color="#f3948a"/></radialGradient></defs><path d="M783.6 961.7C785.2 961.2 786 962.1 786.6 963.5C787.3 964.9 787.5 967.7 787.5 970.2C787.5 972.7 787 975.9 786.6 978.7C786.3 981.6 785.4 984.4 785.4 987.3C785.4 990.1 786.6 993.1 786.6 995.8C786.6 998.4 786.3 1001.3 785.4 1003.1C784.5 1004.9 782.7 1006 781.1 1006.8C779.5 1007.5 777.4 1007.8 775.6 1007.4C773.9 1007 772.1 1005.9 770.8 1004.3C769.4 1002.7 768.2 1000.5 767.7 997.6C767.3 994.8 767.5 990.9 768.1 987.3C768.7 983.6 769.9 979.1 771.4 975.7C772.8 972.2 774.8 968.9 776.9 966.5C778.9 964.2 781.9 962.2 783.6 961.7Z" fill="url(#lg7931)" stroke="#d96c62" stroke-width="0.7"/><path d="M803.7 962.7C805.2 962.9 807.9 963.7 809.8 965.3C811.6 967 813.3 969.6 814.6 972.6C815.9 975.7 817.1 980 817.7 983.6C818.2 987.3 818.3 991.5 818 994.6C817.7 997.6 817.2 1000.1 815.8 1001.9C814.5 1003.7 812 1004.7 809.8 1005.5C807.5 1006.3 804.2 1006.7 802.4 1006.8C800.7 1006.8 800 1008.4 799.4 1005.8C798.8 1003.1 798.9 995.4 798.8 990.9C798.7 986.4 798.7 982.4 798.8 978.7C798.9 975.1 799.1 971.4 799.4 969C799.7 966.5 800 965.2 800.7 964.1C801.4 963.1 802.2 962.4 803.7 962.7Z" fill="url(#lg7931)" stroke="#d96c62" stroke-width="0.7"/><path d="M786.8 984.3C788.1 984.1 791.6 986.3 793.2 988.2C794.7 990.1 795.6 993.1 796.1 995.8C796.6 998.4 797.2 1003.1 796.4 1004.1C795.5 1005.1 792.8 1003.2 791.2 1001.9C789.7 1000.6 787.8 998.4 786.8 996.4C785.9 994.4 785.6 991.7 785.6 989.7C785.6 987.7 785.6 984.6 786.8 984.3Z" fill="#e87a70" stroke="#d96c62" stroke-width="0.5"/><path d="M793.3 950.1L793.3 967.2" stroke="#de5654" stroke-width="2.6" stroke-linecap="round" fill="none"/><path d="M793.3 966.2Q784.2 977.5 781.4 987.3T780.8 994" stroke="#de5654" stroke-width="1.8" stroke-linecap="round" fill="none"/><path d="M793.3 966.2Q801.2 976.3 805.1 984.8T807.6 991.5" stroke="#de5654" stroke-width="1.8" stroke-linecap="round" fill="none"/><path d="M785.4 976.3L779.9 972.6M783 981.2L776.3 981.2M781.7 987.3L775 990.9M781.2 990.9L784.2 998.2M780.8 994L776.9 1000.1M800.6 975.7L806.1 970.8M803.7 981.2L810.4 978.7M805.5 986L812.2 987.3M806.7 989.7L804.3 996.4M807.6 991.5L812.2 997" stroke="#de5654" stroke-width="0.8" stroke-linecap="round" fill="none"/>
<path d="M608.9 914.3L770.8 976.9M817.1 976.7L978.7 915.1" fill="none" stroke="#222" stroke-width="1.2" stroke-dasharray="3 2.4"/>
<g transform="translate(597.9,927.3) rotate(60.7)"><rect x="0" y="-4.4" width="1.6" height="8.8" rx="0.8" fill="#9aa0a8"/><rect x="1.4" y="-1.2" width="16" height="2.4" fill="#c3c7cd" stroke="#a2a7ae" stroke-width="0.4"/><rect x="15.6" y="-5" width="1.7" height="10" rx="0.8" fill="#8f959d"/><rect x="17" y="-2.7" width="39" height="5.4" rx="1" fill="#eef0f3" stroke="#9aa0a8" stroke-width="0.7"/><rect x="42.5" y="-3.2" width="13.8" height="6.4" rx="0.8" fill="#e32626"/><rect x="40.2" y="-2.9" width="2.6" height="5.8" fill="#5e6268"/><path d="M22 -2.7v2.2M27 -2.7v2.2M32 -2.7v2.2M37 -2.7v2.2" stroke="#9aa0a8" stroke-width="0.5"/><path d="M56.3 -2.1L65.5 -0.8V0.8L56.3 2.1Z" fill="#2fb5a2"/><path d="M65 0H83.8" stroke="#7d848c" stroke-width="0.9"/></g>
<!-- p90_text -->
<g font-family="'Liberation Sans', sans-serif">
<text x="26.5" y="76.5" font-size="18" text-anchor="start" font-weight="normal" fill="#000">HC</text>
<text x="20.5" y="164" font-size="18" text-anchor="start" font-weight="normal" fill="#000">LTBI</text>
<text x="22.5" y="245.5" font-size="18" text-anchor="start" font-weight="normal" fill="#000">ATB</text>
<text x="347" y="252.5" font-size="18" text-anchor="middle" font-weight="normal" fill="#000">NK cells</text>
<text x="530" y="133.8" font-size="18" text-anchor="middle" font-weight="normal" fill="#000">RNA-Seq</text>
<text x="530" y="289" font-size="18" text-anchor="middle" font-weight="normal" fill="#000">CyTOF</text>
<text x="780.5" y="255" font-size="18" text-anchor="middle" font-weight="normal" fill="#000">Transcriptional</text>
<text x="780.5" y="273.3" font-size="18" text-anchor="middle" font-weight="normal" fill="#000">profiling of NK cells</text>
<text x="968" y="255" font-size="18" text-anchor="middle" font-weight="normal" fill="#000">ATB-specific</text>
<text x="968" y="273.3" font-size="18" text-anchor="middle" font-weight="normal" fill="#000">NK cell subset</text>
<text x="265" y="329.6" font-size="18.2" text-anchor="middle" font-weight="bold" fill="#000">Control treatment</text>
<text x="155" y="357" font-size="18" text-anchor="middle" font-weight="normal" fill="#000">Macrophage</text>
<text x="370" y="357" font-size="18" text-anchor="middle" font-weight="normal" fill="#000">NK cell</text>
<text x="279.3" y="382.1" font-size="18" text-anchor="middle" font-weight="normal" fill="#000">LILRB1</text>
<text x="178" y="631.9" font-size="18" text-anchor="middle" font-weight="normal" fill="#000">HLA-G</text>
<text x="353.2" y="632.2" font-size="15.3" text-anchor="start" font-weight="normal" fill="#000">Perforin</text>
<text x="433.3" y="632.2" font-size="15.3" text-anchor="start" font-weight="normal" fill="#000">Granzyme B</text>
<text x="262.5" y="692.3" font-size="18.2" text-anchor="middle" font-weight="bold" fill="#000">NK cell exhaustion</text>
<text x="40.4" y="967.9" font-size="18" text-anchor="start" font-weight="normal" fill="#000">ATB</text>
<text x="29.4" y="989.8" font-size="18" text-anchor="start" font-weight="normal" fill="#000">PBMCs</text>
<text x="257.3" y="1023.5" font-size="18" text-anchor="middle" font-weight="normal" fill="#000">TB progression</text>
<text x="493" y="1002.5" font-size="18" text-anchor="middle" font-weight="normal" fill="#000">Mtb</text>
<text x="262.3" y="1091.5" font-size="18.2" text-anchor="middle" font-weight="bold" fill="#000">Immuno-humanized NCG mice</text>
<text x="786.8" y="329.6" font-size="18.2" text-anchor="middle" font-weight="bold" fill="#000">LILRB1 blockade</text>
<text x="990.5" y="351" font-size="18" text-anchor="middle" font-weight="normal" fill="#000">Anti-LILRB1 pAb</text>
<text x="793.7" y="692.3" font-size="18.2" text-anchor="middle" font-weight="bold" fill="#000">Restoration of NK cell functions</text>
<text x="566" y="968.4" font-size="18" text-anchor="start" font-weight="normal" fill="#000">ATB</text>
<text x="555.5" y="990.3" font-size="18" text-anchor="start" font-weight="normal" fill="#000">PBMCs</text>
<text x="792.8" y="1024" font-size="18" text-anchor="middle" font-weight="normal" fill="#000">TB control</text>
<text x="1018.8" y="1003.5" font-size="18" text-anchor="middle" font-weight="normal" fill="#000">Mtb</text>
<text x="793.4" y="1091.5" font-size="18.2" text-anchor="middle" font-weight="bold" fill="#000">Immuno-humanized NCG mice</text>
</g>
</svg>
</body></html>
